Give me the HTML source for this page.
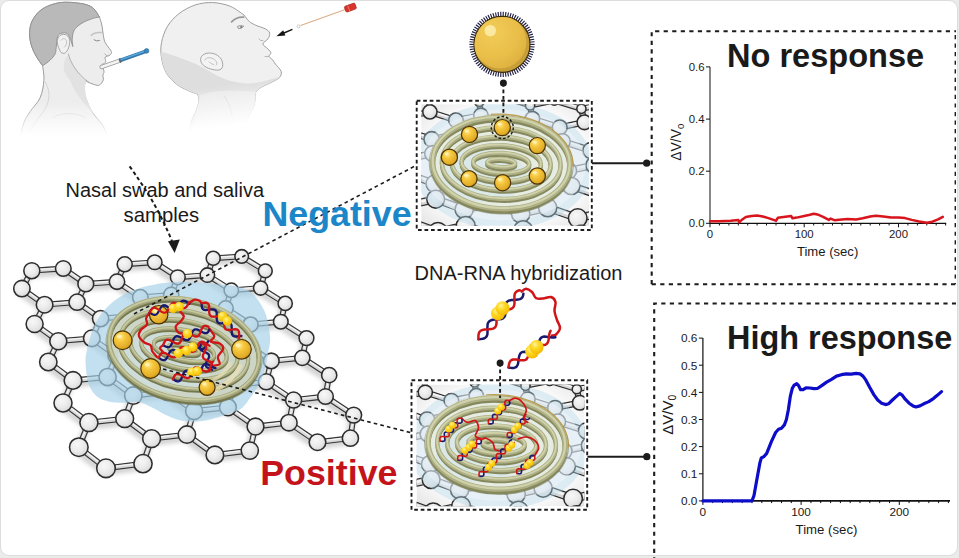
<!DOCTYPE html>
<html><head><meta charset="utf-8"><title>figure</title>
<style>
html,body{margin:0;padding:0;}
body{width:959px;height:558px;background:#ebebeb;overflow:hidden;position:relative;font-family:"Liberation Sans",sans-serif;}
#card{position:absolute;left:0;top:0;width:955.5px;height:553.6px;background:#fff;border:1px solid #dcdcdc;border-radius:9px;}
svg{position:absolute;left:0;top:0;}
.t{position:absolute;white-space:nowrap;color:#1a1a1a;line-height:1;}
.bo{stroke:#333;stroke-width:5.8;stroke-linecap:butt;}
.bf{stroke:#d8d8d8;stroke-width:3.5;}
.bh{stroke:#f6f6f6;stroke-width:1.1;}
.nd{fill:url(#gs);stroke:#2d2d2d;stroke-width:1.55;}
.dash{fill:none;stroke:#1c1c1c;stroke-width:1.9;stroke-dasharray:3.7 2.8;}
.ax{stroke:#111;stroke-width:1.3;fill:none;}
.tk{stroke:#111;stroke-width:1;}
.tl{font-family:"Liberation Sans",sans-serif;font-size:10.6px;fill:#1a1a1a;}
</style></head><body>
<div id="card"></div>
<svg width="959" height="558" viewBox="0 0 959 558">
<defs>
<radialGradient id="gs" cx="0.40" cy="0.36" r="0.68">
<stop offset="0" stop-color="#f7f7f7"/><stop offset="0.5" stop-color="#ececec"/><stop offset="0.85" stop-color="#dedede"/><stop offset="1" stop-color="#c4c4c4"/>
</radialGradient>
<radialGradient id="gg" cx="0.38" cy="0.32" r="0.75">
<stop offset="0" stop-color="#ffe68a"/><stop offset="0.35" stop-color="#f4c63c"/><stop offset="0.8" stop-color="#e1aa26"/><stop offset="1" stop-color="#b98516"/>
</radialGradient>
<radialGradient id="gy" cx="0.38" cy="0.32" r="0.75">
<stop offset="0" stop-color="#fff3a0"/><stop offset="0.4" stop-color="#ffd820"/><stop offset="1" stop-color="#f0b400"/>
</radialGradient>
</defs>

<filter id="blur" x="-10%" y="-10%" width="120%" height="120%"><feGaussianBlur stdDeviation="2.2"/></filter>
<g filter="url(#blur)" stroke="#8a8a8a" stroke-width="7" stroke-linecap="round" opacity="0.38"><line x1="248.6" y1="328.1" x2="278.8" y2="325.4"/><line x1="248.6" y1="328.1" x2="243.3" y2="347.5"/><line x1="278.8" y1="325.4" x2="304.5" y2="341.8"/><line x1="83.8" y1="287.6" x2="115.0" y2="285.4"/><line x1="83.8" y1="287.6" x2="75.1" y2="305.9"/><line x1="131.3" y1="399.3" x2="165.5" y2="395.8"/><line x1="131.3" y1="399.3" x2="122.7" y2="422.4"/><line x1="315.5" y1="445.9" x2="348.4" y2="441.9"/><line x1="115.0" y1="285.4" x2="138.3" y2="301.0"/><line x1="152.7" y1="266.0" x2="175.8" y2="281.0"/><line x1="165.5" y1="395.8" x2="192.1" y2="414.7"/><line x1="211.9" y1="350.4" x2="243.3" y2="347.5"/><line x1="211.9" y1="350.4" x2="205.6" y2="370.9"/><line x1="42.6" y1="308.4" x2="75.1" y2="305.9"/><line x1="42.6" y1="308.4" x2="32.6" y2="327.7"/><line x1="243.3" y1="347.5" x2="269.3" y2="364.6"/><line x1="75.1" y1="305.9" x2="98.6" y2="322.3"/><line x1="205.6" y1="370.9" x2="232.0" y2="388.9"/><line x1="86.9" y1="426.3" x2="122.7" y2="422.4"/><line x1="86.9" y1="426.3" x2="76.8" y2="450.9"/><line x1="122.7" y1="422.4" x2="149.6" y2="442.4"/><line x1="304.5" y1="341.8" x2="300.3" y2="361.5"/><line x1="138.3" y1="301.0" x2="169.2" y2="298.6"/><line x1="138.3" y1="301.0" x2="130.7" y2="319.6"/><line x1="19.9" y1="292.3" x2="42.6" y2="308.4"/><line x1="211.2" y1="262.0" x2="239.7" y2="260.1"/><line x1="211.2" y1="262.0" x2="205.4" y2="278.8"/><line x1="61.0" y1="406.7" x2="86.9" y2="426.3"/><line x1="192.1" y1="414.7" x2="225.9" y2="411.0"/><line x1="192.1" y1="414.7" x2="184.9" y2="438.3"/><line x1="239.7" y1="260.1" x2="263.3" y2="274.6"/><line x1="300.3" y1="361.5" x2="327.2" y2="378.9"/><line x1="351.7" y1="418.8" x2="348.4" y2="441.9"/><line x1="269.3" y1="364.6" x2="300.3" y2="361.5"/><line x1="269.3" y1="364.6" x2="264.3" y2="385.5"/><line x1="98.6" y1="322.3" x2="130.7" y2="319.6"/><line x1="98.6" y1="322.3" x2="89.8" y2="342.0"/><line x1="149.6" y1="442.4" x2="184.9" y2="438.3"/><line x1="149.6" y1="442.4" x2="141.0" y2="467.4"/><line x1="130.7" y1="319.6" x2="155.0" y2="336.3"/><line x1="169.2" y1="298.6" x2="193.3" y2="314.5"/><line x1="184.9" y1="438.3" x2="212.9" y2="458.6"/><line x1="175.8" y1="281.0" x2="205.4" y2="278.8"/><line x1="175.8" y1="281.0" x2="169.2" y2="298.6"/><line x1="232.0" y1="388.9" x2="264.3" y2="385.5"/><line x1="232.0" y1="388.9" x2="225.9" y2="411.0"/><line x1="205.4" y1="278.8" x2="229.3" y2="294.0"/><line x1="264.3" y1="385.5" x2="291.6" y2="403.8"/><line x1="89.8" y1="342.0" x2="114.3" y2="359.4"/><line x1="225.9" y1="411.0" x2="253.5" y2="430.2"/><line x1="56.3" y1="344.9" x2="89.8" y2="342.0"/><line x1="56.3" y1="344.9" x2="46.3" y2="365.7"/><line x1="104.0" y1="472.0" x2="141.0" y2="467.4"/><line x1="263.3" y1="274.6" x2="258.6" y2="291.7"/><line x1="327.2" y1="378.9" x2="323.5" y2="400.2"/><line x1="155.0" y1="336.3" x2="186.8" y2="333.5"/><line x1="155.0" y1="336.3" x2="147.5" y2="356.3"/><line x1="32.6" y1="327.7" x2="56.3" y2="344.9"/><line x1="229.3" y1="294.0" x2="258.6" y2="291.7"/><line x1="229.3" y1="294.0" x2="223.7" y2="312.0"/><line x1="76.8" y1="450.9" x2="104.0" y2="472.0"/><line x1="212.9" y1="458.6" x2="247.8" y2="454.3"/><line x1="258.6" y1="291.7" x2="283.2" y2="307.1"/><line x1="291.6" y1="403.8" x2="323.5" y2="400.2"/><line x1="291.6" y1="403.8" x2="286.9" y2="426.4"/><line x1="114.3" y1="359.4" x2="147.5" y2="356.3"/><line x1="114.3" y1="359.4" x2="105.6" y2="380.7"/><line x1="323.5" y1="400.2" x2="351.7" y2="418.8"/><line x1="147.5" y1="356.3" x2="172.9" y2="374.1"/><line x1="186.8" y1="333.5" x2="211.9" y2="350.4"/><line x1="193.3" y1="314.5" x2="223.7" y2="312.0"/><line x1="193.3" y1="314.5" x2="186.8" y2="333.5"/><line x1="29.8" y1="274.4" x2="61.3" y2="272.2"/><line x1="29.8" y1="274.4" x2="19.9" y2="292.3"/><line x1="253.5" y1="430.2" x2="286.9" y2="426.4"/><line x1="253.5" y1="430.2" x2="247.8" y2="454.3"/><line x1="223.7" y1="312.0" x2="248.6" y2="328.1"/><line x1="61.3" y1="272.2" x2="83.8" y2="287.6"/><line x1="286.9" y1="426.4" x2="315.5" y2="445.9"/><line x1="71.0" y1="384.1" x2="105.6" y2="380.7"/><line x1="71.0" y1="384.1" x2="61.0" y2="406.7"/><line x1="105.6" y1="380.7" x2="131.3" y2="399.3"/><line x1="283.2" y1="307.1" x2="278.8" y2="325.4"/><line x1="122.7" y1="268.0" x2="152.7" y2="266.0"/><line x1="122.7" y1="268.0" x2="115.0" y2="285.4"/><line x1="172.9" y1="374.1" x2="205.6" y2="370.9"/><line x1="172.9" y1="374.1" x2="165.5" y2="395.8"/><line x1="46.3" y1="365.7" x2="71.0" y2="384.1"/></g>
<g id="lattice" transform="translate(0,1.8)">
<line x1="250.6" y1="322.6" x2="280.8" y2="319.9" class="bo"/>
<line x1="250.6" y1="322.6" x2="245.3" y2="342.0" class="bo"/>
<line x1="280.8" y1="319.9" x2="306.5" y2="336.3" class="bo"/>
<line x1="85.8" y1="282.1" x2="117.0" y2="279.9" class="bo"/>
<line x1="85.8" y1="282.1" x2="77.1" y2="300.4" class="bo"/>
<line x1="133.3" y1="393.8" x2="167.5" y2="390.3" class="bo"/>
<line x1="133.3" y1="393.8" x2="124.7" y2="416.9" class="bo"/>
<line x1="317.5" y1="440.4" x2="350.4" y2="436.4" class="bo"/>
<line x1="117.0" y1="279.9" x2="140.3" y2="295.5" class="bo"/>
<line x1="154.7" y1="260.5" x2="177.8" y2="275.5" class="bo"/>
<line x1="167.5" y1="390.3" x2="194.1" y2="409.2" class="bo"/>
<line x1="213.9" y1="344.9" x2="245.3" y2="342.0" class="bo"/>
<line x1="213.9" y1="344.9" x2="207.6" y2="365.4" class="bo"/>
<line x1="44.6" y1="302.9" x2="77.1" y2="300.4" class="bo"/>
<line x1="44.6" y1="302.9" x2="34.6" y2="322.2" class="bo"/>
<line x1="245.3" y1="342.0" x2="271.3" y2="359.1" class="bo"/>
<line x1="77.1" y1="300.4" x2="100.6" y2="316.8" class="bo"/>
<line x1="207.6" y1="365.4" x2="234.0" y2="383.4" class="bo"/>
<line x1="88.9" y1="420.8" x2="124.7" y2="416.9" class="bo"/>
<line x1="88.9" y1="420.8" x2="78.8" y2="445.4" class="bo"/>
<line x1="124.7" y1="416.9" x2="151.6" y2="436.9" class="bo"/>
<line x1="306.5" y1="336.3" x2="302.3" y2="356.0" class="bo"/>
<line x1="140.3" y1="295.5" x2="171.2" y2="293.1" class="bo"/>
<line x1="140.3" y1="295.5" x2="132.7" y2="314.1" class="bo"/>
<line x1="21.9" y1="286.8" x2="44.6" y2="302.9" class="bo"/>
<line x1="213.2" y1="256.5" x2="241.7" y2="254.6" class="bo"/>
<line x1="213.2" y1="256.5" x2="207.4" y2="273.3" class="bo"/>
<line x1="63.0" y1="401.2" x2="88.9" y2="420.8" class="bo"/>
<line x1="194.1" y1="409.2" x2="227.9" y2="405.5" class="bo"/>
<line x1="194.1" y1="409.2" x2="186.9" y2="432.8" class="bo"/>
<line x1="241.7" y1="254.6" x2="265.3" y2="269.1" class="bo"/>
<line x1="302.3" y1="356.0" x2="329.2" y2="373.4" class="bo"/>
<line x1="353.7" y1="413.3" x2="350.4" y2="436.4" class="bo"/>
<line x1="271.3" y1="359.1" x2="302.3" y2="356.0" class="bo"/>
<line x1="271.3" y1="359.1" x2="266.3" y2="380.0" class="bo"/>
<line x1="100.6" y1="316.8" x2="132.7" y2="314.1" class="bo"/>
<line x1="100.6" y1="316.8" x2="91.8" y2="336.5" class="bo"/>
<line x1="151.6" y1="436.9" x2="186.9" y2="432.8" class="bo"/>
<line x1="151.6" y1="436.9" x2="143.0" y2="461.9" class="bo"/>
<line x1="132.7" y1="314.1" x2="157.0" y2="330.8" class="bo"/>
<line x1="171.2" y1="293.1" x2="195.3" y2="309.0" class="bo"/>
<line x1="186.9" y1="432.8" x2="214.9" y2="453.1" class="bo"/>
<line x1="177.8" y1="275.5" x2="207.4" y2="273.3" class="bo"/>
<line x1="177.8" y1="275.5" x2="171.2" y2="293.1" class="bo"/>
<line x1="234.0" y1="383.4" x2="266.3" y2="380.0" class="bo"/>
<line x1="234.0" y1="383.4" x2="227.9" y2="405.5" class="bo"/>
<line x1="207.4" y1="273.3" x2="231.3" y2="288.5" class="bo"/>
<line x1="266.3" y1="380.0" x2="293.6" y2="398.3" class="bo"/>
<line x1="91.8" y1="336.5" x2="116.3" y2="353.9" class="bo"/>
<line x1="227.9" y1="405.5" x2="255.5" y2="424.7" class="bo"/>
<line x1="58.3" y1="339.4" x2="91.8" y2="336.5" class="bo"/>
<line x1="58.3" y1="339.4" x2="48.3" y2="360.2" class="bo"/>
<line x1="106.0" y1="466.5" x2="143.0" y2="461.9" class="bo"/>
<line x1="265.3" y1="269.1" x2="260.6" y2="286.2" class="bo"/>
<line x1="329.2" y1="373.4" x2="325.5" y2="394.7" class="bo"/>
<line x1="157.0" y1="330.8" x2="188.8" y2="328.0" class="bo"/>
<line x1="157.0" y1="330.8" x2="149.5" y2="350.8" class="bo"/>
<line x1="34.6" y1="322.2" x2="58.3" y2="339.4" class="bo"/>
<line x1="231.3" y1="288.5" x2="260.6" y2="286.2" class="bo"/>
<line x1="231.3" y1="288.5" x2="225.7" y2="306.5" class="bo"/>
<line x1="78.8" y1="445.4" x2="106.0" y2="466.5" class="bo"/>
<line x1="214.9" y1="453.1" x2="249.8" y2="448.8" class="bo"/>
<line x1="260.6" y1="286.2" x2="285.2" y2="301.6" class="bo"/>
<line x1="293.6" y1="398.3" x2="325.5" y2="394.7" class="bo"/>
<line x1="293.6" y1="398.3" x2="288.9" y2="420.9" class="bo"/>
<line x1="116.3" y1="353.9" x2="149.5" y2="350.8" class="bo"/>
<line x1="116.3" y1="353.9" x2="107.6" y2="375.2" class="bo"/>
<line x1="325.5" y1="394.7" x2="353.7" y2="413.3" class="bo"/>
<line x1="149.5" y1="350.8" x2="174.9" y2="368.6" class="bo"/>
<line x1="188.8" y1="328.0" x2="213.9" y2="344.9" class="bo"/>
<line x1="195.3" y1="309.0" x2="225.7" y2="306.5" class="bo"/>
<line x1="195.3" y1="309.0" x2="188.8" y2="328.0" class="bo"/>
<line x1="31.8" y1="268.9" x2="63.3" y2="266.7" class="bo"/>
<line x1="31.8" y1="268.9" x2="21.9" y2="286.8" class="bo"/>
<line x1="255.5" y1="424.7" x2="288.9" y2="420.9" class="bo"/>
<line x1="255.5" y1="424.7" x2="249.8" y2="448.8" class="bo"/>
<line x1="225.7" y1="306.5" x2="250.6" y2="322.6" class="bo"/>
<line x1="63.3" y1="266.7" x2="85.8" y2="282.1" class="bo"/>
<line x1="288.9" y1="420.9" x2="317.5" y2="440.4" class="bo"/>
<line x1="73.0" y1="378.6" x2="107.6" y2="375.2" class="bo"/>
<line x1="73.0" y1="378.6" x2="63.0" y2="401.2" class="bo"/>
<line x1="107.6" y1="375.2" x2="133.3" y2="393.8" class="bo"/>
<line x1="285.2" y1="301.6" x2="280.8" y2="319.9" class="bo"/>
<line x1="124.7" y1="262.5" x2="154.7" y2="260.5" class="bo"/>
<line x1="124.7" y1="262.5" x2="117.0" y2="279.9" class="bo"/>
<line x1="174.9" y1="368.6" x2="207.6" y2="365.4" class="bo"/>
<line x1="174.9" y1="368.6" x2="167.5" y2="390.3" class="bo"/>
<line x1="48.3" y1="360.2" x2="73.0" y2="378.6" class="bo"/>
<line x1="250.6" y1="322.6" x2="280.8" y2="319.9" class="bf"/>
<line x1="250.6" y1="321.8" x2="280.8" y2="319.1" class="bh"/>
<line x1="250.6" y1="322.6" x2="245.3" y2="342.0" class="bf"/>
<line x1="250.6" y1="321.8" x2="245.3" y2="341.2" class="bh"/>
<line x1="280.8" y1="319.9" x2="306.5" y2="336.3" class="bf"/>
<line x1="280.8" y1="319.1" x2="306.5" y2="335.5" class="bh"/>
<line x1="85.8" y1="282.1" x2="117.0" y2="279.9" class="bf"/>
<line x1="85.8" y1="281.3" x2="117.0" y2="279.1" class="bh"/>
<line x1="85.8" y1="282.1" x2="77.1" y2="300.4" class="bf"/>
<line x1="85.8" y1="281.3" x2="77.1" y2="299.6" class="bh"/>
<line x1="133.3" y1="393.8" x2="167.5" y2="390.3" class="bf"/>
<line x1="133.3" y1="393.0" x2="167.5" y2="389.5" class="bh"/>
<line x1="133.3" y1="393.8" x2="124.7" y2="416.9" class="bf"/>
<line x1="133.3" y1="393.0" x2="124.7" y2="416.1" class="bh"/>
<line x1="317.5" y1="440.4" x2="350.4" y2="436.4" class="bf"/>
<line x1="317.5" y1="439.6" x2="350.4" y2="435.6" class="bh"/>
<line x1="117.0" y1="279.9" x2="140.3" y2="295.5" class="bf"/>
<line x1="117.0" y1="279.1" x2="140.3" y2="294.7" class="bh"/>
<line x1="154.7" y1="260.5" x2="177.8" y2="275.5" class="bf"/>
<line x1="154.7" y1="259.7" x2="177.8" y2="274.7" class="bh"/>
<line x1="167.5" y1="390.3" x2="194.1" y2="409.2" class="bf"/>
<line x1="167.5" y1="389.5" x2="194.1" y2="408.4" class="bh"/>
<line x1="213.9" y1="344.9" x2="245.3" y2="342.0" class="bf"/>
<line x1="213.9" y1="344.1" x2="245.3" y2="341.2" class="bh"/>
<line x1="213.9" y1="344.9" x2="207.6" y2="365.4" class="bf"/>
<line x1="213.9" y1="344.1" x2="207.6" y2="364.6" class="bh"/>
<line x1="44.6" y1="302.9" x2="77.1" y2="300.4" class="bf"/>
<line x1="44.6" y1="302.1" x2="77.1" y2="299.6" class="bh"/>
<line x1="44.6" y1="302.9" x2="34.6" y2="322.2" class="bf"/>
<line x1="44.6" y1="302.1" x2="34.6" y2="321.4" class="bh"/>
<line x1="245.3" y1="342.0" x2="271.3" y2="359.1" class="bf"/>
<line x1="245.3" y1="341.2" x2="271.3" y2="358.3" class="bh"/>
<line x1="77.1" y1="300.4" x2="100.6" y2="316.8" class="bf"/>
<line x1="77.1" y1="299.6" x2="100.6" y2="316.0" class="bh"/>
<line x1="207.6" y1="365.4" x2="234.0" y2="383.4" class="bf"/>
<line x1="207.6" y1="364.6" x2="234.0" y2="382.6" class="bh"/>
<line x1="88.9" y1="420.8" x2="124.7" y2="416.9" class="bf"/>
<line x1="88.9" y1="420.0" x2="124.7" y2="416.1" class="bh"/>
<line x1="88.9" y1="420.8" x2="78.8" y2="445.4" class="bf"/>
<line x1="88.9" y1="420.0" x2="78.8" y2="444.6" class="bh"/>
<line x1="124.7" y1="416.9" x2="151.6" y2="436.9" class="bf"/>
<line x1="124.7" y1="416.1" x2="151.6" y2="436.1" class="bh"/>
<line x1="306.5" y1="336.3" x2="302.3" y2="356.0" class="bf"/>
<line x1="306.5" y1="335.5" x2="302.3" y2="355.2" class="bh"/>
<line x1="140.3" y1="295.5" x2="171.2" y2="293.1" class="bf"/>
<line x1="140.3" y1="294.7" x2="171.2" y2="292.3" class="bh"/>
<line x1="140.3" y1="295.5" x2="132.7" y2="314.1" class="bf"/>
<line x1="140.3" y1="294.7" x2="132.7" y2="313.3" class="bh"/>
<line x1="21.9" y1="286.8" x2="44.6" y2="302.9" class="bf"/>
<line x1="21.9" y1="286.0" x2="44.6" y2="302.1" class="bh"/>
<line x1="213.2" y1="256.5" x2="241.7" y2="254.6" class="bf"/>
<line x1="213.2" y1="255.7" x2="241.7" y2="253.8" class="bh"/>
<line x1="213.2" y1="256.5" x2="207.4" y2="273.3" class="bf"/>
<line x1="213.2" y1="255.7" x2="207.4" y2="272.5" class="bh"/>
<line x1="63.0" y1="401.2" x2="88.9" y2="420.8" class="bf"/>
<line x1="63.0" y1="400.4" x2="88.9" y2="420.0" class="bh"/>
<line x1="194.1" y1="409.2" x2="227.9" y2="405.5" class="bf"/>
<line x1="194.1" y1="408.4" x2="227.9" y2="404.7" class="bh"/>
<line x1="194.1" y1="409.2" x2="186.9" y2="432.8" class="bf"/>
<line x1="194.1" y1="408.4" x2="186.9" y2="432.0" class="bh"/>
<line x1="241.7" y1="254.6" x2="265.3" y2="269.1" class="bf"/>
<line x1="241.7" y1="253.8" x2="265.3" y2="268.3" class="bh"/>
<line x1="302.3" y1="356.0" x2="329.2" y2="373.4" class="bf"/>
<line x1="302.3" y1="355.2" x2="329.2" y2="372.6" class="bh"/>
<line x1="353.7" y1="413.3" x2="350.4" y2="436.4" class="bf"/>
<line x1="353.7" y1="412.5" x2="350.4" y2="435.6" class="bh"/>
<line x1="271.3" y1="359.1" x2="302.3" y2="356.0" class="bf"/>
<line x1="271.3" y1="358.3" x2="302.3" y2="355.2" class="bh"/>
<line x1="271.3" y1="359.1" x2="266.3" y2="380.0" class="bf"/>
<line x1="271.3" y1="358.3" x2="266.3" y2="379.2" class="bh"/>
<line x1="100.6" y1="316.8" x2="132.7" y2="314.1" class="bf"/>
<line x1="100.6" y1="316.0" x2="132.7" y2="313.3" class="bh"/>
<line x1="100.6" y1="316.8" x2="91.8" y2="336.5" class="bf"/>
<line x1="100.6" y1="316.0" x2="91.8" y2="335.7" class="bh"/>
<line x1="151.6" y1="436.9" x2="186.9" y2="432.8" class="bf"/>
<line x1="151.6" y1="436.1" x2="186.9" y2="432.0" class="bh"/>
<line x1="151.6" y1="436.9" x2="143.0" y2="461.9" class="bf"/>
<line x1="151.6" y1="436.1" x2="143.0" y2="461.1" class="bh"/>
<line x1="132.7" y1="314.1" x2="157.0" y2="330.8" class="bf"/>
<line x1="132.7" y1="313.3" x2="157.0" y2="330.0" class="bh"/>
<line x1="171.2" y1="293.1" x2="195.3" y2="309.0" class="bf"/>
<line x1="171.2" y1="292.3" x2="195.3" y2="308.2" class="bh"/>
<line x1="186.9" y1="432.8" x2="214.9" y2="453.1" class="bf"/>
<line x1="186.9" y1="432.0" x2="214.9" y2="452.3" class="bh"/>
<line x1="177.8" y1="275.5" x2="207.4" y2="273.3" class="bf"/>
<line x1="177.8" y1="274.7" x2="207.4" y2="272.5" class="bh"/>
<line x1="177.8" y1="275.5" x2="171.2" y2="293.1" class="bf"/>
<line x1="177.8" y1="274.7" x2="171.2" y2="292.3" class="bh"/>
<line x1="234.0" y1="383.4" x2="266.3" y2="380.0" class="bf"/>
<line x1="234.0" y1="382.6" x2="266.3" y2="379.2" class="bh"/>
<line x1="234.0" y1="383.4" x2="227.9" y2="405.5" class="bf"/>
<line x1="234.0" y1="382.6" x2="227.9" y2="404.7" class="bh"/>
<line x1="207.4" y1="273.3" x2="231.3" y2="288.5" class="bf"/>
<line x1="207.4" y1="272.5" x2="231.3" y2="287.7" class="bh"/>
<line x1="266.3" y1="380.0" x2="293.6" y2="398.3" class="bf"/>
<line x1="266.3" y1="379.2" x2="293.6" y2="397.5" class="bh"/>
<line x1="91.8" y1="336.5" x2="116.3" y2="353.9" class="bf"/>
<line x1="91.8" y1="335.7" x2="116.3" y2="353.1" class="bh"/>
<line x1="227.9" y1="405.5" x2="255.5" y2="424.7" class="bf"/>
<line x1="227.9" y1="404.7" x2="255.5" y2="423.9" class="bh"/>
<line x1="58.3" y1="339.4" x2="91.8" y2="336.5" class="bf"/>
<line x1="58.3" y1="338.6" x2="91.8" y2="335.7" class="bh"/>
<line x1="58.3" y1="339.4" x2="48.3" y2="360.2" class="bf"/>
<line x1="58.3" y1="338.6" x2="48.3" y2="359.4" class="bh"/>
<line x1="106.0" y1="466.5" x2="143.0" y2="461.9" class="bf"/>
<line x1="106.0" y1="465.7" x2="143.0" y2="461.1" class="bh"/>
<line x1="265.3" y1="269.1" x2="260.6" y2="286.2" class="bf"/>
<line x1="265.3" y1="268.3" x2="260.6" y2="285.4" class="bh"/>
<line x1="329.2" y1="373.4" x2="325.5" y2="394.7" class="bf"/>
<line x1="329.2" y1="372.6" x2="325.5" y2="393.9" class="bh"/>
<line x1="157.0" y1="330.8" x2="188.8" y2="328.0" class="bf"/>
<line x1="157.0" y1="330.0" x2="188.8" y2="327.2" class="bh"/>
<line x1="157.0" y1="330.8" x2="149.5" y2="350.8" class="bf"/>
<line x1="157.0" y1="330.0" x2="149.5" y2="350.0" class="bh"/>
<line x1="34.6" y1="322.2" x2="58.3" y2="339.4" class="bf"/>
<line x1="34.6" y1="321.4" x2="58.3" y2="338.6" class="bh"/>
<line x1="231.3" y1="288.5" x2="260.6" y2="286.2" class="bf"/>
<line x1="231.3" y1="287.7" x2="260.6" y2="285.4" class="bh"/>
<line x1="231.3" y1="288.5" x2="225.7" y2="306.5" class="bf"/>
<line x1="231.3" y1="287.7" x2="225.7" y2="305.7" class="bh"/>
<line x1="78.8" y1="445.4" x2="106.0" y2="466.5" class="bf"/>
<line x1="78.8" y1="444.6" x2="106.0" y2="465.7" class="bh"/>
<line x1="214.9" y1="453.1" x2="249.8" y2="448.8" class="bf"/>
<line x1="214.9" y1="452.3" x2="249.8" y2="448.0" class="bh"/>
<line x1="260.6" y1="286.2" x2="285.2" y2="301.6" class="bf"/>
<line x1="260.6" y1="285.4" x2="285.2" y2="300.8" class="bh"/>
<line x1="293.6" y1="398.3" x2="325.5" y2="394.7" class="bf"/>
<line x1="293.6" y1="397.5" x2="325.5" y2="393.9" class="bh"/>
<line x1="293.6" y1="398.3" x2="288.9" y2="420.9" class="bf"/>
<line x1="293.6" y1="397.5" x2="288.9" y2="420.1" class="bh"/>
<line x1="116.3" y1="353.9" x2="149.5" y2="350.8" class="bf"/>
<line x1="116.3" y1="353.1" x2="149.5" y2="350.0" class="bh"/>
<line x1="116.3" y1="353.9" x2="107.6" y2="375.2" class="bf"/>
<line x1="116.3" y1="353.1" x2="107.6" y2="374.4" class="bh"/>
<line x1="325.5" y1="394.7" x2="353.7" y2="413.3" class="bf"/>
<line x1="325.5" y1="393.9" x2="353.7" y2="412.5" class="bh"/>
<line x1="149.5" y1="350.8" x2="174.9" y2="368.6" class="bf"/>
<line x1="149.5" y1="350.0" x2="174.9" y2="367.8" class="bh"/>
<line x1="188.8" y1="328.0" x2="213.9" y2="344.9" class="bf"/>
<line x1="188.8" y1="327.2" x2="213.9" y2="344.1" class="bh"/>
<line x1="195.3" y1="309.0" x2="225.7" y2="306.5" class="bf"/>
<line x1="195.3" y1="308.2" x2="225.7" y2="305.7" class="bh"/>
<line x1="195.3" y1="309.0" x2="188.8" y2="328.0" class="bf"/>
<line x1="195.3" y1="308.2" x2="188.8" y2="327.2" class="bh"/>
<line x1="31.8" y1="268.9" x2="63.3" y2="266.7" class="bf"/>
<line x1="31.8" y1="268.1" x2="63.3" y2="265.9" class="bh"/>
<line x1="31.8" y1="268.9" x2="21.9" y2="286.8" class="bf"/>
<line x1="31.8" y1="268.1" x2="21.9" y2="286.0" class="bh"/>
<line x1="255.5" y1="424.7" x2="288.9" y2="420.9" class="bf"/>
<line x1="255.5" y1="423.9" x2="288.9" y2="420.1" class="bh"/>
<line x1="255.5" y1="424.7" x2="249.8" y2="448.8" class="bf"/>
<line x1="255.5" y1="423.9" x2="249.8" y2="448.0" class="bh"/>
<line x1="225.7" y1="306.5" x2="250.6" y2="322.6" class="bf"/>
<line x1="225.7" y1="305.7" x2="250.6" y2="321.8" class="bh"/>
<line x1="63.3" y1="266.7" x2="85.8" y2="282.1" class="bf"/>
<line x1="63.3" y1="265.9" x2="85.8" y2="281.3" class="bh"/>
<line x1="288.9" y1="420.9" x2="317.5" y2="440.4" class="bf"/>
<line x1="288.9" y1="420.1" x2="317.5" y2="439.6" class="bh"/>
<line x1="73.0" y1="378.6" x2="107.6" y2="375.2" class="bf"/>
<line x1="73.0" y1="377.8" x2="107.6" y2="374.4" class="bh"/>
<line x1="73.0" y1="378.6" x2="63.0" y2="401.2" class="bf"/>
<line x1="73.0" y1="377.8" x2="63.0" y2="400.4" class="bh"/>
<line x1="107.6" y1="375.2" x2="133.3" y2="393.8" class="bf"/>
<line x1="107.6" y1="374.4" x2="133.3" y2="393.0" class="bh"/>
<line x1="285.2" y1="301.6" x2="280.8" y2="319.9" class="bf"/>
<line x1="285.2" y1="300.8" x2="280.8" y2="319.1" class="bh"/>
<line x1="124.7" y1="262.5" x2="154.7" y2="260.5" class="bf"/>
<line x1="124.7" y1="261.7" x2="154.7" y2="259.7" class="bh"/>
<line x1="124.7" y1="262.5" x2="117.0" y2="279.9" class="bf"/>
<line x1="124.7" y1="261.7" x2="117.0" y2="279.1" class="bh"/>
<line x1="174.9" y1="368.6" x2="207.6" y2="365.4" class="bf"/>
<line x1="174.9" y1="367.8" x2="207.6" y2="364.6" class="bh"/>
<line x1="174.9" y1="368.6" x2="167.5" y2="390.3" class="bf"/>
<line x1="174.9" y1="367.8" x2="167.5" y2="389.5" class="bh"/>
<line x1="48.3" y1="360.2" x2="73.0" y2="378.6" class="bf"/>
<line x1="48.3" y1="359.4" x2="73.0" y2="377.8" class="bh"/>
<circle cx="241.7" cy="254.6" r="6.8" class="nd"/>
<circle cx="213.2" cy="256.5" r="7.0" class="nd"/>
<circle cx="154.7" cy="260.5" r="7.3" class="nd"/>
<circle cx="124.7" cy="262.5" r="7.5" class="nd"/>
<circle cx="63.3" cy="266.7" r="7.8" class="nd"/>
<circle cx="31.8" cy="268.9" r="8.0" class="nd"/>
<circle cx="265.3" cy="269.1" r="6.9" class="nd"/>
<circle cx="207.4" cy="273.3" r="7.2" class="nd"/>
<circle cx="177.8" cy="275.5" r="7.4" class="nd"/>
<circle cx="117.0" cy="279.9" r="7.7" class="nd"/>
<circle cx="85.8" cy="282.1" r="7.9" class="nd"/>
<circle cx="260.6" cy="286.2" r="7.1" class="nd"/>
<circle cx="21.9" cy="286.8" r="8.2" class="nd"/>
<circle cx="231.3" cy="288.5" r="7.2" class="nd"/>
<circle cx="171.2" cy="293.1" r="7.6" class="nd"/>
<circle cx="140.3" cy="295.5" r="7.7" class="nd"/>
<circle cx="77.1" cy="300.4" r="8.1" class="nd"/>
<circle cx="285.2" cy="301.6" r="7.1" class="nd"/>
<circle cx="44.6" cy="302.9" r="8.3" class="nd"/>
<circle cx="225.7" cy="306.5" r="7.5" class="nd"/>
<circle cx="195.3" cy="309.0" r="7.6" class="nd"/>
<circle cx="132.7" cy="314.1" r="8.0" class="nd"/>
<circle cx="100.6" cy="316.8" r="8.1" class="nd"/>
<circle cx="280.8" cy="319.9" r="7.3" class="nd"/>
<circle cx="34.6" cy="322.2" r="8.5" class="nd"/>
<circle cx="250.6" cy="322.6" r="7.5" class="nd"/>
<circle cx="188.8" cy="328.0" r="7.8" class="nd"/>
<circle cx="157.0" cy="330.8" r="8.0" class="nd"/>
<circle cx="306.5" cy="336.3" r="7.4" class="nd"/>
<circle cx="91.8" cy="336.5" r="8.3" class="nd"/>
<circle cx="58.3" cy="339.4" r="8.5" class="nd"/>
<circle cx="245.3" cy="342.0" r="7.7" class="nd"/>
<circle cx="213.9" cy="344.9" r="7.9" class="nd"/>
<circle cx="149.5" cy="350.8" r="8.2" class="nd"/>
<circle cx="116.3" cy="353.9" r="8.4" class="nd"/>
<circle cx="302.3" cy="356.0" r="7.6" class="nd"/>
<circle cx="271.3" cy="359.1" r="7.8" class="nd"/>
<circle cx="48.3" cy="360.2" r="8.7" class="nd"/>
<circle cx="207.6" cy="365.4" r="8.1" class="nd"/>
<circle cx="174.9" cy="368.6" r="8.3" class="nd"/>
<circle cx="329.2" cy="373.4" r="7.6" class="nd"/>
<circle cx="107.6" cy="375.2" r="8.6" class="nd"/>
<circle cx="73.0" cy="378.6" r="8.8" class="nd"/>
<circle cx="266.3" cy="380.0" r="8.0" class="nd"/>
<circle cx="234.0" cy="383.4" r="8.1" class="nd"/>
<circle cx="167.5" cy="390.3" r="8.5" class="nd"/>
<circle cx="133.3" cy="393.8" r="8.7" class="nd"/>
<circle cx="325.5" cy="394.7" r="7.8" class="nd"/>
<circle cx="293.6" cy="398.3" r="8.0" class="nd"/>
<circle cx="63.0" cy="401.2" r="9.0" class="nd"/>
<circle cx="227.9" cy="405.5" r="8.4" class="nd"/>
<circle cx="194.1" cy="409.2" r="8.5" class="nd"/>
<circle cx="353.7" cy="413.3" r="7.9" class="nd"/>
<circle cx="124.7" cy="416.9" r="8.9" class="nd"/>
<circle cx="88.9" cy="420.8" r="9.0" class="nd"/>
<circle cx="288.9" cy="420.9" r="8.2" class="nd"/>
<circle cx="255.5" cy="424.7" r="8.4" class="nd"/>
<circle cx="186.9" cy="432.8" r="8.7" class="nd"/>
<circle cx="350.4" cy="436.4" r="8.1" class="nd"/>
<circle cx="151.6" cy="436.9" r="8.9" class="nd"/>
<circle cx="317.5" cy="440.4" r="8.3" class="nd"/>
<circle cx="78.8" cy="445.4" r="9.3" class="nd"/>
<circle cx="249.8" cy="448.8" r="8.6" class="nd"/>
<circle cx="214.9" cy="453.1" r="8.8" class="nd"/>
<circle cx="143.0" cy="461.9" r="9.1" class="nd"/>
<circle cx="106.0" cy="466.5" r="9.3" class="nd"/>
</g>
<defs><radialGradient id="ibg" cx="0.5" cy="0.5" r="0.75"><stop offset="0" stop-color="#ffffff"/><stop offset="0.7" stop-color="#f8f8f8"/><stop offset="1" stop-color="#dedede"/></radialGradient>
<radialGradient id="gbig" cx="0.36" cy="0.32" r="0.8"><stop offset="0" stop-color="#f2cc58"/><stop offset="0.6" stop-color="#e9be49"/><stop offset="1" stop-color="#dcae3c"/></radialGradient></defs>
<g id="mainsensor"><path d="M86.5 352.0C88.2 344.2 91.4 330.5 96.0 322.0C100.6 313.5 106.7 306.7 114.0 301.0C121.3 295.3 129.7 291.2 140.0 288.0C150.3 284.8 163.5 282.7 176.0 282.0C188.5 281.3 203.2 282.7 215.0 284.0C226.8 285.3 238.8 285.7 247.0 290.0C255.2 294.3 260.2 302.3 264.0 310.0C267.8 317.7 269.3 329.0 270.0 336.0C270.7 343.0 269.0 347.3 268.3 352.0C267.6 356.7 267.1 359.6 266.0 364.0C264.9 368.4 263.9 373.5 261.7 378.5C259.5 383.5 256.3 388.9 253.0 393.8C249.7 398.7 245.5 404.9 242.0 408.0C238.5 411.1 235.8 411.1 232.0 412.6C228.2 414.1 223.9 415.6 219.0 417.0C214.1 418.4 208.4 420.3 202.6 421.0C196.8 421.7 189.8 421.9 184.0 421.0C178.2 420.1 172.8 417.9 167.6 415.7C162.4 413.5 157.8 410.3 153.0 408.0C148.2 405.7 143.9 402.9 139.0 402.0C134.1 401.1 128.9 402.9 123.8 402.8C118.7 402.7 113.1 402.6 108.5 401.5C103.9 400.4 99.7 398.8 96.4 396.0C93.2 393.2 90.7 389.5 89.0 385.0C87.3 380.5 86.4 374.5 86.0 369.0C85.6 363.5 84.8 359.8 86.5 352.0Z" fill="#a6d1ea" opacity="0.68"/>
<ellipse cx="184.0" cy="350.7" rx="79.4" ry="53.3" transform="rotate(12 184.0 350.7)" fill="#6d6f49" opacity="0.5"/>
<ellipse cx="184.0" cy="349.2" rx="78.5" ry="52.2" transform="rotate(12 184.0 349.2)" fill="#cdd6c6"/>
<ellipse cx="164.4" cy="362.2" rx="47.1" ry="28.7" transform="rotate(12 164.4 362.2)" fill="#cfe3ee" opacity="0.5"/>
<ellipse cx="184.0" cy="351.5" rx="75.8" ry="49.5" transform="rotate(12 184.0 351.5)" fill="none" stroke="#74764d" stroke-width="4.39"/>
<ellipse cx="184.0" cy="349.2" rx="75.8" ry="49.5" transform="rotate(12 184.0 349.2)" fill="none" stroke="#a3a57a" stroke-width="4.72"/>
<ellipse cx="184.0" cy="348.5" rx="75.8" ry="49.5" transform="rotate(12 184.0 348.5)" fill="none" stroke="#c6c8a0" stroke-width="1.98"/>
<ellipse cx="184.0" cy="351.1" rx="65.2" ry="38.3" transform="rotate(12 184.0 351.1)" fill="none" stroke="#74764d" stroke-width="3.60"/>
<ellipse cx="184.0" cy="349.2" rx="65.2" ry="38.3" transform="rotate(12 184.0 349.2)" fill="none" stroke="#a3a57a" stroke-width="3.87"/>
<ellipse cx="184.0" cy="348.7" rx="65.2" ry="38.3" transform="rotate(12 184.0 348.7)" fill="none" stroke="#c6c8a0" stroke-width="1.62"/>
<ellipse cx="184.0" cy="351.1" rx="54.4" ry="28.5" transform="rotate(12 184.0 351.1)" fill="none" stroke="#74764d" stroke-width="3.60"/>
<ellipse cx="184.0" cy="349.2" rx="54.4" ry="28.5" transform="rotate(12 184.0 349.2)" fill="none" stroke="#a3a57a" stroke-width="3.87"/>
<ellipse cx="184.0" cy="348.7" rx="54.4" ry="28.5" transform="rotate(12 184.0 348.7)" fill="none" stroke="#c6c8a0" stroke-width="1.62"/>
<ellipse cx="184.0" cy="351.1" rx="43.6" ry="19.2" transform="rotate(12 184.0 351.1)" fill="none" stroke="#74764d" stroke-width="3.60"/>
<ellipse cx="184.0" cy="349.2" rx="43.6" ry="19.2" transform="rotate(12 184.0 349.2)" fill="none" stroke="#a3a57a" stroke-width="3.87"/>
<ellipse cx="184.0" cy="348.7" rx="43.6" ry="19.2" transform="rotate(12 184.0 348.7)" fill="none" stroke="#c6c8a0" stroke-width="1.62"/>
<ellipse cx="184.0" cy="351.1" rx="30.9" ry="10.8" transform="rotate(12 184.0 351.1)" fill="none" stroke="#74764d" stroke-width="3.60"/>
<ellipse cx="184.0" cy="349.2" rx="30.9" ry="10.8" transform="rotate(12 184.0 349.2)" fill="none" stroke="#a3a57a" stroke-width="3.87"/>
<ellipse cx="184.0" cy="348.7" rx="30.9" ry="10.8" transform="rotate(12 184.0 348.7)" fill="none" stroke="#c6c8a0" stroke-width="1.62"/>
<ellipse cx="184.0" cy="351.1" rx="15.5" ry="4.4" transform="rotate(12 184.0 351.1)" fill="none" stroke="#74764d" stroke-width="3.60"/>
<ellipse cx="184.0" cy="349.2" rx="15.5" ry="4.4" transform="rotate(12 184.0 349.2)" fill="none" stroke="#a3a57a" stroke-width="3.87"/>
<ellipse cx="184.0" cy="348.7" rx="15.5" ry="4.4" transform="rotate(12 184.0 348.7)" fill="none" stroke="#c6c8a0" stroke-width="1.62"/>
<path d="M240 366Q232 382 216 390" fill="none" stroke="#eadfb6" stroke-width="4.2" opacity="0.8" stroke-linecap="round"/>
<path d="M230 364Q224 375 212 381" fill="none" stroke="#eadfb6" stroke-width="3.6" opacity="0.7" stroke-linecap="round"/>
<path d="M149.7 312.5C149.1 313.5 146.5 316.3 146.1 318.3C145.7 320.3 147.9 322.7 147.0 324.6C146.1 326.6 142.1 328.1 140.8 330.0C139.5 331.9 138.4 334.1 139.0 336.2C139.6 338.3 142.4 341.0 144.3 342.5C146.2 344.0 149.2 343.7 150.6 345.2C151.9 346.7 151.3 349.6 152.4 351.5C153.5 353.4 156.2 356.0 156.9 356.9" fill="none" stroke="#cf1518" stroke-width="2.3" stroke-linecap="round"/>
<path d="M189.2 303.1C190.0 302.6 192.4 300.2 194.0 299.8C195.6 299.4 197.7 299.9 199.0 300.5C200.3 301.1 201.2 302.7 201.7 303.1" fill="none" stroke="#cf1518" stroke-width="2.3" stroke-linecap="round"/>
<path d="M180.2 311.5C180.8 312.3 183.8 314.8 183.8 316.5C183.8 318.2 181.5 320.2 180.2 321.9C178.8 323.5 176.0 324.6 175.7 326.4C175.4 328.2 176.8 331.5 178.4 332.7C180.1 333.9 184.4 333.5 185.6 333.6" fill="none" stroke="#cf1518" stroke-width="2.3" stroke-linecap="round"/>
<path d="M208.9 328.2C209.8 329.5 214.0 334.0 214.3 336.2C214.6 338.4 209.8 340.4 210.7 341.6C211.6 342.8 217.6 342.2 219.7 343.4C221.8 344.6 223.5 346.6 223.2 348.8C222.9 351.1 218.5 354.4 217.9 356.9C217.3 359.4 220.6 362.5 219.7 364.0C218.8 365.5 213.7 365.5 212.5 365.8" fill="none" stroke="#cf1518" stroke-width="2.3" stroke-linecap="round"/>
<path d="M163.2 345.2C162.7 345.7 160.0 346.9 160.0 348.0C160.0 349.1 162.5 351.3 163.0 352.0" fill="none" stroke="#cf1518" stroke-width="2.3" stroke-linecap="round"/>
<polyline points="149.7,312.5 151.0,313.4 152.2,314.2 153.4,314.8 154.5,315.1 155.5,315.0 156.5,314.6 157.3,313.8 158.1,312.7 158.8,311.4 159.5,310.0 160.2,308.6 161.0,307.3 161.8,306.3 162.7,305.6 163.6,305.3 164.7,305.3 165.8,305.7 167.0,306.4 168.3,307.2 169.5,308.1 170.8,309.1 172.0,309.8 173.2,310.3 174.3,310.5 175.3,310.3 176.2,309.7 177.0,308.8 177.8,307.7 178.5,306.3 179.2,304.9 179.9,303.6 180.7,302.4 181.5,301.5 182.4,300.9 183.4,300.6 184.5,300.8 185.6,301.2 186.8,302.0 188.1,302.9 189.4,303.8" fill="none" stroke="#191970" stroke-width="2.3" stroke-linecap="round" stroke-linejoin="round"/>
<polyline points="149.7,312.5 150.4,311.1 151.2,309.8 151.9,308.8 152.8,308.0 153.8,307.6 154.8,307.6 155.9,307.9 157.1,308.6 158.4,309.4 159.6,310.3 160.9,311.2 162.1,312.0 163.3,312.6 164.4,312.8 165.4,312.7 166.3,312.2 167.2,311.3 167.9,310.2 168.7,308.9 169.4,307.5 170.1,306.1 170.8,304.9 171.6,303.9 172.5,303.2 173.5,303.0 174.6,303.0 175.7,303.5 176.9,304.2 178.2,305.0 179.4,306.0 180.7,306.9 181.9,307.6 183.1,308.0 184.1,308.2 185.1,307.9 186.0,307.3 186.8,306.4 187.6,305.2 188.3,303.8 189.0,302.4" fill="none" stroke="#cf1518" stroke-width="2.3" stroke-linecap="round" stroke-linejoin="round"/>
<polyline points="201.7,303.1 201.7,305.1 201.8,306.9 202.2,308.3 203.1,309.3 204.3,309.9 205.8,310.1 207.7,309.9 209.6,309.6 211.6,309.4 213.3,309.4 214.7,309.7 215.8,310.5 216.4,311.7 216.7,313.3 216.7,315.2 216.7,317.2 216.7,319.1 217.0,320.8 217.6,322.1 218.6,322.9 219.9,323.3 221.6,323.3 223.6,323.0 225.5,322.7 227.4,322.6 229.0,322.7 230.3,323.2 231.1,324.2 231.6,325.6 231.7,327.4 231.7,329.3 231.7,331.3 231.8,333.1 232.2,334.6 233.0,335.7 234.1,336.3 235.7,336.5 237.5,336.4 239.5,336.1 241.4,335.9" fill="none" stroke="#191970" stroke-width="2.3" stroke-linecap="round" stroke-linejoin="round"/>
<polyline points="201.7,303.1 203.7,302.8 205.4,302.7 206.9,303.0 208.1,303.7 208.8,304.8 209.1,306.3 209.2,308.2 209.2,310.2 209.2,312.1 209.4,313.8 209.9,315.2 210.8,316.1 212.1,316.6 213.7,316.7 215.6,316.5 217.6,316.2 219.5,316.0 221.2,316.0 222.5,316.4 223.4,317.3 224.0,318.6 224.2,320.3 224.2,322.3 224.2,324.3 224.3,326.1 224.6,327.7 225.3,328.9 226.3,329.6 227.8,329.9 229.6,329.8 231.5,329.6 233.5,329.3 235.3,329.2 236.8,329.4 238.0,330.0 238.7,331.1 239.1,332.6 239.2,334.4 239.2,336.4 239.2,338.3" fill="none" stroke="#cf1518" stroke-width="2.3" stroke-linecap="round" stroke-linejoin="round"/>
<polyline points="163.2,345.2 164.8,346.1 166.4,346.8 167.8,347.2 169.1,347.1 170.2,346.4 171.0,345.3 171.8,343.8 172.4,342.1 173.1,340.3 173.8,338.7 174.6,337.4 175.6,336.6 176.8,336.2 178.1,336.4 179.7,337.0 181.3,337.8 182.9,338.8 184.5,339.6 186.0,340.1 187.3,340.2 188.5,339.8 189.4,338.8 190.2,337.5 190.9,335.8 191.6,334.0 192.2,332.3 193.0,330.9 193.9,329.9 195.0,329.3 196.3,329.3 197.8,329.7 199.4,330.5 201.0,331.4 202.6,332.3 204.2,333.0 205.6,333.2 206.8,333.0 207.8,332.3 208.7,331.1 209.4,329.6" fill="none" stroke="#191970" stroke-width="2.3" stroke-linecap="round" stroke-linejoin="round"/>
<polyline points="163.2,345.2 163.8,343.4 164.6,341.9 165.4,340.7 166.4,339.9 167.7,339.7 169.1,340.0 170.6,340.6 172.2,341.5 173.9,342.4 175.5,343.2 176.9,343.7 178.2,343.6 179.3,343.1 180.3,342.1 181.0,340.7 181.7,339.0 182.3,337.2 183.0,335.5 183.8,334.1 184.8,333.2 185.9,332.8 187.2,332.9 188.7,333.4 190.3,334.2 192.0,335.1 193.6,336.0 195.1,336.5 196.5,336.7 197.6,336.4 198.6,335.6 199.5,334.3 200.2,332.7 200.8,330.9 201.5,329.2 202.2,327.7 203.1,326.6 204.1,325.9 205.4,325.8 206.8,326.1 208.4,326.8" fill="none" stroke="#cf1518" stroke-width="2.3" stroke-linecap="round" stroke-linejoin="round"/>
<polyline points="158.7,357.8 160.4,358.9 162.0,359.8 163.5,360.2 164.8,360.0 165.9,359.2 166.9,357.9 167.8,356.3 168.6,354.4 169.4,352.7 170.4,351.2 171.5,350.3 172.7,349.9 174.2,350.1 175.7,350.9 177.4,351.9 179.1,353.0 180.7,354.0 182.2,354.6 183.6,354.6 184.8,354.0 185.8,352.9 186.7,351.3 187.6,349.5 188.4,347.7 189.3,346.1 190.3,345.0 191.5,344.4 192.9,344.5 194.4,345.1 196.1,346.1 197.8,347.2 199.4,348.2 201.0,348.9 202.4,349.1 203.6,348.8 204.7,347.8 205.7,346.3 206.5,344.6 207.3,342.7 208.2,341.1" fill="none" stroke="#191970" stroke-width="2.3" stroke-linecap="round" stroke-linejoin="round"/>
<polyline points="158.7,357.8 159.5,356.0 160.4,354.4 161.5,353.3 162.7,352.7 164.0,352.8 165.6,353.3 167.2,354.3 168.9,355.4 170.5,356.5 172.1,357.2 173.5,357.4 174.8,357.1 175.9,356.1 176.8,354.6 177.7,352.9 178.5,351.0 179.4,349.4 180.4,348.1 181.5,347.3 182.8,347.2 184.3,347.6 185.9,348.5 187.6,349.6 189.2,350.6 190.8,351.5 192.3,351.9 193.6,351.7 194.8,350.9 195.7,349.6 196.6,347.9 197.4,346.1 198.3,344.3 199.3,342.9 200.3,342.0 201.6,341.6 203.0,341.9 204.6,342.6 206.3,343.7 207.9,344.8 209.6,345.7" fill="none" stroke="#cf1518" stroke-width="2.3" stroke-linecap="round" stroke-linejoin="round"/>
<polyline points="201.7,343.4 201.2,344.3 200.7,345.2 200.3,346.1 200.1,346.9 200.0,347.7 200.0,348.4 200.3,349.1 200.7,349.7 201.3,350.3 202.1,350.8 202.9,351.2 203.9,351.6 204.9,352.1 205.8,352.5 206.7,352.9 207.5,353.4 208.2,353.9 208.7,354.5 209.0,355.2 209.1,355.9 209.1,356.6 208.9,357.4 208.6,358.3 208.1,359.2 207.6,360.1 207.1,361.0 206.6,362.0 206.2,362.8 205.9,363.7 205.7,364.5 205.7,365.2 205.9,365.9 206.2,366.6 206.8,367.1 207.5,367.6 208.3,368.1 209.2,368.5 210.2,369.0 211.2,369.4 212.1,369.8" fill="none" stroke="#191970" stroke-width="2.3" stroke-linecap="round" stroke-linejoin="round"/>
<polyline points="201.7,343.4 202.7,343.8 203.6,344.3 204.4,344.7 205.1,345.2 205.7,345.8 206.1,346.4 206.3,347.1 206.3,347.8 206.1,348.6 205.8,349.5 205.4,350.4 204.9,351.3 204.4,352.2 203.9,353.1 203.4,354.0 203.1,354.9 202.9,355.7 202.8,356.5 202.9,357.2 203.3,357.8 203.7,358.4 204.4,358.9 205.2,359.4 206.1,359.9 207.0,360.3 208.0,360.7 209.0,361.2 209.8,361.6 210.6,362.1 211.2,362.7 211.7,363.2 211.9,363.9 212.0,364.6 211.9,365.4 211.7,366.2 211.3,367.1 210.8,368.0 210.3,368.9 209.8,369.9 209.3,370.8" fill="none" stroke="#cf1518" stroke-width="2.3" stroke-linecap="round" stroke-linejoin="round"/>
<polyline points="173.0,379.3 174.5,380.1 175.9,380.9 177.2,381.3 178.4,381.4 179.4,381.0 180.3,380.3 181.1,379.2 181.7,377.8 182.4,376.2 183.0,374.7 183.6,373.2 184.4,372.0 185.2,371.1 186.2,370.7 187.4,370.7 188.6,371.0 190.0,371.6 191.5,372.5 192.9,373.3 194.3,374.1 195.7,374.6 196.9,374.8 198.0,374.6 198.9,374.0 199.7,373.0 200.4,371.6 201.1,370.1 201.7,368.5 202.3,367.0 203.0,365.7 203.8,364.8 204.8,364.2 205.9,364.0 207.1,364.3 208.5,364.8 209.9,365.6 211.4,366.5 212.8,367.3 214.2,367.9 215.5,368.2" fill="none" stroke="#191970" stroke-width="2.3" stroke-linecap="round" stroke-linejoin="round"/>
<polyline points="173.0,379.3 173.6,377.7 174.3,376.3 175.0,375.1 175.9,374.3 176.9,374.0 178.1,374.0 179.4,374.4 180.8,375.0 182.2,375.9 183.7,376.7 185.1,377.5 186.4,378.0 187.6,378.1 188.7,377.8 189.6,377.1 190.4,376.1 191.1,374.7 191.7,373.2 192.3,371.6 193.0,370.1 193.7,368.9 194.5,367.9 195.5,367.4 196.6,367.3 197.9,367.6 199.3,368.2 200.7,369.0 202.2,369.9 203.6,370.7 204.9,371.3 206.2,371.5 207.3,371.4 208.3,370.8 209.1,369.8 209.8,368.6 210.4,367.1 211.0,365.5 211.6,363.9 212.3,362.6 213.1,361.6" fill="none" stroke="#cf1518" stroke-width="2.3" stroke-linecap="round" stroke-linejoin="round"/>
<circle cx="173.0" cy="308.4" r="4.7" fill="url(#gy)"/>
<circle cx="179.3" cy="306.6" r="4.7" fill="url(#gy)"/>
<circle cx="222.6" cy="316.4" r="4.7" fill="url(#gy)"/>
<circle cx="227.4" cy="321.0" r="4.7" fill="url(#gy)"/>
<circle cx="187.4" cy="333.6" r="4.7" fill="url(#gy)"/>
<circle cx="178.4" cy="353.3" r="4.7" fill="url(#gy)"/>
<circle cx="186.5" cy="350.6" r="4.7" fill="url(#gy)"/>
<circle cx="192.8" cy="347.0" r="4.7" fill="url(#gy)"/>
<circle cx="191.9" cy="372.1" r="4.7" fill="url(#gy)"/>
<circle cx="197.2" cy="371.2" r="4.7" fill="url(#gy)"/>
<circle cx="122.6" cy="340.2" r="9.4" fill="url(#gg)" stroke="#4a3204" stroke-width="1.2"/><ellipse cx="119.3" cy="336.3" rx="2.4" ry="1.9" fill="#fff3b8" opacity="0.85"/>
<circle cx="158.7" cy="314.7" r="9.2" fill="url(#gg)" stroke="#4a3204" stroke-width="1.2"/><ellipse cx="155.5" cy="310.8" rx="2.4" ry="1.8" fill="#fff3b8" opacity="0.85"/>
<circle cx="241.5" cy="349.3" r="9.8" fill="url(#gg)" stroke="#4a3204" stroke-width="1.2"/><ellipse cx="238.1" cy="345.2" rx="2.5" ry="2.0" fill="#fff3b8" opacity="0.85"/>
<circle cx="150.6" cy="368.5" r="9.8" fill="url(#gg)" stroke="#4a3204" stroke-width="1.2"/><ellipse cx="147.2" cy="364.4" rx="2.5" ry="2.0" fill="#fff3b8" opacity="0.85"/>
<circle cx="207.1" cy="387.3" r="8.0" fill="url(#gg)" stroke="#4a3204" stroke-width="1.2"/><ellipse cx="204.3" cy="383.9" rx="2.1" ry="1.6" fill="#fff3b8" opacity="0.85"/>
<polyline points="149.7,312.5 150.3,312.9 150.9,313.3 151.4,313.7 152.0,314.0 152.5,314.3 153.1,314.6 153.6,314.8 154.1,314.9 154.6,314.9 155.1,314.9 155.6,314.8 156.0,314.6 156.4,314.4 156.8,314.0 157.2,313.6 157.6,313.2 157.9,312.7 158.3,312.1 158.6,311.5 159.0,310.9 159.3,310.3 159.6,309.6 160.0,309.0 160.3,308.4 160.7,307.9 161.0,307.3 161.4,306.9 161.8,306.5 162.2,306.1 162.6,305.9 163.1,305.7 163.5,305.6 164.0,305.5 164.5,305.6 165.0,305.7 165.5,305.9 166.1,306.1 166.6,306.4 167.2,306.7 167.7,307.1" fill="none" stroke="#191970" stroke-width="2.1" stroke-linecap="round" stroke-linejoin="round"/>
<polyline points="149.7,312.5 150.0,311.9 150.4,311.3 150.7,310.7 151.1,310.1 151.4,309.6 151.8,309.1 152.2,308.7 152.6,308.4 153.0,308.1 153.5,307.9 153.9,307.8 154.4,307.8 154.9,307.8 155.4,308.0 155.9,308.1 156.5,308.4 157.0,308.7 157.6,309.0 158.1,309.4 158.7,309.8 159.3,310.2 159.9,310.6 160.5,311.0 161.0,311.4 161.6,311.8 162.1,312.1 162.7,312.3 163.2,312.5 163.7,312.6 164.2,312.7 164.7,312.7 165.2,312.6 165.6,312.4 166.0,312.1 166.4,311.8 166.8,311.4 167.2,310.9 167.6,310.4 167.9,309.9 168.3,309.3" fill="none" stroke="#cf1518" stroke-width="2.1" stroke-linecap="round" stroke-linejoin="round"/></g>
<g id="insetN"><clipPath id="clipN"><rect x="421.2" y="104.2" width="167.8" height="121.6"/></clipPath>
<g transform="translate(0,0)"><g clip-path="url(#clipN)">
<rect x="421.2" y="104.2" width="167.8" height="121.6" fill="url(#ibg)"/>
<line x1="501.8" y1="84.4" x2="503.7" y2="97.2" stroke="#2e2e2e" stroke-width="5.8"/>
<line x1="551.8" y1="87.6" x2="554.3" y2="100.5" stroke="#2e2e2e" stroke-width="5.9"/>
<line x1="602.2" y1="90.9" x2="605.5" y2="103.9" stroke="#2e2e2e" stroke-width="5.9"/>
<line x1="379.3" y1="95.4" x2="403.8" y2="90.6" stroke="#2e2e2e" stroke-width="5.9"/>
<line x1="403.8" y1="90.6" x2="429.0" y2="98.7" stroke="#2e2e2e" stroke-width="5.9"/>
<line x1="429.0" y1="98.7" x2="453.5" y2="93.9" stroke="#2e2e2e" stroke-width="5.9"/>
<line x1="429.0" y1="98.7" x2="429.9" y2="111.9" stroke="#2e2e2e" stroke-width="6.1"/>
<line x1="453.5" y1="93.9" x2="479.3" y2="102.0" stroke="#2e2e2e" stroke-width="6.0"/>
<line x1="479.3" y1="102.0" x2="503.7" y2="97.2" stroke="#2e2e2e" stroke-width="6.0"/>
<line x1="479.3" y1="102.0" x2="480.9" y2="115.3" stroke="#2e2e2e" stroke-width="6.2"/>
<line x1="503.7" y1="97.2" x2="530.1" y2="105.4" stroke="#2e2e2e" stroke-width="6.0"/>
<line x1="530.1" y1="105.4" x2="554.3" y2="100.5" stroke="#2e2e2e" stroke-width="6.1"/>
<line x1="530.1" y1="105.4" x2="532.4" y2="118.8" stroke="#2e2e2e" stroke-width="6.3"/>
<line x1="554.3" y1="100.5" x2="581.4" y2="108.8" stroke="#2e2e2e" stroke-width="6.1"/>
<line x1="581.4" y1="108.8" x2="605.5" y2="103.9" stroke="#2e2e2e" stroke-width="6.1"/>
<line x1="581.4" y1="108.8" x2="584.4" y2="122.3" stroke="#2e2e2e" stroke-width="6.3"/>
<line x1="605.5" y1="103.9" x2="633.1" y2="112.2" stroke="#2e2e2e" stroke-width="6.2"/>
<line x1="379.4" y1="108.4" x2="404.9" y2="116.8" stroke="#2e2e2e" stroke-width="6.3"/>
<line x1="404.9" y1="116.8" x2="429.9" y2="111.9" stroke="#2e2e2e" stroke-width="6.3"/>
<line x1="404.9" y1="116.8" x2="405.4" y2="130.5" stroke="#2e2e2e" stroke-width="6.5"/>
<line x1="429.9" y1="111.9" x2="456.0" y2="120.3" stroke="#2e2e2e" stroke-width="6.3"/>
<line x1="456.0" y1="120.3" x2="480.9" y2="115.3" stroke="#2e2e2e" stroke-width="6.4"/>
<line x1="456.0" y1="120.3" x2="457.2" y2="134.1" stroke="#2e2e2e" stroke-width="6.6"/>
<line x1="480.9" y1="115.3" x2="507.6" y2="123.8" stroke="#2e2e2e" stroke-width="6.4"/>
<line x1="507.6" y1="123.8" x2="532.4" y2="118.8" stroke="#2e2e2e" stroke-width="6.4"/>
<line x1="507.6" y1="123.8" x2="509.6" y2="137.7" stroke="#2e2e2e" stroke-width="6.6"/>
<line x1="532.4" y1="118.8" x2="559.7" y2="127.4" stroke="#2e2e2e" stroke-width="6.5"/>
<line x1="559.7" y1="127.4" x2="584.4" y2="122.3" stroke="#2e2e2e" stroke-width="6.5"/>
<line x1="559.7" y1="127.4" x2="562.5" y2="141.4" stroke="#2e2e2e" stroke-width="6.7"/>
<line x1="584.4" y1="122.3" x2="612.3" y2="131.0" stroke="#2e2e2e" stroke-width="6.6"/>
<line x1="379.8" y1="135.7" x2="405.4" y2="130.5" stroke="#2e2e2e" stroke-width="6.7"/>
<line x1="405.4" y1="130.5" x2="431.7" y2="139.3" stroke="#2e2e2e" stroke-width="6.7"/>
<line x1="431.7" y1="139.3" x2="457.2" y2="134.1" stroke="#2e2e2e" stroke-width="6.8"/>
<line x1="431.7" y1="139.3" x2="432.7" y2="153.6" stroke="#2e2e2e" stroke-width="7.0"/>
<line x1="457.2" y1="134.1" x2="484.2" y2="143.0" stroke="#2e2e2e" stroke-width="6.8"/>
<line x1="484.2" y1="143.0" x2="509.6" y2="137.7" stroke="#2e2e2e" stroke-width="6.8"/>
<line x1="484.2" y1="143.0" x2="485.9" y2="157.4" stroke="#2e2e2e" stroke-width="7.0"/>
<line x1="509.6" y1="137.7" x2="537.2" y2="146.7" stroke="#2e2e2e" stroke-width="6.9"/>
<line x1="537.2" y1="146.7" x2="562.5" y2="141.4" stroke="#2e2e2e" stroke-width="6.9"/>
<line x1="537.2" y1="146.7" x2="539.7" y2="161.3" stroke="#2e2e2e" stroke-width="7.1"/>
<line x1="562.5" y1="141.4" x2="590.8" y2="150.5" stroke="#2e2e2e" stroke-width="7.0"/>
<line x1="590.8" y1="150.5" x2="615.9" y2="145.1" stroke="#2e2e2e" stroke-width="7.0"/>
<line x1="590.8" y1="150.5" x2="594.1" y2="165.2" stroke="#2e2e2e" stroke-width="7.2"/>
<line x1="380.0" y1="149.9" x2="406.6" y2="159.0" stroke="#2e2e2e" stroke-width="7.1"/>
<line x1="406.6" y1="159.0" x2="432.7" y2="153.6" stroke="#2e2e2e" stroke-width="7.2"/>
<line x1="406.6" y1="159.0" x2="407.2" y2="173.9" stroke="#2e2e2e" stroke-width="7.4"/>
<line x1="432.7" y1="153.6" x2="459.9" y2="162.9" stroke="#2e2e2e" stroke-width="7.2"/>
<line x1="459.9" y1="162.9" x2="485.9" y2="157.4" stroke="#2e2e2e" stroke-width="7.3"/>
<line x1="459.9" y1="162.9" x2="461.3" y2="177.9" stroke="#2e2e2e" stroke-width="7.5"/>
<line x1="485.9" y1="157.4" x2="513.8" y2="166.8" stroke="#2e2e2e" stroke-width="7.3"/>
<line x1="513.8" y1="166.8" x2="539.7" y2="161.3" stroke="#2e2e2e" stroke-width="7.3"/>
<line x1="513.8" y1="166.8" x2="516.0" y2="182.0" stroke="#2e2e2e" stroke-width="7.5"/>
<line x1="539.7" y1="161.3" x2="568.3" y2="170.7" stroke="#2e2e2e" stroke-width="7.4"/>
<line x1="568.3" y1="170.7" x2="594.1" y2="165.2" stroke="#2e2e2e" stroke-width="7.4"/>
<line x1="568.3" y1="170.7" x2="571.3" y2="186.0" stroke="#2e2e2e" stroke-width="7.6"/>
<line x1="594.1" y1="165.2" x2="623.4" y2="174.7" stroke="#2e2e2e" stroke-width="7.5"/>
<line x1="380.4" y1="179.5" x2="407.2" y2="173.9" stroke="#2e2e2e" stroke-width="7.6"/>
<line x1="407.2" y1="173.9" x2="434.7" y2="183.6" stroke="#2e2e2e" stroke-width="7.6"/>
<line x1="434.7" y1="183.6" x2="461.3" y2="177.9" stroke="#2e2e2e" stroke-width="7.7"/>
<line x1="434.7" y1="183.6" x2="435.7" y2="199.2" stroke="#2e2e2e" stroke-width="7.9"/>
<line x1="461.3" y1="177.9" x2="489.5" y2="187.7" stroke="#2e2e2e" stroke-width="7.7"/>
<line x1="489.5" y1="187.7" x2="516.0" y2="182.0" stroke="#2e2e2e" stroke-width="7.8"/>
<line x1="489.5" y1="187.7" x2="491.4" y2="203.5" stroke="#2e2e2e" stroke-width="8.0"/>
<line x1="516.0" y1="182.0" x2="545.0" y2="191.8" stroke="#2e2e2e" stroke-width="7.8"/>
<line x1="545.0" y1="191.8" x2="571.3" y2="186.0" stroke="#2e2e2e" stroke-width="7.8"/>
<line x1="545.0" y1="191.8" x2="547.7" y2="207.7" stroke="#2e2e2e" stroke-width="8.1"/>
<line x1="571.3" y1="186.0" x2="601.0" y2="196.0" stroke="#2e2e2e" stroke-width="7.9"/>
<line x1="601.0" y1="196.0" x2="627.3" y2="190.2" stroke="#2e2e2e" stroke-width="7.9"/>
<line x1="601.0" y1="196.0" x2="604.6" y2="212.1" stroke="#2e2e2e" stroke-width="8.2"/>
<line x1="380.6" y1="195.0" x2="408.4" y2="205.1" stroke="#2e2e2e" stroke-width="8.1"/>
<line x1="408.4" y1="205.1" x2="435.7" y2="199.2" stroke="#2e2e2e" stroke-width="8.1"/>
<line x1="408.4" y1="205.1" x2="409.0" y2="221.4" stroke="#2e2e2e" stroke-width="8.4"/>
<line x1="435.7" y1="199.2" x2="464.2" y2="209.4" stroke="#2e2e2e" stroke-width="8.2"/>
<line x1="464.2" y1="209.4" x2="491.4" y2="203.5" stroke="#2e2e2e" stroke-width="8.2"/>
<line x1="464.2" y1="209.4" x2="465.7" y2="225.8" stroke="#2e2e2e" stroke-width="8.4"/>
<line x1="491.4" y1="203.5" x2="520.7" y2="213.7" stroke="#2e2e2e" stroke-width="8.3"/>
<line x1="520.7" y1="213.7" x2="547.7" y2="207.7" stroke="#2e2e2e" stroke-width="8.3"/>
<line x1="520.7" y1="213.7" x2="523.1" y2="230.3" stroke="#2e2e2e" stroke-width="8.5"/>
<line x1="547.7" y1="207.7" x2="577.7" y2="218.1" stroke="#2e2e2e" stroke-width="8.3"/>
<line x1="577.7" y1="218.1" x2="604.6" y2="212.1" stroke="#2e2e2e" stroke-width="8.4"/>
<line x1="577.7" y1="218.1" x2="581.1" y2="234.9" stroke="#2e2e2e" stroke-width="8.6"/>
<line x1="604.6" y1="212.1" x2="635.4" y2="222.5" stroke="#2e2e2e" stroke-width="8.4"/>
<line x1="381.0" y1="227.5" x2="409.0" y2="221.4" stroke="#2e2e2e" stroke-width="8.6"/>
<line x1="409.0" y1="221.4" x2="437.9" y2="232.0" stroke="#2e2e2e" stroke-width="8.6"/>
<line x1="437.9" y1="232.0" x2="465.7" y2="225.8" stroke="#2e2e2e" stroke-width="8.7"/>
<line x1="437.9" y1="232.0" x2="439.0" y2="249.2" stroke="#2e2e2e" stroke-width="8.9"/>
<line x1="465.7" y1="225.8" x2="495.3" y2="236.6" stroke="#2e2e2e" stroke-width="8.7"/>
<line x1="495.3" y1="236.6" x2="523.1" y2="230.3" stroke="#2e2e2e" stroke-width="8.8"/>
<line x1="495.3" y1="236.6" x2="497.4" y2="253.9" stroke="#2e2e2e" stroke-width="9.0"/>
<line x1="523.1" y1="230.3" x2="553.5" y2="241.2" stroke="#2e2e2e" stroke-width="8.8"/>
<line x1="553.5" y1="241.2" x2="581.1" y2="234.9" stroke="#2e2e2e" stroke-width="8.9"/>
<line x1="581.1" y1="234.9" x2="612.2" y2="245.8" stroke="#2e2e2e" stroke-width="8.9"/>
<line x1="501.8" y1="84.4" x2="503.7" y2="97.2" stroke="#d6d6d6" stroke-width="3.4"/>
<line x1="551.8" y1="87.6" x2="554.3" y2="100.5" stroke="#d6d6d6" stroke-width="3.5"/>
<line x1="602.2" y1="90.9" x2="605.5" y2="103.9" stroke="#d6d6d6" stroke-width="3.5"/>
<line x1="379.3" y1="95.4" x2="403.8" y2="90.6" stroke="#d6d6d6" stroke-width="3.5"/>
<line x1="403.8" y1="90.6" x2="429.0" y2="98.7" stroke="#d6d6d6" stroke-width="3.5"/>
<line x1="429.0" y1="98.7" x2="453.5" y2="93.9" stroke="#d6d6d6" stroke-width="3.5"/>
<line x1="429.0" y1="98.7" x2="429.9" y2="111.9" stroke="#d6d6d6" stroke-width="3.7"/>
<line x1="453.5" y1="93.9" x2="479.3" y2="102.0" stroke="#d6d6d6" stroke-width="3.6"/>
<line x1="479.3" y1="102.0" x2="503.7" y2="97.2" stroke="#d6d6d6" stroke-width="3.6"/>
<line x1="479.3" y1="102.0" x2="480.9" y2="115.3" stroke="#d6d6d6" stroke-width="3.8"/>
<line x1="503.7" y1="97.2" x2="530.1" y2="105.4" stroke="#d6d6d6" stroke-width="3.6"/>
<line x1="530.1" y1="105.4" x2="554.3" y2="100.5" stroke="#d6d6d6" stroke-width="3.7"/>
<line x1="530.1" y1="105.4" x2="532.4" y2="118.8" stroke="#d6d6d6" stroke-width="3.9"/>
<line x1="554.3" y1="100.5" x2="581.4" y2="108.8" stroke="#d6d6d6" stroke-width="3.7"/>
<line x1="581.4" y1="108.8" x2="605.5" y2="103.9" stroke="#d6d6d6" stroke-width="3.7"/>
<line x1="581.4" y1="108.8" x2="584.4" y2="122.3" stroke="#d6d6d6" stroke-width="3.9"/>
<line x1="605.5" y1="103.9" x2="633.1" y2="112.2" stroke="#d6d6d6" stroke-width="3.8"/>
<line x1="379.4" y1="108.4" x2="404.9" y2="116.8" stroke="#d6d6d6" stroke-width="3.9"/>
<line x1="404.9" y1="116.8" x2="429.9" y2="111.9" stroke="#d6d6d6" stroke-width="3.9"/>
<line x1="404.9" y1="116.8" x2="405.4" y2="130.5" stroke="#d6d6d6" stroke-width="4.1"/>
<line x1="429.9" y1="111.9" x2="456.0" y2="120.3" stroke="#d6d6d6" stroke-width="3.9"/>
<line x1="456.0" y1="120.3" x2="480.9" y2="115.3" stroke="#d6d6d6" stroke-width="4.0"/>
<line x1="456.0" y1="120.3" x2="457.2" y2="134.1" stroke="#d6d6d6" stroke-width="4.2"/>
<line x1="480.9" y1="115.3" x2="507.6" y2="123.8" stroke="#d6d6d6" stroke-width="4.0"/>
<line x1="507.6" y1="123.8" x2="532.4" y2="118.8" stroke="#d6d6d6" stroke-width="4.0"/>
<line x1="507.6" y1="123.8" x2="509.6" y2="137.7" stroke="#d6d6d6" stroke-width="4.2"/>
<line x1="532.4" y1="118.8" x2="559.7" y2="127.4" stroke="#d6d6d6" stroke-width="4.1"/>
<line x1="559.7" y1="127.4" x2="584.4" y2="122.3" stroke="#d6d6d6" stroke-width="4.1"/>
<line x1="559.7" y1="127.4" x2="562.5" y2="141.4" stroke="#d6d6d6" stroke-width="4.3"/>
<line x1="584.4" y1="122.3" x2="612.3" y2="131.0" stroke="#d6d6d6" stroke-width="4.2"/>
<line x1="379.8" y1="135.7" x2="405.4" y2="130.5" stroke="#d6d6d6" stroke-width="4.3"/>
<line x1="405.4" y1="130.5" x2="431.7" y2="139.3" stroke="#d6d6d6" stroke-width="4.3"/>
<line x1="431.7" y1="139.3" x2="457.2" y2="134.1" stroke="#d6d6d6" stroke-width="4.4"/>
<line x1="431.7" y1="139.3" x2="432.7" y2="153.6" stroke="#d6d6d6" stroke-width="4.6"/>
<line x1="457.2" y1="134.1" x2="484.2" y2="143.0" stroke="#d6d6d6" stroke-width="4.4"/>
<line x1="484.2" y1="143.0" x2="509.6" y2="137.7" stroke="#d6d6d6" stroke-width="4.4"/>
<line x1="484.2" y1="143.0" x2="485.9" y2="157.4" stroke="#d6d6d6" stroke-width="4.6"/>
<line x1="509.6" y1="137.7" x2="537.2" y2="146.7" stroke="#d6d6d6" stroke-width="4.5"/>
<line x1="537.2" y1="146.7" x2="562.5" y2="141.4" stroke="#d6d6d6" stroke-width="4.5"/>
<line x1="537.2" y1="146.7" x2="539.7" y2="161.3" stroke="#d6d6d6" stroke-width="4.7"/>
<line x1="562.5" y1="141.4" x2="590.8" y2="150.5" stroke="#d6d6d6" stroke-width="4.6"/>
<line x1="590.8" y1="150.5" x2="615.9" y2="145.1" stroke="#d6d6d6" stroke-width="4.6"/>
<line x1="590.8" y1="150.5" x2="594.1" y2="165.2" stroke="#d6d6d6" stroke-width="4.8"/>
<line x1="380.0" y1="149.9" x2="406.6" y2="159.0" stroke="#d6d6d6" stroke-width="4.7"/>
<line x1="406.6" y1="159.0" x2="432.7" y2="153.6" stroke="#d6d6d6" stroke-width="4.8"/>
<line x1="406.6" y1="159.0" x2="407.2" y2="173.9" stroke="#d6d6d6" stroke-width="5.0"/>
<line x1="432.7" y1="153.6" x2="459.9" y2="162.9" stroke="#d6d6d6" stroke-width="4.8"/>
<line x1="459.9" y1="162.9" x2="485.9" y2="157.4" stroke="#d6d6d6" stroke-width="4.9"/>
<line x1="459.9" y1="162.9" x2="461.3" y2="177.9" stroke="#d6d6d6" stroke-width="5.1"/>
<line x1="485.9" y1="157.4" x2="513.8" y2="166.8" stroke="#d6d6d6" stroke-width="4.9"/>
<line x1="513.8" y1="166.8" x2="539.7" y2="161.3" stroke="#d6d6d6" stroke-width="4.9"/>
<line x1="513.8" y1="166.8" x2="516.0" y2="182.0" stroke="#d6d6d6" stroke-width="5.1"/>
<line x1="539.7" y1="161.3" x2="568.3" y2="170.7" stroke="#d6d6d6" stroke-width="5.0"/>
<line x1="568.3" y1="170.7" x2="594.1" y2="165.2" stroke="#d6d6d6" stroke-width="5.0"/>
<line x1="568.3" y1="170.7" x2="571.3" y2="186.0" stroke="#d6d6d6" stroke-width="5.2"/>
<line x1="594.1" y1="165.2" x2="623.4" y2="174.7" stroke="#d6d6d6" stroke-width="5.1"/>
<line x1="380.4" y1="179.5" x2="407.2" y2="173.9" stroke="#d6d6d6" stroke-width="5.2"/>
<line x1="407.2" y1="173.9" x2="434.7" y2="183.6" stroke="#d6d6d6" stroke-width="5.2"/>
<line x1="434.7" y1="183.6" x2="461.3" y2="177.9" stroke="#d6d6d6" stroke-width="5.3"/>
<line x1="434.7" y1="183.6" x2="435.7" y2="199.2" stroke="#d6d6d6" stroke-width="5.5"/>
<line x1="461.3" y1="177.9" x2="489.5" y2="187.7" stroke="#d6d6d6" stroke-width="5.3"/>
<line x1="489.5" y1="187.7" x2="516.0" y2="182.0" stroke="#d6d6d6" stroke-width="5.4"/>
<line x1="489.5" y1="187.7" x2="491.4" y2="203.5" stroke="#d6d6d6" stroke-width="5.6"/>
<line x1="516.0" y1="182.0" x2="545.0" y2="191.8" stroke="#d6d6d6" stroke-width="5.4"/>
<line x1="545.0" y1="191.8" x2="571.3" y2="186.0" stroke="#d6d6d6" stroke-width="5.4"/>
<line x1="545.0" y1="191.8" x2="547.7" y2="207.7" stroke="#d6d6d6" stroke-width="5.7"/>
<line x1="571.3" y1="186.0" x2="601.0" y2="196.0" stroke="#d6d6d6" stroke-width="5.5"/>
<line x1="601.0" y1="196.0" x2="627.3" y2="190.2" stroke="#d6d6d6" stroke-width="5.5"/>
<line x1="601.0" y1="196.0" x2="604.6" y2="212.1" stroke="#d6d6d6" stroke-width="5.8"/>
<line x1="380.6" y1="195.0" x2="408.4" y2="205.1" stroke="#d6d6d6" stroke-width="5.7"/>
<line x1="408.4" y1="205.1" x2="435.7" y2="199.2" stroke="#d6d6d6" stroke-width="5.7"/>
<line x1="408.4" y1="205.1" x2="409.0" y2="221.4" stroke="#d6d6d6" stroke-width="6.0"/>
<line x1="435.7" y1="199.2" x2="464.2" y2="209.4" stroke="#d6d6d6" stroke-width="5.8"/>
<line x1="464.2" y1="209.4" x2="491.4" y2="203.5" stroke="#d6d6d6" stroke-width="5.8"/>
<line x1="464.2" y1="209.4" x2="465.7" y2="225.8" stroke="#d6d6d6" stroke-width="6.0"/>
<line x1="491.4" y1="203.5" x2="520.7" y2="213.7" stroke="#d6d6d6" stroke-width="5.9"/>
<line x1="520.7" y1="213.7" x2="547.7" y2="207.7" stroke="#d6d6d6" stroke-width="5.9"/>
<line x1="520.7" y1="213.7" x2="523.1" y2="230.3" stroke="#d6d6d6" stroke-width="6.1"/>
<line x1="547.7" y1="207.7" x2="577.7" y2="218.1" stroke="#d6d6d6" stroke-width="5.9"/>
<line x1="577.7" y1="218.1" x2="604.6" y2="212.1" stroke="#d6d6d6" stroke-width="6.0"/>
<line x1="577.7" y1="218.1" x2="581.1" y2="234.9" stroke="#d6d6d6" stroke-width="6.2"/>
<line x1="604.6" y1="212.1" x2="635.4" y2="222.5" stroke="#d6d6d6" stroke-width="6.0"/>
<line x1="381.0" y1="227.5" x2="409.0" y2="221.4" stroke="#d6d6d6" stroke-width="6.2"/>
<line x1="409.0" y1="221.4" x2="437.9" y2="232.0" stroke="#d6d6d6" stroke-width="6.2"/>
<line x1="437.9" y1="232.0" x2="465.7" y2="225.8" stroke="#d6d6d6" stroke-width="6.3"/>
<line x1="437.9" y1="232.0" x2="439.0" y2="249.2" stroke="#d6d6d6" stroke-width="6.5"/>
<line x1="465.7" y1="225.8" x2="495.3" y2="236.6" stroke="#d6d6d6" stroke-width="6.3"/>
<line x1="495.3" y1="236.6" x2="523.1" y2="230.3" stroke="#d6d6d6" stroke-width="6.4"/>
<line x1="495.3" y1="236.6" x2="497.4" y2="253.9" stroke="#d6d6d6" stroke-width="6.6"/>
<line x1="523.1" y1="230.3" x2="553.5" y2="241.2" stroke="#d6d6d6" stroke-width="6.4"/>
<line x1="553.5" y1="241.2" x2="581.1" y2="234.9" stroke="#d6d6d6" stroke-width="6.5"/>
<line x1="581.1" y1="234.9" x2="612.2" y2="245.8" stroke="#d6d6d6" stroke-width="6.5"/>
<line x1="501.8" y1="83.5" x2="503.7" y2="96.3" stroke="#f7f7f7" stroke-width="1.4"/>
<line x1="551.8" y1="86.7" x2="554.3" y2="99.6" stroke="#f7f7f7" stroke-width="1.4"/>
<line x1="602.2" y1="90.0" x2="605.5" y2="103.0" stroke="#f7f7f7" stroke-width="1.4"/>
<line x1="379.3" y1="94.5" x2="403.8" y2="89.7" stroke="#f7f7f7" stroke-width="1.4"/>
<line x1="403.8" y1="89.7" x2="429.0" y2="97.8" stroke="#f7f7f7" stroke-width="1.4"/>
<line x1="429.0" y1="97.8" x2="453.5" y2="93.0" stroke="#f7f7f7" stroke-width="1.4"/>
<line x1="429.0" y1="97.8" x2="429.9" y2="111.0" stroke="#f7f7f7" stroke-width="1.5"/>
<line x1="453.5" y1="93.0" x2="479.3" y2="101.1" stroke="#f7f7f7" stroke-width="1.4"/>
<line x1="479.3" y1="101.1" x2="503.7" y2="96.3" stroke="#f7f7f7" stroke-width="1.4"/>
<line x1="479.3" y1="101.1" x2="480.9" y2="114.4" stroke="#f7f7f7" stroke-width="1.5"/>
<line x1="503.7" y1="96.3" x2="530.1" y2="104.5" stroke="#f7f7f7" stroke-width="1.5"/>
<line x1="530.1" y1="104.5" x2="554.3" y2="99.6" stroke="#f7f7f7" stroke-width="1.5"/>
<line x1="530.1" y1="104.5" x2="532.4" y2="117.9" stroke="#f7f7f7" stroke-width="1.5"/>
<line x1="554.3" y1="99.6" x2="581.4" y2="107.9" stroke="#f7f7f7" stroke-width="1.5"/>
<line x1="581.4" y1="107.9" x2="605.5" y2="103.0" stroke="#f7f7f7" stroke-width="1.5"/>
<line x1="581.4" y1="107.9" x2="584.4" y2="121.4" stroke="#f7f7f7" stroke-width="1.6"/>
<line x1="605.5" y1="103.0" x2="633.1" y2="111.3" stroke="#f7f7f7" stroke-width="1.5"/>
<line x1="379.4" y1="107.5" x2="404.9" y2="115.9" stroke="#f7f7f7" stroke-width="1.5"/>
<line x1="404.9" y1="115.9" x2="429.9" y2="111.0" stroke="#f7f7f7" stroke-width="1.6"/>
<line x1="404.9" y1="115.9" x2="405.4" y2="129.6" stroke="#f7f7f7" stroke-width="1.6"/>
<line x1="429.9" y1="111.0" x2="456.0" y2="119.4" stroke="#f7f7f7" stroke-width="1.6"/>
<line x1="456.0" y1="119.4" x2="480.9" y2="114.4" stroke="#f7f7f7" stroke-width="1.6"/>
<line x1="456.0" y1="119.4" x2="457.2" y2="133.2" stroke="#f7f7f7" stroke-width="1.7"/>
<line x1="480.9" y1="114.4" x2="507.6" y2="122.9" stroke="#f7f7f7" stroke-width="1.6"/>
<line x1="507.6" y1="122.9" x2="532.4" y2="117.9" stroke="#f7f7f7" stroke-width="1.6"/>
<line x1="507.6" y1="122.9" x2="509.6" y2="136.8" stroke="#f7f7f7" stroke-width="1.7"/>
<line x1="532.4" y1="117.9" x2="559.7" y2="126.5" stroke="#f7f7f7" stroke-width="1.6"/>
<line x1="559.7" y1="126.5" x2="584.4" y2="121.4" stroke="#f7f7f7" stroke-width="1.6"/>
<line x1="559.7" y1="126.5" x2="562.5" y2="140.5" stroke="#f7f7f7" stroke-width="1.7"/>
<line x1="584.4" y1="121.4" x2="612.3" y2="130.1" stroke="#f7f7f7" stroke-width="1.7"/>
<line x1="379.8" y1="134.8" x2="405.4" y2="129.6" stroke="#f7f7f7" stroke-width="1.7"/>
<line x1="405.4" y1="129.6" x2="431.7" y2="138.4" stroke="#f7f7f7" stroke-width="1.7"/>
<line x1="431.7" y1="138.4" x2="457.2" y2="133.2" stroke="#f7f7f7" stroke-width="1.7"/>
<line x1="431.7" y1="138.4" x2="432.7" y2="152.7" stroke="#f7f7f7" stroke-width="1.8"/>
<line x1="457.2" y1="133.2" x2="484.2" y2="142.1" stroke="#f7f7f7" stroke-width="1.8"/>
<line x1="484.2" y1="142.1" x2="509.6" y2="136.8" stroke="#f7f7f7" stroke-width="1.8"/>
<line x1="484.2" y1="142.1" x2="485.9" y2="156.5" stroke="#f7f7f7" stroke-width="1.9"/>
<line x1="509.6" y1="136.8" x2="537.2" y2="145.8" stroke="#f7f7f7" stroke-width="1.8"/>
<line x1="537.2" y1="145.8" x2="562.5" y2="140.5" stroke="#f7f7f7" stroke-width="1.8"/>
<line x1="537.2" y1="145.8" x2="539.7" y2="160.4" stroke="#f7f7f7" stroke-width="1.9"/>
<line x1="562.5" y1="140.5" x2="590.8" y2="149.6" stroke="#f7f7f7" stroke-width="1.8"/>
<line x1="590.8" y1="149.6" x2="615.9" y2="144.2" stroke="#f7f7f7" stroke-width="1.8"/>
<line x1="590.8" y1="149.6" x2="594.1" y2="164.3" stroke="#f7f7f7" stroke-width="1.9"/>
<line x1="380.0" y1="149.0" x2="406.6" y2="158.1" stroke="#f7f7f7" stroke-width="1.9"/>
<line x1="406.6" y1="158.1" x2="432.7" y2="152.7" stroke="#f7f7f7" stroke-width="1.9"/>
<line x1="406.6" y1="158.1" x2="407.2" y2="173.0" stroke="#f7f7f7" stroke-width="2.0"/>
<line x1="432.7" y1="152.7" x2="459.9" y2="162.0" stroke="#f7f7f7" stroke-width="1.9"/>
<line x1="459.9" y1="162.0" x2="485.9" y2="156.5" stroke="#f7f7f7" stroke-width="1.9"/>
<line x1="459.9" y1="162.0" x2="461.3" y2="177.0" stroke="#f7f7f7" stroke-width="2.0"/>
<line x1="485.9" y1="156.5" x2="513.8" y2="165.9" stroke="#f7f7f7" stroke-width="2.0"/>
<line x1="513.8" y1="165.9" x2="539.7" y2="160.4" stroke="#f7f7f7" stroke-width="2.0"/>
<line x1="513.8" y1="165.9" x2="516.0" y2="181.1" stroke="#f7f7f7" stroke-width="2.1"/>
<line x1="539.7" y1="160.4" x2="568.3" y2="169.8" stroke="#f7f7f7" stroke-width="2.0"/>
<line x1="568.3" y1="169.8" x2="594.1" y2="164.3" stroke="#f7f7f7" stroke-width="2.0"/>
<line x1="568.3" y1="169.8" x2="571.3" y2="185.1" stroke="#f7f7f7" stroke-width="2.1"/>
<line x1="594.1" y1="164.3" x2="623.4" y2="173.8" stroke="#f7f7f7" stroke-width="2.0"/>
<line x1="380.4" y1="178.6" x2="407.2" y2="173.0" stroke="#f7f7f7" stroke-width="2.1"/>
<line x1="407.2" y1="173.0" x2="434.7" y2="182.7" stroke="#f7f7f7" stroke-width="2.1"/>
<line x1="434.7" y1="182.7" x2="461.3" y2="177.0" stroke="#f7f7f7" stroke-width="2.1"/>
<line x1="434.7" y1="182.7" x2="435.7" y2="198.3" stroke="#f7f7f7" stroke-width="2.2"/>
<line x1="461.3" y1="177.0" x2="489.5" y2="186.8" stroke="#f7f7f7" stroke-width="2.1"/>
<line x1="489.5" y1="186.8" x2="516.0" y2="181.1" stroke="#f7f7f7" stroke-width="2.1"/>
<line x1="489.5" y1="186.8" x2="491.4" y2="202.6" stroke="#f7f7f7" stroke-width="2.2"/>
<line x1="516.0" y1="181.1" x2="545.0" y2="190.9" stroke="#f7f7f7" stroke-width="2.2"/>
<line x1="545.0" y1="190.9" x2="571.3" y2="185.1" stroke="#f7f7f7" stroke-width="2.2"/>
<line x1="545.0" y1="190.9" x2="547.7" y2="206.8" stroke="#f7f7f7" stroke-width="2.3"/>
<line x1="571.3" y1="185.1" x2="601.0" y2="195.1" stroke="#f7f7f7" stroke-width="2.2"/>
<line x1="601.0" y1="195.1" x2="627.3" y2="189.3" stroke="#f7f7f7" stroke-width="2.2"/>
<line x1="601.0" y1="195.1" x2="604.6" y2="211.2" stroke="#f7f7f7" stroke-width="2.3"/>
<line x1="380.6" y1="194.1" x2="408.4" y2="204.2" stroke="#f7f7f7" stroke-width="2.3"/>
<line x1="408.4" y1="204.2" x2="435.7" y2="198.3" stroke="#f7f7f7" stroke-width="2.3"/>
<line x1="408.4" y1="204.2" x2="409.0" y2="220.5" stroke="#f7f7f7" stroke-width="2.4"/>
<line x1="435.7" y1="198.3" x2="464.2" y2="208.5" stroke="#f7f7f7" stroke-width="2.3"/>
<line x1="464.2" y1="208.5" x2="491.4" y2="202.6" stroke="#f7f7f7" stroke-width="2.3"/>
<line x1="464.2" y1="208.5" x2="465.7" y2="224.9" stroke="#f7f7f7" stroke-width="2.4"/>
<line x1="491.4" y1="202.6" x2="520.7" y2="212.8" stroke="#f7f7f7" stroke-width="2.3"/>
<line x1="520.7" y1="212.8" x2="547.7" y2="206.8" stroke="#f7f7f7" stroke-width="2.4"/>
<line x1="520.7" y1="212.8" x2="523.1" y2="229.4" stroke="#f7f7f7" stroke-width="2.5"/>
<line x1="547.7" y1="206.8" x2="577.7" y2="217.2" stroke="#f7f7f7" stroke-width="2.4"/>
<line x1="577.7" y1="217.2" x2="604.6" y2="211.2" stroke="#f7f7f7" stroke-width="2.4"/>
<line x1="577.7" y1="217.2" x2="581.1" y2="234.0" stroke="#f7f7f7" stroke-width="2.5"/>
<line x1="604.6" y1="211.2" x2="635.4" y2="221.6" stroke="#f7f7f7" stroke-width="2.4"/>
<line x1="381.0" y1="226.6" x2="409.0" y2="220.5" stroke="#f7f7f7" stroke-width="2.5"/>
<line x1="409.0" y1="220.5" x2="437.9" y2="231.1" stroke="#f7f7f7" stroke-width="2.5"/>
<line x1="437.9" y1="231.1" x2="465.7" y2="224.9" stroke="#f7f7f7" stroke-width="2.5"/>
<line x1="437.9" y1="231.1" x2="439.0" y2="248.3" stroke="#f7f7f7" stroke-width="2.6"/>
<line x1="465.7" y1="224.9" x2="495.3" y2="235.7" stroke="#f7f7f7" stroke-width="2.5"/>
<line x1="495.3" y1="235.7" x2="523.1" y2="229.4" stroke="#f7f7f7" stroke-width="2.6"/>
<line x1="495.3" y1="235.7" x2="497.4" y2="253.0" stroke="#f7f7f7" stroke-width="2.6"/>
<line x1="523.1" y1="229.4" x2="553.5" y2="240.3" stroke="#f7f7f7" stroke-width="2.6"/>
<line x1="553.5" y1="240.3" x2="581.1" y2="234.0" stroke="#f7f7f7" stroke-width="2.6"/>
<line x1="581.1" y1="234.0" x2="612.2" y2="244.9" stroke="#f7f7f7" stroke-width="2.6"/>
<circle cx="503.7" cy="97.2" r="4.6" class="nd"/>
<circle cx="429.0" cy="98.7" r="4.6" class="nd"/>
<circle cx="554.3" cy="100.5" r="4.6" class="nd"/>
<circle cx="479.3" cy="102.0" r="4.6" class="nd"/>
<circle cx="605.5" cy="103.9" r="4.6" class="nd"/>
<circle cx="530.1" cy="105.4" r="4.6" class="nd"/>
<circle cx="581.4" cy="108.8" r="4.6" class="nd"/>
<circle cx="429.9" cy="111.9" r="7.1" class="nd"/>
<circle cx="480.9" cy="115.3" r="7.2" class="nd"/>
<circle cx="404.9" cy="116.8" r="7.2" class="nd"/>
<circle cx="532.4" cy="118.8" r="7.3" class="nd"/>
<circle cx="456.0" cy="120.3" r="7.3" class="nd"/>
<circle cx="584.4" cy="122.3" r="7.3" class="nd"/>
<circle cx="507.6" cy="123.8" r="7.4" class="nd"/>
<circle cx="559.7" cy="127.4" r="7.4" class="nd"/>
<circle cx="405.4" cy="130.5" r="7.5" class="nd"/>
<circle cx="457.2" cy="134.1" r="7.6" class="nd"/>
<circle cx="509.6" cy="137.7" r="7.7" class="nd"/>
<circle cx="431.7" cy="139.3" r="7.7" class="nd"/>
<circle cx="562.5" cy="141.4" r="7.7" class="nd"/>
<circle cx="484.2" cy="143.0" r="7.8" class="nd"/>
<circle cx="537.2" cy="146.7" r="7.8" class="nd"/>
<circle cx="590.8" cy="150.5" r="7.9" class="nd"/>
<circle cx="432.7" cy="153.6" r="8.0" class="nd"/>
<circle cx="485.9" cy="157.4" r="8.0" class="nd"/>
<circle cx="406.6" cy="159.0" r="8.1" class="nd"/>
<circle cx="539.7" cy="161.3" r="8.1" class="nd"/>
<circle cx="459.9" cy="162.9" r="8.2" class="nd"/>
<circle cx="594.1" cy="165.2" r="8.2" class="nd"/>
<circle cx="513.8" cy="166.8" r="8.2" class="nd"/>
<circle cx="568.3" cy="170.7" r="8.3" class="nd"/>
<circle cx="407.2" cy="173.9" r="8.4" class="nd"/>
<circle cx="461.3" cy="177.9" r="8.5" class="nd"/>
<circle cx="516.0" cy="182.0" r="8.5" class="nd"/>
<circle cx="434.7" cy="183.6" r="8.6" class="nd"/>
<circle cx="571.3" cy="186.0" r="8.6" class="nd"/>
<circle cx="489.5" cy="187.7" r="8.7" class="nd"/>
<circle cx="545.0" cy="191.8" r="8.7" class="nd"/>
<circle cx="601.0" cy="196.0" r="8.8" class="nd"/>
<circle cx="435.7" cy="199.2" r="8.9" class="nd"/>
<circle cx="491.4" cy="203.5" r="9.0" class="nd"/>
<circle cx="408.4" cy="205.1" r="9.0" class="nd"/>
<circle cx="547.7" cy="207.7" r="9.1" class="nd"/>
<circle cx="464.2" cy="209.4" r="9.1" class="nd"/>
<circle cx="604.6" cy="212.1" r="9.1" class="nd"/>
<circle cx="520.7" cy="213.7" r="9.2" class="nd"/>
<circle cx="577.7" cy="218.1" r="9.3" class="nd"/>
<circle cx="409.0" cy="221.4" r="9.3" class="nd"/>
<circle cx="465.7" cy="225.8" r="9.4" class="nd"/>
<circle cx="523.1" cy="230.3" r="9.5" class="nd"/>
<circle cx="437.9" cy="232.0" r="9.5" class="nd"/>
<circle cx="581.1" cy="234.9" r="9.6" class="nd"/>
<circle cx="495.3" cy="236.6" r="9.6" class="nd"/>
<ellipse cx="503" cy="166" rx="90" ry="63" fill="#b4d6ec" opacity="0.4"/>
<ellipse cx="503" cy="165" rx="83" ry="55.5" fill="#f4f8fb" opacity="0.4"/>
<ellipse cx="501.2" cy="164.6" rx="72.5" ry="49.9" transform="rotate(2.5 501.2 164.6)" fill="#6d6f49" opacity="0.5"/>
<ellipse cx="501.2" cy="163.1" rx="71.5" ry="48.6" transform="rotate(2.5 501.2 163.1)" fill="#e6ece2"/>
<ellipse cx="483.3" cy="175.2" rx="42.9" ry="26.7" transform="rotate(2.5 483.3 175.2)" fill="#cfe3ee" opacity="0.5"/>
<ellipse cx="501.2" cy="165.7" rx="68.5" ry="45.6" transform="rotate(2.5 501.2 165.7)" fill="none" stroke="#85875c" stroke-width="4.88"/>
<ellipse cx="501.2" cy="163.1" rx="68.5" ry="45.6" transform="rotate(2.5 501.2 163.1)" fill="none" stroke="#adaf84" stroke-width="5.25"/>
<ellipse cx="501.2" cy="162.4" rx="68.5" ry="45.6" transform="rotate(2.5 501.2 162.4)" fill="none" stroke="#d0d2ac" stroke-width="2.20"/>
<ellipse cx="501.2" cy="165.2" rx="59.4" ry="35.7" transform="rotate(2.5 501.2 165.2)" fill="none" stroke="#85875c" stroke-width="4.00"/>
<ellipse cx="501.2" cy="163.1" rx="59.4" ry="35.7" transform="rotate(2.5 501.2 163.1)" fill="none" stroke="#adaf84" stroke-width="4.30"/>
<ellipse cx="501.2" cy="162.5" rx="59.4" ry="35.7" transform="rotate(2.5 501.2 162.5)" fill="none" stroke="#d0d2ac" stroke-width="1.80"/>
<ellipse cx="501.2" cy="165.2" rx="49.5" ry="26.5" transform="rotate(2.5 501.2 165.2)" fill="none" stroke="#85875c" stroke-width="4.00"/>
<ellipse cx="501.2" cy="163.1" rx="49.5" ry="26.5" transform="rotate(2.5 501.2 163.1)" fill="none" stroke="#adaf84" stroke-width="4.30"/>
<ellipse cx="501.2" cy="162.5" rx="49.5" ry="26.5" transform="rotate(2.5 501.2 162.5)" fill="none" stroke="#d0d2ac" stroke-width="1.80"/>
<ellipse cx="501.2" cy="165.2" rx="39.8" ry="17.9" transform="rotate(2.5 501.2 165.2)" fill="none" stroke="#85875c" stroke-width="4.00"/>
<ellipse cx="501.2" cy="163.1" rx="39.8" ry="17.9" transform="rotate(2.5 501.2 163.1)" fill="none" stroke="#adaf84" stroke-width="4.30"/>
<ellipse cx="501.2" cy="162.5" rx="39.8" ry="17.9" transform="rotate(2.5 501.2 162.5)" fill="none" stroke="#d0d2ac" stroke-width="1.80"/>
<ellipse cx="501.2" cy="165.2" rx="28.2" ry="10.1" transform="rotate(2.5 501.2 165.2)" fill="none" stroke="#85875c" stroke-width="4.00"/>
<ellipse cx="501.2" cy="163.1" rx="28.2" ry="10.1" transform="rotate(2.5 501.2 163.1)" fill="none" stroke="#adaf84" stroke-width="4.30"/>
<ellipse cx="501.2" cy="162.5" rx="28.2" ry="10.1" transform="rotate(2.5 501.2 162.5)" fill="none" stroke="#d0d2ac" stroke-width="1.80"/>
<ellipse cx="501.2" cy="165.2" rx="14.1" ry="4.1" transform="rotate(2.5 501.2 165.2)" fill="none" stroke="#85875c" stroke-width="4.00"/>
<ellipse cx="501.2" cy="163.1" rx="14.1" ry="4.1" transform="rotate(2.5 501.2 163.1)" fill="none" stroke="#adaf84" stroke-width="4.30"/>
<ellipse cx="501.2" cy="162.5" rx="14.1" ry="4.1" transform="rotate(2.5 501.2 162.5)" fill="none" stroke="#d0d2ac" stroke-width="1.80"/>
<polyline points="490.8,114.4 496.1,114.2 501.3,114.2 506.6,114.4 511.8,115.0 517.0,115.7 522.1,116.8 527.0,118.1 531.9,119.6 536.5,121.3 541.0,123.3 545.3,125.5 549.3,127.9 553.1,130.5 556.6,133.3 559.8,136.2 562.7,139.3 565.2,142.5 567.4,145.8 569.3,149.2 570.7,152.6 571.9,156.2 572.6,159.7 572.9,163.3 572.9,166.9" fill="none" stroke="#b5923a" stroke-width="1.3" opacity="0.85"/>
<circle cx="469.5" cy="134.4" r="8.1" fill="url(#gg)" stroke="#4a3204" stroke-width="1.2"/><ellipse cx="466.7" cy="131.0" rx="2.1" ry="1.6" fill="#fff3b8" opacity="0.85"/>
<circle cx="502.3" cy="127.6" r="8.1" fill="url(#gg)" stroke="#4a3204" stroke-width="1.2"/><ellipse cx="499.5" cy="124.2" rx="2.1" ry="1.6" fill="#fff3b8" opacity="0.85"/>
<circle cx="537.3" cy="145.6" r="8.1" fill="url(#gg)" stroke="#4a3204" stroke-width="1.2"/><ellipse cx="534.5" cy="142.2" rx="2.1" ry="1.6" fill="#fff3b8" opacity="0.85"/>
<circle cx="449.4" cy="157.2" r="8.1" fill="url(#gg)" stroke="#4a3204" stroke-width="1.2"/><ellipse cx="446.6" cy="153.8" rx="2.1" ry="1.6" fill="#fff3b8" opacity="0.85"/>
<circle cx="469.0" cy="178.7" r="8.1" fill="url(#gg)" stroke="#4a3204" stroke-width="1.2"/><ellipse cx="466.2" cy="175.3" rx="2.1" ry="1.6" fill="#fff3b8" opacity="0.85"/>
<circle cx="502.6" cy="182.7" r="8.1" fill="url(#gg)" stroke="#4a3204" stroke-width="1.2"/><ellipse cx="499.8" cy="179.3" rx="2.1" ry="1.6" fill="#fff3b8" opacity="0.85"/>
<circle cx="537.3" cy="176.0" r="8.1" fill="url(#gg)" stroke="#4a3204" stroke-width="1.2"/><ellipse cx="534.5" cy="172.6" rx="2.1" ry="1.6" fill="#fff3b8" opacity="0.85"/>
<circle cx="502.3" cy="127.6" r="11" fill="none" stroke="#1c1c1c" stroke-width="1.4" stroke-dasharray="2.6 2"/>
</g></g></g>
<g id="insetP"><clipPath id="clipP"><rect x="421.2" y="104.2" width="167.8" height="121.6"/></clipPath>
<g transform="translate(-4.6,280.4)"><g clip-path="url(#clipP)">
<rect x="421.2" y="104.2" width="167.8" height="121.6" fill="url(#ibg)"/>
<line x1="501.8" y1="84.4" x2="503.7" y2="97.2" stroke="#2e2e2e" stroke-width="5.8"/>
<line x1="551.8" y1="87.6" x2="554.3" y2="100.5" stroke="#2e2e2e" stroke-width="5.9"/>
<line x1="602.2" y1="90.9" x2="605.5" y2="103.9" stroke="#2e2e2e" stroke-width="5.9"/>
<line x1="379.3" y1="95.4" x2="403.8" y2="90.6" stroke="#2e2e2e" stroke-width="5.9"/>
<line x1="403.8" y1="90.6" x2="429.0" y2="98.7" stroke="#2e2e2e" stroke-width="5.9"/>
<line x1="429.0" y1="98.7" x2="453.5" y2="93.9" stroke="#2e2e2e" stroke-width="5.9"/>
<line x1="429.0" y1="98.7" x2="429.9" y2="111.9" stroke="#2e2e2e" stroke-width="6.1"/>
<line x1="453.5" y1="93.9" x2="479.3" y2="102.0" stroke="#2e2e2e" stroke-width="6.0"/>
<line x1="479.3" y1="102.0" x2="503.7" y2="97.2" stroke="#2e2e2e" stroke-width="6.0"/>
<line x1="479.3" y1="102.0" x2="480.9" y2="115.3" stroke="#2e2e2e" stroke-width="6.2"/>
<line x1="503.7" y1="97.2" x2="530.1" y2="105.4" stroke="#2e2e2e" stroke-width="6.0"/>
<line x1="530.1" y1="105.4" x2="554.3" y2="100.5" stroke="#2e2e2e" stroke-width="6.1"/>
<line x1="530.1" y1="105.4" x2="532.4" y2="118.8" stroke="#2e2e2e" stroke-width="6.3"/>
<line x1="554.3" y1="100.5" x2="581.4" y2="108.8" stroke="#2e2e2e" stroke-width="6.1"/>
<line x1="581.4" y1="108.8" x2="605.5" y2="103.9" stroke="#2e2e2e" stroke-width="6.1"/>
<line x1="581.4" y1="108.8" x2="584.4" y2="122.3" stroke="#2e2e2e" stroke-width="6.3"/>
<line x1="605.5" y1="103.9" x2="633.1" y2="112.2" stroke="#2e2e2e" stroke-width="6.2"/>
<line x1="379.4" y1="108.4" x2="404.9" y2="116.8" stroke="#2e2e2e" stroke-width="6.3"/>
<line x1="404.9" y1="116.8" x2="429.9" y2="111.9" stroke="#2e2e2e" stroke-width="6.3"/>
<line x1="404.9" y1="116.8" x2="405.4" y2="130.5" stroke="#2e2e2e" stroke-width="6.5"/>
<line x1="429.9" y1="111.9" x2="456.0" y2="120.3" stroke="#2e2e2e" stroke-width="6.3"/>
<line x1="456.0" y1="120.3" x2="480.9" y2="115.3" stroke="#2e2e2e" stroke-width="6.4"/>
<line x1="456.0" y1="120.3" x2="457.2" y2="134.1" stroke="#2e2e2e" stroke-width="6.6"/>
<line x1="480.9" y1="115.3" x2="507.6" y2="123.8" stroke="#2e2e2e" stroke-width="6.4"/>
<line x1="507.6" y1="123.8" x2="532.4" y2="118.8" stroke="#2e2e2e" stroke-width="6.4"/>
<line x1="507.6" y1="123.8" x2="509.6" y2="137.7" stroke="#2e2e2e" stroke-width="6.6"/>
<line x1="532.4" y1="118.8" x2="559.7" y2="127.4" stroke="#2e2e2e" stroke-width="6.5"/>
<line x1="559.7" y1="127.4" x2="584.4" y2="122.3" stroke="#2e2e2e" stroke-width="6.5"/>
<line x1="559.7" y1="127.4" x2="562.5" y2="141.4" stroke="#2e2e2e" stroke-width="6.7"/>
<line x1="584.4" y1="122.3" x2="612.3" y2="131.0" stroke="#2e2e2e" stroke-width="6.6"/>
<line x1="379.8" y1="135.7" x2="405.4" y2="130.5" stroke="#2e2e2e" stroke-width="6.7"/>
<line x1="405.4" y1="130.5" x2="431.7" y2="139.3" stroke="#2e2e2e" stroke-width="6.7"/>
<line x1="431.7" y1="139.3" x2="457.2" y2="134.1" stroke="#2e2e2e" stroke-width="6.8"/>
<line x1="431.7" y1="139.3" x2="432.7" y2="153.6" stroke="#2e2e2e" stroke-width="7.0"/>
<line x1="457.2" y1="134.1" x2="484.2" y2="143.0" stroke="#2e2e2e" stroke-width="6.8"/>
<line x1="484.2" y1="143.0" x2="509.6" y2="137.7" stroke="#2e2e2e" stroke-width="6.8"/>
<line x1="484.2" y1="143.0" x2="485.9" y2="157.4" stroke="#2e2e2e" stroke-width="7.0"/>
<line x1="509.6" y1="137.7" x2="537.2" y2="146.7" stroke="#2e2e2e" stroke-width="6.9"/>
<line x1="537.2" y1="146.7" x2="562.5" y2="141.4" stroke="#2e2e2e" stroke-width="6.9"/>
<line x1="537.2" y1="146.7" x2="539.7" y2="161.3" stroke="#2e2e2e" stroke-width="7.1"/>
<line x1="562.5" y1="141.4" x2="590.8" y2="150.5" stroke="#2e2e2e" stroke-width="7.0"/>
<line x1="590.8" y1="150.5" x2="615.9" y2="145.1" stroke="#2e2e2e" stroke-width="7.0"/>
<line x1="590.8" y1="150.5" x2="594.1" y2="165.2" stroke="#2e2e2e" stroke-width="7.2"/>
<line x1="380.0" y1="149.9" x2="406.6" y2="159.0" stroke="#2e2e2e" stroke-width="7.1"/>
<line x1="406.6" y1="159.0" x2="432.7" y2="153.6" stroke="#2e2e2e" stroke-width="7.2"/>
<line x1="406.6" y1="159.0" x2="407.2" y2="173.9" stroke="#2e2e2e" stroke-width="7.4"/>
<line x1="432.7" y1="153.6" x2="459.9" y2="162.9" stroke="#2e2e2e" stroke-width="7.2"/>
<line x1="459.9" y1="162.9" x2="485.9" y2="157.4" stroke="#2e2e2e" stroke-width="7.3"/>
<line x1="459.9" y1="162.9" x2="461.3" y2="177.9" stroke="#2e2e2e" stroke-width="7.5"/>
<line x1="485.9" y1="157.4" x2="513.8" y2="166.8" stroke="#2e2e2e" stroke-width="7.3"/>
<line x1="513.8" y1="166.8" x2="539.7" y2="161.3" stroke="#2e2e2e" stroke-width="7.3"/>
<line x1="513.8" y1="166.8" x2="516.0" y2="182.0" stroke="#2e2e2e" stroke-width="7.5"/>
<line x1="539.7" y1="161.3" x2="568.3" y2="170.7" stroke="#2e2e2e" stroke-width="7.4"/>
<line x1="568.3" y1="170.7" x2="594.1" y2="165.2" stroke="#2e2e2e" stroke-width="7.4"/>
<line x1="568.3" y1="170.7" x2="571.3" y2="186.0" stroke="#2e2e2e" stroke-width="7.6"/>
<line x1="594.1" y1="165.2" x2="623.4" y2="174.7" stroke="#2e2e2e" stroke-width="7.5"/>
<line x1="380.4" y1="179.5" x2="407.2" y2="173.9" stroke="#2e2e2e" stroke-width="7.6"/>
<line x1="407.2" y1="173.9" x2="434.7" y2="183.6" stroke="#2e2e2e" stroke-width="7.6"/>
<line x1="434.7" y1="183.6" x2="461.3" y2="177.9" stroke="#2e2e2e" stroke-width="7.7"/>
<line x1="434.7" y1="183.6" x2="435.7" y2="199.2" stroke="#2e2e2e" stroke-width="7.9"/>
<line x1="461.3" y1="177.9" x2="489.5" y2="187.7" stroke="#2e2e2e" stroke-width="7.7"/>
<line x1="489.5" y1="187.7" x2="516.0" y2="182.0" stroke="#2e2e2e" stroke-width="7.8"/>
<line x1="489.5" y1="187.7" x2="491.4" y2="203.5" stroke="#2e2e2e" stroke-width="8.0"/>
<line x1="516.0" y1="182.0" x2="545.0" y2="191.8" stroke="#2e2e2e" stroke-width="7.8"/>
<line x1="545.0" y1="191.8" x2="571.3" y2="186.0" stroke="#2e2e2e" stroke-width="7.8"/>
<line x1="545.0" y1="191.8" x2="547.7" y2="207.7" stroke="#2e2e2e" stroke-width="8.1"/>
<line x1="571.3" y1="186.0" x2="601.0" y2="196.0" stroke="#2e2e2e" stroke-width="7.9"/>
<line x1="601.0" y1="196.0" x2="627.3" y2="190.2" stroke="#2e2e2e" stroke-width="7.9"/>
<line x1="601.0" y1="196.0" x2="604.6" y2="212.1" stroke="#2e2e2e" stroke-width="8.2"/>
<line x1="380.6" y1="195.0" x2="408.4" y2="205.1" stroke="#2e2e2e" stroke-width="8.1"/>
<line x1="408.4" y1="205.1" x2="435.7" y2="199.2" stroke="#2e2e2e" stroke-width="8.1"/>
<line x1="408.4" y1="205.1" x2="409.0" y2="221.4" stroke="#2e2e2e" stroke-width="8.4"/>
<line x1="435.7" y1="199.2" x2="464.2" y2="209.4" stroke="#2e2e2e" stroke-width="8.2"/>
<line x1="464.2" y1="209.4" x2="491.4" y2="203.5" stroke="#2e2e2e" stroke-width="8.2"/>
<line x1="464.2" y1="209.4" x2="465.7" y2="225.8" stroke="#2e2e2e" stroke-width="8.4"/>
<line x1="491.4" y1="203.5" x2="520.7" y2="213.7" stroke="#2e2e2e" stroke-width="8.3"/>
<line x1="520.7" y1="213.7" x2="547.7" y2="207.7" stroke="#2e2e2e" stroke-width="8.3"/>
<line x1="520.7" y1="213.7" x2="523.1" y2="230.3" stroke="#2e2e2e" stroke-width="8.5"/>
<line x1="547.7" y1="207.7" x2="577.7" y2="218.1" stroke="#2e2e2e" stroke-width="8.3"/>
<line x1="577.7" y1="218.1" x2="604.6" y2="212.1" stroke="#2e2e2e" stroke-width="8.4"/>
<line x1="577.7" y1="218.1" x2="581.1" y2="234.9" stroke="#2e2e2e" stroke-width="8.6"/>
<line x1="604.6" y1="212.1" x2="635.4" y2="222.5" stroke="#2e2e2e" stroke-width="8.4"/>
<line x1="381.0" y1="227.5" x2="409.0" y2="221.4" stroke="#2e2e2e" stroke-width="8.6"/>
<line x1="409.0" y1="221.4" x2="437.9" y2="232.0" stroke="#2e2e2e" stroke-width="8.6"/>
<line x1="437.9" y1="232.0" x2="465.7" y2="225.8" stroke="#2e2e2e" stroke-width="8.7"/>
<line x1="437.9" y1="232.0" x2="439.0" y2="249.2" stroke="#2e2e2e" stroke-width="8.9"/>
<line x1="465.7" y1="225.8" x2="495.3" y2="236.6" stroke="#2e2e2e" stroke-width="8.7"/>
<line x1="495.3" y1="236.6" x2="523.1" y2="230.3" stroke="#2e2e2e" stroke-width="8.8"/>
<line x1="495.3" y1="236.6" x2="497.4" y2="253.9" stroke="#2e2e2e" stroke-width="9.0"/>
<line x1="523.1" y1="230.3" x2="553.5" y2="241.2" stroke="#2e2e2e" stroke-width="8.8"/>
<line x1="553.5" y1="241.2" x2="581.1" y2="234.9" stroke="#2e2e2e" stroke-width="8.9"/>
<line x1="581.1" y1="234.9" x2="612.2" y2="245.8" stroke="#2e2e2e" stroke-width="8.9"/>
<line x1="501.8" y1="84.4" x2="503.7" y2="97.2" stroke="#d6d6d6" stroke-width="3.4"/>
<line x1="551.8" y1="87.6" x2="554.3" y2="100.5" stroke="#d6d6d6" stroke-width="3.5"/>
<line x1="602.2" y1="90.9" x2="605.5" y2="103.9" stroke="#d6d6d6" stroke-width="3.5"/>
<line x1="379.3" y1="95.4" x2="403.8" y2="90.6" stroke="#d6d6d6" stroke-width="3.5"/>
<line x1="403.8" y1="90.6" x2="429.0" y2="98.7" stroke="#d6d6d6" stroke-width="3.5"/>
<line x1="429.0" y1="98.7" x2="453.5" y2="93.9" stroke="#d6d6d6" stroke-width="3.5"/>
<line x1="429.0" y1="98.7" x2="429.9" y2="111.9" stroke="#d6d6d6" stroke-width="3.7"/>
<line x1="453.5" y1="93.9" x2="479.3" y2="102.0" stroke="#d6d6d6" stroke-width="3.6"/>
<line x1="479.3" y1="102.0" x2="503.7" y2="97.2" stroke="#d6d6d6" stroke-width="3.6"/>
<line x1="479.3" y1="102.0" x2="480.9" y2="115.3" stroke="#d6d6d6" stroke-width="3.8"/>
<line x1="503.7" y1="97.2" x2="530.1" y2="105.4" stroke="#d6d6d6" stroke-width="3.6"/>
<line x1="530.1" y1="105.4" x2="554.3" y2="100.5" stroke="#d6d6d6" stroke-width="3.7"/>
<line x1="530.1" y1="105.4" x2="532.4" y2="118.8" stroke="#d6d6d6" stroke-width="3.9"/>
<line x1="554.3" y1="100.5" x2="581.4" y2="108.8" stroke="#d6d6d6" stroke-width="3.7"/>
<line x1="581.4" y1="108.8" x2="605.5" y2="103.9" stroke="#d6d6d6" stroke-width="3.7"/>
<line x1="581.4" y1="108.8" x2="584.4" y2="122.3" stroke="#d6d6d6" stroke-width="3.9"/>
<line x1="605.5" y1="103.9" x2="633.1" y2="112.2" stroke="#d6d6d6" stroke-width="3.8"/>
<line x1="379.4" y1="108.4" x2="404.9" y2="116.8" stroke="#d6d6d6" stroke-width="3.9"/>
<line x1="404.9" y1="116.8" x2="429.9" y2="111.9" stroke="#d6d6d6" stroke-width="3.9"/>
<line x1="404.9" y1="116.8" x2="405.4" y2="130.5" stroke="#d6d6d6" stroke-width="4.1"/>
<line x1="429.9" y1="111.9" x2="456.0" y2="120.3" stroke="#d6d6d6" stroke-width="3.9"/>
<line x1="456.0" y1="120.3" x2="480.9" y2="115.3" stroke="#d6d6d6" stroke-width="4.0"/>
<line x1="456.0" y1="120.3" x2="457.2" y2="134.1" stroke="#d6d6d6" stroke-width="4.2"/>
<line x1="480.9" y1="115.3" x2="507.6" y2="123.8" stroke="#d6d6d6" stroke-width="4.0"/>
<line x1="507.6" y1="123.8" x2="532.4" y2="118.8" stroke="#d6d6d6" stroke-width="4.0"/>
<line x1="507.6" y1="123.8" x2="509.6" y2="137.7" stroke="#d6d6d6" stroke-width="4.2"/>
<line x1="532.4" y1="118.8" x2="559.7" y2="127.4" stroke="#d6d6d6" stroke-width="4.1"/>
<line x1="559.7" y1="127.4" x2="584.4" y2="122.3" stroke="#d6d6d6" stroke-width="4.1"/>
<line x1="559.7" y1="127.4" x2="562.5" y2="141.4" stroke="#d6d6d6" stroke-width="4.3"/>
<line x1="584.4" y1="122.3" x2="612.3" y2="131.0" stroke="#d6d6d6" stroke-width="4.2"/>
<line x1="379.8" y1="135.7" x2="405.4" y2="130.5" stroke="#d6d6d6" stroke-width="4.3"/>
<line x1="405.4" y1="130.5" x2="431.7" y2="139.3" stroke="#d6d6d6" stroke-width="4.3"/>
<line x1="431.7" y1="139.3" x2="457.2" y2="134.1" stroke="#d6d6d6" stroke-width="4.4"/>
<line x1="431.7" y1="139.3" x2="432.7" y2="153.6" stroke="#d6d6d6" stroke-width="4.6"/>
<line x1="457.2" y1="134.1" x2="484.2" y2="143.0" stroke="#d6d6d6" stroke-width="4.4"/>
<line x1="484.2" y1="143.0" x2="509.6" y2="137.7" stroke="#d6d6d6" stroke-width="4.4"/>
<line x1="484.2" y1="143.0" x2="485.9" y2="157.4" stroke="#d6d6d6" stroke-width="4.6"/>
<line x1="509.6" y1="137.7" x2="537.2" y2="146.7" stroke="#d6d6d6" stroke-width="4.5"/>
<line x1="537.2" y1="146.7" x2="562.5" y2="141.4" stroke="#d6d6d6" stroke-width="4.5"/>
<line x1="537.2" y1="146.7" x2="539.7" y2="161.3" stroke="#d6d6d6" stroke-width="4.7"/>
<line x1="562.5" y1="141.4" x2="590.8" y2="150.5" stroke="#d6d6d6" stroke-width="4.6"/>
<line x1="590.8" y1="150.5" x2="615.9" y2="145.1" stroke="#d6d6d6" stroke-width="4.6"/>
<line x1="590.8" y1="150.5" x2="594.1" y2="165.2" stroke="#d6d6d6" stroke-width="4.8"/>
<line x1="380.0" y1="149.9" x2="406.6" y2="159.0" stroke="#d6d6d6" stroke-width="4.7"/>
<line x1="406.6" y1="159.0" x2="432.7" y2="153.6" stroke="#d6d6d6" stroke-width="4.8"/>
<line x1="406.6" y1="159.0" x2="407.2" y2="173.9" stroke="#d6d6d6" stroke-width="5.0"/>
<line x1="432.7" y1="153.6" x2="459.9" y2="162.9" stroke="#d6d6d6" stroke-width="4.8"/>
<line x1="459.9" y1="162.9" x2="485.9" y2="157.4" stroke="#d6d6d6" stroke-width="4.9"/>
<line x1="459.9" y1="162.9" x2="461.3" y2="177.9" stroke="#d6d6d6" stroke-width="5.1"/>
<line x1="485.9" y1="157.4" x2="513.8" y2="166.8" stroke="#d6d6d6" stroke-width="4.9"/>
<line x1="513.8" y1="166.8" x2="539.7" y2="161.3" stroke="#d6d6d6" stroke-width="4.9"/>
<line x1="513.8" y1="166.8" x2="516.0" y2="182.0" stroke="#d6d6d6" stroke-width="5.1"/>
<line x1="539.7" y1="161.3" x2="568.3" y2="170.7" stroke="#d6d6d6" stroke-width="5.0"/>
<line x1="568.3" y1="170.7" x2="594.1" y2="165.2" stroke="#d6d6d6" stroke-width="5.0"/>
<line x1="568.3" y1="170.7" x2="571.3" y2="186.0" stroke="#d6d6d6" stroke-width="5.2"/>
<line x1="594.1" y1="165.2" x2="623.4" y2="174.7" stroke="#d6d6d6" stroke-width="5.1"/>
<line x1="380.4" y1="179.5" x2="407.2" y2="173.9" stroke="#d6d6d6" stroke-width="5.2"/>
<line x1="407.2" y1="173.9" x2="434.7" y2="183.6" stroke="#d6d6d6" stroke-width="5.2"/>
<line x1="434.7" y1="183.6" x2="461.3" y2="177.9" stroke="#d6d6d6" stroke-width="5.3"/>
<line x1="434.7" y1="183.6" x2="435.7" y2="199.2" stroke="#d6d6d6" stroke-width="5.5"/>
<line x1="461.3" y1="177.9" x2="489.5" y2="187.7" stroke="#d6d6d6" stroke-width="5.3"/>
<line x1="489.5" y1="187.7" x2="516.0" y2="182.0" stroke="#d6d6d6" stroke-width="5.4"/>
<line x1="489.5" y1="187.7" x2="491.4" y2="203.5" stroke="#d6d6d6" stroke-width="5.6"/>
<line x1="516.0" y1="182.0" x2="545.0" y2="191.8" stroke="#d6d6d6" stroke-width="5.4"/>
<line x1="545.0" y1="191.8" x2="571.3" y2="186.0" stroke="#d6d6d6" stroke-width="5.4"/>
<line x1="545.0" y1="191.8" x2="547.7" y2="207.7" stroke="#d6d6d6" stroke-width="5.7"/>
<line x1="571.3" y1="186.0" x2="601.0" y2="196.0" stroke="#d6d6d6" stroke-width="5.5"/>
<line x1="601.0" y1="196.0" x2="627.3" y2="190.2" stroke="#d6d6d6" stroke-width="5.5"/>
<line x1="601.0" y1="196.0" x2="604.6" y2="212.1" stroke="#d6d6d6" stroke-width="5.8"/>
<line x1="380.6" y1="195.0" x2="408.4" y2="205.1" stroke="#d6d6d6" stroke-width="5.7"/>
<line x1="408.4" y1="205.1" x2="435.7" y2="199.2" stroke="#d6d6d6" stroke-width="5.7"/>
<line x1="408.4" y1="205.1" x2="409.0" y2="221.4" stroke="#d6d6d6" stroke-width="6.0"/>
<line x1="435.7" y1="199.2" x2="464.2" y2="209.4" stroke="#d6d6d6" stroke-width="5.8"/>
<line x1="464.2" y1="209.4" x2="491.4" y2="203.5" stroke="#d6d6d6" stroke-width="5.8"/>
<line x1="464.2" y1="209.4" x2="465.7" y2="225.8" stroke="#d6d6d6" stroke-width="6.0"/>
<line x1="491.4" y1="203.5" x2="520.7" y2="213.7" stroke="#d6d6d6" stroke-width="5.9"/>
<line x1="520.7" y1="213.7" x2="547.7" y2="207.7" stroke="#d6d6d6" stroke-width="5.9"/>
<line x1="520.7" y1="213.7" x2="523.1" y2="230.3" stroke="#d6d6d6" stroke-width="6.1"/>
<line x1="547.7" y1="207.7" x2="577.7" y2="218.1" stroke="#d6d6d6" stroke-width="5.9"/>
<line x1="577.7" y1="218.1" x2="604.6" y2="212.1" stroke="#d6d6d6" stroke-width="6.0"/>
<line x1="577.7" y1="218.1" x2="581.1" y2="234.9" stroke="#d6d6d6" stroke-width="6.2"/>
<line x1="604.6" y1="212.1" x2="635.4" y2="222.5" stroke="#d6d6d6" stroke-width="6.0"/>
<line x1="381.0" y1="227.5" x2="409.0" y2="221.4" stroke="#d6d6d6" stroke-width="6.2"/>
<line x1="409.0" y1="221.4" x2="437.9" y2="232.0" stroke="#d6d6d6" stroke-width="6.2"/>
<line x1="437.9" y1="232.0" x2="465.7" y2="225.8" stroke="#d6d6d6" stroke-width="6.3"/>
<line x1="437.9" y1="232.0" x2="439.0" y2="249.2" stroke="#d6d6d6" stroke-width="6.5"/>
<line x1="465.7" y1="225.8" x2="495.3" y2="236.6" stroke="#d6d6d6" stroke-width="6.3"/>
<line x1="495.3" y1="236.6" x2="523.1" y2="230.3" stroke="#d6d6d6" stroke-width="6.4"/>
<line x1="495.3" y1="236.6" x2="497.4" y2="253.9" stroke="#d6d6d6" stroke-width="6.6"/>
<line x1="523.1" y1="230.3" x2="553.5" y2="241.2" stroke="#d6d6d6" stroke-width="6.4"/>
<line x1="553.5" y1="241.2" x2="581.1" y2="234.9" stroke="#d6d6d6" stroke-width="6.5"/>
<line x1="581.1" y1="234.9" x2="612.2" y2="245.8" stroke="#d6d6d6" stroke-width="6.5"/>
<line x1="501.8" y1="83.5" x2="503.7" y2="96.3" stroke="#f7f7f7" stroke-width="1.4"/>
<line x1="551.8" y1="86.7" x2="554.3" y2="99.6" stroke="#f7f7f7" stroke-width="1.4"/>
<line x1="602.2" y1="90.0" x2="605.5" y2="103.0" stroke="#f7f7f7" stroke-width="1.4"/>
<line x1="379.3" y1="94.5" x2="403.8" y2="89.7" stroke="#f7f7f7" stroke-width="1.4"/>
<line x1="403.8" y1="89.7" x2="429.0" y2="97.8" stroke="#f7f7f7" stroke-width="1.4"/>
<line x1="429.0" y1="97.8" x2="453.5" y2="93.0" stroke="#f7f7f7" stroke-width="1.4"/>
<line x1="429.0" y1="97.8" x2="429.9" y2="111.0" stroke="#f7f7f7" stroke-width="1.5"/>
<line x1="453.5" y1="93.0" x2="479.3" y2="101.1" stroke="#f7f7f7" stroke-width="1.4"/>
<line x1="479.3" y1="101.1" x2="503.7" y2="96.3" stroke="#f7f7f7" stroke-width="1.4"/>
<line x1="479.3" y1="101.1" x2="480.9" y2="114.4" stroke="#f7f7f7" stroke-width="1.5"/>
<line x1="503.7" y1="96.3" x2="530.1" y2="104.5" stroke="#f7f7f7" stroke-width="1.5"/>
<line x1="530.1" y1="104.5" x2="554.3" y2="99.6" stroke="#f7f7f7" stroke-width="1.5"/>
<line x1="530.1" y1="104.5" x2="532.4" y2="117.9" stroke="#f7f7f7" stroke-width="1.5"/>
<line x1="554.3" y1="99.6" x2="581.4" y2="107.9" stroke="#f7f7f7" stroke-width="1.5"/>
<line x1="581.4" y1="107.9" x2="605.5" y2="103.0" stroke="#f7f7f7" stroke-width="1.5"/>
<line x1="581.4" y1="107.9" x2="584.4" y2="121.4" stroke="#f7f7f7" stroke-width="1.6"/>
<line x1="605.5" y1="103.0" x2="633.1" y2="111.3" stroke="#f7f7f7" stroke-width="1.5"/>
<line x1="379.4" y1="107.5" x2="404.9" y2="115.9" stroke="#f7f7f7" stroke-width="1.5"/>
<line x1="404.9" y1="115.9" x2="429.9" y2="111.0" stroke="#f7f7f7" stroke-width="1.6"/>
<line x1="404.9" y1="115.9" x2="405.4" y2="129.6" stroke="#f7f7f7" stroke-width="1.6"/>
<line x1="429.9" y1="111.0" x2="456.0" y2="119.4" stroke="#f7f7f7" stroke-width="1.6"/>
<line x1="456.0" y1="119.4" x2="480.9" y2="114.4" stroke="#f7f7f7" stroke-width="1.6"/>
<line x1="456.0" y1="119.4" x2="457.2" y2="133.2" stroke="#f7f7f7" stroke-width="1.7"/>
<line x1="480.9" y1="114.4" x2="507.6" y2="122.9" stroke="#f7f7f7" stroke-width="1.6"/>
<line x1="507.6" y1="122.9" x2="532.4" y2="117.9" stroke="#f7f7f7" stroke-width="1.6"/>
<line x1="507.6" y1="122.9" x2="509.6" y2="136.8" stroke="#f7f7f7" stroke-width="1.7"/>
<line x1="532.4" y1="117.9" x2="559.7" y2="126.5" stroke="#f7f7f7" stroke-width="1.6"/>
<line x1="559.7" y1="126.5" x2="584.4" y2="121.4" stroke="#f7f7f7" stroke-width="1.6"/>
<line x1="559.7" y1="126.5" x2="562.5" y2="140.5" stroke="#f7f7f7" stroke-width="1.7"/>
<line x1="584.4" y1="121.4" x2="612.3" y2="130.1" stroke="#f7f7f7" stroke-width="1.7"/>
<line x1="379.8" y1="134.8" x2="405.4" y2="129.6" stroke="#f7f7f7" stroke-width="1.7"/>
<line x1="405.4" y1="129.6" x2="431.7" y2="138.4" stroke="#f7f7f7" stroke-width="1.7"/>
<line x1="431.7" y1="138.4" x2="457.2" y2="133.2" stroke="#f7f7f7" stroke-width="1.7"/>
<line x1="431.7" y1="138.4" x2="432.7" y2="152.7" stroke="#f7f7f7" stroke-width="1.8"/>
<line x1="457.2" y1="133.2" x2="484.2" y2="142.1" stroke="#f7f7f7" stroke-width="1.8"/>
<line x1="484.2" y1="142.1" x2="509.6" y2="136.8" stroke="#f7f7f7" stroke-width="1.8"/>
<line x1="484.2" y1="142.1" x2="485.9" y2="156.5" stroke="#f7f7f7" stroke-width="1.9"/>
<line x1="509.6" y1="136.8" x2="537.2" y2="145.8" stroke="#f7f7f7" stroke-width="1.8"/>
<line x1="537.2" y1="145.8" x2="562.5" y2="140.5" stroke="#f7f7f7" stroke-width="1.8"/>
<line x1="537.2" y1="145.8" x2="539.7" y2="160.4" stroke="#f7f7f7" stroke-width="1.9"/>
<line x1="562.5" y1="140.5" x2="590.8" y2="149.6" stroke="#f7f7f7" stroke-width="1.8"/>
<line x1="590.8" y1="149.6" x2="615.9" y2="144.2" stroke="#f7f7f7" stroke-width="1.8"/>
<line x1="590.8" y1="149.6" x2="594.1" y2="164.3" stroke="#f7f7f7" stroke-width="1.9"/>
<line x1="380.0" y1="149.0" x2="406.6" y2="158.1" stroke="#f7f7f7" stroke-width="1.9"/>
<line x1="406.6" y1="158.1" x2="432.7" y2="152.7" stroke="#f7f7f7" stroke-width="1.9"/>
<line x1="406.6" y1="158.1" x2="407.2" y2="173.0" stroke="#f7f7f7" stroke-width="2.0"/>
<line x1="432.7" y1="152.7" x2="459.9" y2="162.0" stroke="#f7f7f7" stroke-width="1.9"/>
<line x1="459.9" y1="162.0" x2="485.9" y2="156.5" stroke="#f7f7f7" stroke-width="1.9"/>
<line x1="459.9" y1="162.0" x2="461.3" y2="177.0" stroke="#f7f7f7" stroke-width="2.0"/>
<line x1="485.9" y1="156.5" x2="513.8" y2="165.9" stroke="#f7f7f7" stroke-width="2.0"/>
<line x1="513.8" y1="165.9" x2="539.7" y2="160.4" stroke="#f7f7f7" stroke-width="2.0"/>
<line x1="513.8" y1="165.9" x2="516.0" y2="181.1" stroke="#f7f7f7" stroke-width="2.1"/>
<line x1="539.7" y1="160.4" x2="568.3" y2="169.8" stroke="#f7f7f7" stroke-width="2.0"/>
<line x1="568.3" y1="169.8" x2="594.1" y2="164.3" stroke="#f7f7f7" stroke-width="2.0"/>
<line x1="568.3" y1="169.8" x2="571.3" y2="185.1" stroke="#f7f7f7" stroke-width="2.1"/>
<line x1="594.1" y1="164.3" x2="623.4" y2="173.8" stroke="#f7f7f7" stroke-width="2.0"/>
<line x1="380.4" y1="178.6" x2="407.2" y2="173.0" stroke="#f7f7f7" stroke-width="2.1"/>
<line x1="407.2" y1="173.0" x2="434.7" y2="182.7" stroke="#f7f7f7" stroke-width="2.1"/>
<line x1="434.7" y1="182.7" x2="461.3" y2="177.0" stroke="#f7f7f7" stroke-width="2.1"/>
<line x1="434.7" y1="182.7" x2="435.7" y2="198.3" stroke="#f7f7f7" stroke-width="2.2"/>
<line x1="461.3" y1="177.0" x2="489.5" y2="186.8" stroke="#f7f7f7" stroke-width="2.1"/>
<line x1="489.5" y1="186.8" x2="516.0" y2="181.1" stroke="#f7f7f7" stroke-width="2.1"/>
<line x1="489.5" y1="186.8" x2="491.4" y2="202.6" stroke="#f7f7f7" stroke-width="2.2"/>
<line x1="516.0" y1="181.1" x2="545.0" y2="190.9" stroke="#f7f7f7" stroke-width="2.2"/>
<line x1="545.0" y1="190.9" x2="571.3" y2="185.1" stroke="#f7f7f7" stroke-width="2.2"/>
<line x1="545.0" y1="190.9" x2="547.7" y2="206.8" stroke="#f7f7f7" stroke-width="2.3"/>
<line x1="571.3" y1="185.1" x2="601.0" y2="195.1" stroke="#f7f7f7" stroke-width="2.2"/>
<line x1="601.0" y1="195.1" x2="627.3" y2="189.3" stroke="#f7f7f7" stroke-width="2.2"/>
<line x1="601.0" y1="195.1" x2="604.6" y2="211.2" stroke="#f7f7f7" stroke-width="2.3"/>
<line x1="380.6" y1="194.1" x2="408.4" y2="204.2" stroke="#f7f7f7" stroke-width="2.3"/>
<line x1="408.4" y1="204.2" x2="435.7" y2="198.3" stroke="#f7f7f7" stroke-width="2.3"/>
<line x1="408.4" y1="204.2" x2="409.0" y2="220.5" stroke="#f7f7f7" stroke-width="2.4"/>
<line x1="435.7" y1="198.3" x2="464.2" y2="208.5" stroke="#f7f7f7" stroke-width="2.3"/>
<line x1="464.2" y1="208.5" x2="491.4" y2="202.6" stroke="#f7f7f7" stroke-width="2.3"/>
<line x1="464.2" y1="208.5" x2="465.7" y2="224.9" stroke="#f7f7f7" stroke-width="2.4"/>
<line x1="491.4" y1="202.6" x2="520.7" y2="212.8" stroke="#f7f7f7" stroke-width="2.3"/>
<line x1="520.7" y1="212.8" x2="547.7" y2="206.8" stroke="#f7f7f7" stroke-width="2.4"/>
<line x1="520.7" y1="212.8" x2="523.1" y2="229.4" stroke="#f7f7f7" stroke-width="2.5"/>
<line x1="547.7" y1="206.8" x2="577.7" y2="217.2" stroke="#f7f7f7" stroke-width="2.4"/>
<line x1="577.7" y1="217.2" x2="604.6" y2="211.2" stroke="#f7f7f7" stroke-width="2.4"/>
<line x1="577.7" y1="217.2" x2="581.1" y2="234.0" stroke="#f7f7f7" stroke-width="2.5"/>
<line x1="604.6" y1="211.2" x2="635.4" y2="221.6" stroke="#f7f7f7" stroke-width="2.4"/>
<line x1="381.0" y1="226.6" x2="409.0" y2="220.5" stroke="#f7f7f7" stroke-width="2.5"/>
<line x1="409.0" y1="220.5" x2="437.9" y2="231.1" stroke="#f7f7f7" stroke-width="2.5"/>
<line x1="437.9" y1="231.1" x2="465.7" y2="224.9" stroke="#f7f7f7" stroke-width="2.5"/>
<line x1="437.9" y1="231.1" x2="439.0" y2="248.3" stroke="#f7f7f7" stroke-width="2.6"/>
<line x1="465.7" y1="224.9" x2="495.3" y2="235.7" stroke="#f7f7f7" stroke-width="2.5"/>
<line x1="495.3" y1="235.7" x2="523.1" y2="229.4" stroke="#f7f7f7" stroke-width="2.6"/>
<line x1="495.3" y1="235.7" x2="497.4" y2="253.0" stroke="#f7f7f7" stroke-width="2.6"/>
<line x1="523.1" y1="229.4" x2="553.5" y2="240.3" stroke="#f7f7f7" stroke-width="2.6"/>
<line x1="553.5" y1="240.3" x2="581.1" y2="234.0" stroke="#f7f7f7" stroke-width="2.6"/>
<line x1="581.1" y1="234.0" x2="612.2" y2="244.9" stroke="#f7f7f7" stroke-width="2.6"/>
<circle cx="503.7" cy="97.2" r="4.6" class="nd"/>
<circle cx="429.0" cy="98.7" r="4.6" class="nd"/>
<circle cx="554.3" cy="100.5" r="4.6" class="nd"/>
<circle cx="479.3" cy="102.0" r="4.6" class="nd"/>
<circle cx="605.5" cy="103.9" r="4.6" class="nd"/>
<circle cx="530.1" cy="105.4" r="4.6" class="nd"/>
<circle cx="581.4" cy="108.8" r="4.6" class="nd"/>
<circle cx="429.9" cy="111.9" r="7.1" class="nd"/>
<circle cx="480.9" cy="115.3" r="7.2" class="nd"/>
<circle cx="404.9" cy="116.8" r="7.2" class="nd"/>
<circle cx="532.4" cy="118.8" r="7.3" class="nd"/>
<circle cx="456.0" cy="120.3" r="7.3" class="nd"/>
<circle cx="584.4" cy="122.3" r="7.3" class="nd"/>
<circle cx="507.6" cy="123.8" r="7.4" class="nd"/>
<circle cx="559.7" cy="127.4" r="7.4" class="nd"/>
<circle cx="405.4" cy="130.5" r="7.5" class="nd"/>
<circle cx="457.2" cy="134.1" r="7.6" class="nd"/>
<circle cx="509.6" cy="137.7" r="7.7" class="nd"/>
<circle cx="431.7" cy="139.3" r="7.7" class="nd"/>
<circle cx="562.5" cy="141.4" r="7.7" class="nd"/>
<circle cx="484.2" cy="143.0" r="7.8" class="nd"/>
<circle cx="537.2" cy="146.7" r="7.8" class="nd"/>
<circle cx="590.8" cy="150.5" r="7.9" class="nd"/>
<circle cx="432.7" cy="153.6" r="8.0" class="nd"/>
<circle cx="485.9" cy="157.4" r="8.0" class="nd"/>
<circle cx="406.6" cy="159.0" r="8.1" class="nd"/>
<circle cx="539.7" cy="161.3" r="8.1" class="nd"/>
<circle cx="459.9" cy="162.9" r="8.2" class="nd"/>
<circle cx="594.1" cy="165.2" r="8.2" class="nd"/>
<circle cx="513.8" cy="166.8" r="8.2" class="nd"/>
<circle cx="568.3" cy="170.7" r="8.3" class="nd"/>
<circle cx="407.2" cy="173.9" r="8.4" class="nd"/>
<circle cx="461.3" cy="177.9" r="8.5" class="nd"/>
<circle cx="516.0" cy="182.0" r="8.5" class="nd"/>
<circle cx="434.7" cy="183.6" r="8.6" class="nd"/>
<circle cx="571.3" cy="186.0" r="8.6" class="nd"/>
<circle cx="489.5" cy="187.7" r="8.7" class="nd"/>
<circle cx="545.0" cy="191.8" r="8.7" class="nd"/>
<circle cx="601.0" cy="196.0" r="8.8" class="nd"/>
<circle cx="435.7" cy="199.2" r="8.9" class="nd"/>
<circle cx="491.4" cy="203.5" r="9.0" class="nd"/>
<circle cx="408.4" cy="205.1" r="9.0" class="nd"/>
<circle cx="547.7" cy="207.7" r="9.1" class="nd"/>
<circle cx="464.2" cy="209.4" r="9.1" class="nd"/>
<circle cx="604.6" cy="212.1" r="9.1" class="nd"/>
<circle cx="520.7" cy="213.7" r="9.2" class="nd"/>
<circle cx="577.7" cy="218.1" r="9.3" class="nd"/>
<circle cx="409.0" cy="221.4" r="9.3" class="nd"/>
<circle cx="465.7" cy="225.8" r="9.4" class="nd"/>
<circle cx="523.1" cy="230.3" r="9.5" class="nd"/>
<circle cx="437.9" cy="232.0" r="9.5" class="nd"/>
<circle cx="581.1" cy="234.9" r="9.6" class="nd"/>
<circle cx="495.3" cy="236.6" r="9.6" class="nd"/>
<ellipse cx="503" cy="166" rx="90" ry="63" fill="#b4d6ec" opacity="0.4"/>
<ellipse cx="503" cy="165" rx="83" ry="55.5" fill="#f4f8fb" opacity="0.4"/>
<ellipse cx="501.2" cy="164.6" rx="72.5" ry="49.9" transform="rotate(2.5 501.2 164.6)" fill="#6d6f49" opacity="0.5"/>
<ellipse cx="501.2" cy="163.1" rx="71.5" ry="48.6" transform="rotate(2.5 501.2 163.1)" fill="#e6ece2"/>
<ellipse cx="483.3" cy="175.2" rx="42.9" ry="26.7" transform="rotate(2.5 483.3 175.2)" fill="#cfe3ee" opacity="0.5"/>
<ellipse cx="501.2" cy="165.7" rx="68.5" ry="45.6" transform="rotate(2.5 501.2 165.7)" fill="none" stroke="#85875c" stroke-width="4.88"/>
<ellipse cx="501.2" cy="163.1" rx="68.5" ry="45.6" transform="rotate(2.5 501.2 163.1)" fill="none" stroke="#adaf84" stroke-width="5.25"/>
<ellipse cx="501.2" cy="162.4" rx="68.5" ry="45.6" transform="rotate(2.5 501.2 162.4)" fill="none" stroke="#d0d2ac" stroke-width="2.20"/>
<ellipse cx="501.2" cy="165.2" rx="59.4" ry="35.7" transform="rotate(2.5 501.2 165.2)" fill="none" stroke="#85875c" stroke-width="4.00"/>
<ellipse cx="501.2" cy="163.1" rx="59.4" ry="35.7" transform="rotate(2.5 501.2 163.1)" fill="none" stroke="#adaf84" stroke-width="4.30"/>
<ellipse cx="501.2" cy="162.5" rx="59.4" ry="35.7" transform="rotate(2.5 501.2 162.5)" fill="none" stroke="#d0d2ac" stroke-width="1.80"/>
<ellipse cx="501.2" cy="165.2" rx="49.5" ry="26.5" transform="rotate(2.5 501.2 165.2)" fill="none" stroke="#85875c" stroke-width="4.00"/>
<ellipse cx="501.2" cy="163.1" rx="49.5" ry="26.5" transform="rotate(2.5 501.2 163.1)" fill="none" stroke="#adaf84" stroke-width="4.30"/>
<ellipse cx="501.2" cy="162.5" rx="49.5" ry="26.5" transform="rotate(2.5 501.2 162.5)" fill="none" stroke="#d0d2ac" stroke-width="1.80"/>
<ellipse cx="501.2" cy="165.2" rx="39.8" ry="17.9" transform="rotate(2.5 501.2 165.2)" fill="none" stroke="#85875c" stroke-width="4.00"/>
<ellipse cx="501.2" cy="163.1" rx="39.8" ry="17.9" transform="rotate(2.5 501.2 163.1)" fill="none" stroke="#adaf84" stroke-width="4.30"/>
<ellipse cx="501.2" cy="162.5" rx="39.8" ry="17.9" transform="rotate(2.5 501.2 162.5)" fill="none" stroke="#d0d2ac" stroke-width="1.80"/>
<ellipse cx="501.2" cy="165.2" rx="28.2" ry="10.1" transform="rotate(2.5 501.2 165.2)" fill="none" stroke="#85875c" stroke-width="4.00"/>
<ellipse cx="501.2" cy="163.1" rx="28.2" ry="10.1" transform="rotate(2.5 501.2 163.1)" fill="none" stroke="#adaf84" stroke-width="4.30"/>
<ellipse cx="501.2" cy="162.5" rx="28.2" ry="10.1" transform="rotate(2.5 501.2 162.5)" fill="none" stroke="#d0d2ac" stroke-width="1.80"/>
<ellipse cx="501.2" cy="165.2" rx="14.1" ry="4.1" transform="rotate(2.5 501.2 165.2)" fill="none" stroke="#85875c" stroke-width="4.00"/>
<ellipse cx="501.2" cy="163.1" rx="14.1" ry="4.1" transform="rotate(2.5 501.2 163.1)" fill="none" stroke="#adaf84" stroke-width="4.30"/>
<ellipse cx="501.2" cy="162.5" rx="14.1" ry="4.1" transform="rotate(2.5 501.2 162.5)" fill="none" stroke="#d0d2ac" stroke-width="1.80"/>
<polyline points="490.8,114.4 496.1,114.2 501.3,114.2 506.6,114.4 511.8,115.0 517.0,115.7 522.1,116.8 527.0,118.1 531.9,119.6 536.5,121.3 541.0,123.3 545.3,125.5 549.3,127.9 553.1,130.5 556.6,133.3 559.8,136.2 562.7,139.3 565.2,142.5 567.4,145.8 569.3,149.2 570.7,152.6 571.9,156.2 572.6,159.7 572.9,163.3 572.9,166.9" fill="none" stroke="#b5923a" stroke-width="1.3" opacity="0.85"/>
<path d="M466.4 138.0C467.3 138.7 469.6 141.6 471.8 142.0C474.1 142.4 478.0 139.3 479.9 140.2C481.8 141.1 483.1 144.9 483.1 147.4C483.1 150.0 479.6 153.7 479.9 155.5C480.3 157.3 484.3 157.9 485.2 158.4" fill="none" stroke="#cf1518" stroke-width="1.7" stroke-linecap="round"/>
<polyline points="444.9,160.8 446.2,160.9 447.4,161.0 448.3,160.8 449.0,160.4 449.4,159.7 449.5,158.7 449.4,157.5 449.2,156.2 449.0,154.9 448.9,153.8 449.0,152.8 449.4,152.1 450.1,151.7 451.1,151.5 452.2,151.6 453.5,151.7 454.8,151.9 456.0,151.9 456.9,151.7 457.6,151.3 458.0,150.5 458.1,149.5 458.0,148.4 457.7,147.1 457.5,145.8 457.4,144.6 457.6,143.7 458.0,143.0 458.7,142.6 459.7,142.4 460.9,142.5 462.2,142.6 463.5,142.8 464.6,142.8 465.6,142.6 466.2,142.1 466.6,141.4 466.7,140.4 466.5,139.2 466.3,137.9" fill="none" stroke="#191970" stroke-width="1.6" stroke-linecap="round" stroke-linejoin="round"/>
<polyline points="444.9,160.8 444.7,159.5 444.6,158.3 444.7,157.4 445.1,156.7 445.8,156.2 446.7,156.1 447.9,156.1 449.2,156.3 450.5,156.4 451.7,156.4 452.6,156.2 453.3,155.8 453.7,155.1 453.8,154.1 453.7,152.9 453.5,151.6 453.3,150.4 453.2,149.2 453.3,148.2 453.7,147.5 454.4,147.1 455.4,147.0 456.6,147.0 457.9,147.2 459.1,147.3 460.3,147.3 461.2,147.1 461.9,146.7 462.3,146.0 462.4,145.0 462.3,143.8 462.0,142.5 461.8,141.2 461.7,140.1 461.9,139.1 462.3,138.4 463.0,138.0 464.0,137.9 465.2,137.9 466.5,138.1" fill="none" stroke="#cf1518" stroke-width="1.6" stroke-linecap="round" stroke-linejoin="round"/>
<circle cx="453.4" cy="148.6" r="3.5" fill="url(#gy)"/>
<circle cx="457.0" cy="144.8" r="3.5" fill="url(#gy)"/>
<path d="M513.5 120.5C514.6 120.0 518.0 117.6 520.2 117.8C522.4 118.0 525.1 119.9 526.9 121.9C528.7 123.9 530.8 127.2 530.9 129.9C531.0 132.6 527.6 136.0 527.8 138.0C528.0 140.0 531.6 141.3 532.3 142.0" fill="none" stroke="#cf1518" stroke-width="1.7" stroke-linecap="round"/>
<polyline points="493.3,143.4 494.6,143.5 495.7,143.5 496.7,143.3 497.3,142.9 497.7,142.2 497.8,141.3 497.7,140.2 497.5,138.9 497.2,137.7 497.1,136.5 497.1,135.5 497.3,134.8 497.9,134.2 498.8,134.0 499.9,133.9 501.1,134.0 502.4,134.1 503.6,134.1 504.6,134.0 505.4,133.7 505.9,133.1 506.1,132.3 506.1,131.2 505.9,130.0 505.6,128.8 505.4,127.6 505.3,126.5 505.5,125.6 505.9,125.0 506.7,124.7 507.7,124.5 508.9,124.6 510.2,124.7 511.4,124.8 512.5,124.7 513.4,124.5 514.0,124.0 514.3,123.3 514.4,122.3 514.2,121.1" fill="none" stroke="#191970" stroke-width="1.6" stroke-linecap="round" stroke-linejoin="round"/>
<polyline points="493.3,143.4 493.0,142.2 492.9,141.0 493.0,140.1 493.3,139.3 493.9,138.9 494.8,138.6 495.9,138.6 497.2,138.7 498.5,138.8 499.6,138.8 500.6,138.7 501.4,138.3 501.8,137.7 502.0,136.8 501.9,135.7 501.7,134.5 501.4,133.2 501.2,132.1 501.2,131.0 501.4,130.2 501.9,129.6 502.7,129.3 503.8,129.2 505.0,129.3 506.3,129.4 507.5,129.5 508.6,129.4 509.4,129.1 510.0,128.6 510.2,127.8 510.2,126.8 510.0,125.6 509.8,124.3 509.5,123.1 509.4,122.0 509.6,121.1 510.0,120.4 510.7,120.0 511.6,119.9 512.8,119.9" fill="none" stroke="#cf1518" stroke-width="1.6" stroke-linecap="round" stroke-linejoin="round"/>
<circle cx="502.4" cy="130.6" r="3.5" fill="url(#gy)"/>
<circle cx="505.8" cy="126.6" r="3.5" fill="url(#gy)"/>
<polyline points="512.1,156.8 513.3,157.0 514.4,157.0 515.3,156.9 516.0,156.6 516.5,156.0 516.7,155.2 516.7,154.2 516.6,153.1 516.4,151.9 516.2,150.7 516.2,149.6 516.3,148.8 516.7,148.2 517.4,147.8 518.3,147.6 519.3,147.7 520.5,147.8 521.7,148.0 522.9,148.0 523.8,148.0 524.6,147.7 525.1,147.2 525.4,146.5 525.4,145.5 525.3,144.4 525.1,143.2 525.0,142.0 524.9,140.9 525.0,140.0 525.3,139.3 525.9,138.9 526.7,138.7 527.8,138.7 528.9,138.8 530.1,138.9 531.3,139.1 532.3,139.1 533.1,138.8 533.7,138.4 534.1,137.7" fill="none" stroke="#191970" stroke-width="1.6" stroke-linecap="round" stroke-linejoin="round"/>
<polyline points="512.1,156.8 511.9,155.6 511.8,154.5 511.9,153.6 512.2,152.9 512.7,152.4 513.5,152.1 514.6,152.1 515.7,152.2 516.9,152.4 518.1,152.5 519.1,152.5 520.0,152.3 520.6,151.9 521.0,151.3 521.1,150.4 521.0,149.3 520.9,148.1 520.7,146.9 520.5,145.8 520.6,144.8 520.8,144.0 521.3,143.5 522.0,143.2 523.0,143.1 524.1,143.2 525.3,143.4 526.5,143.5 527.6,143.6 528.5,143.4 529.2,143.1 529.6,142.5 529.8,141.6 529.8,140.6 529.6,139.5 529.4,138.3 529.3,137.1 529.3,136.1 529.4,135.2 529.9,134.6 530.5,134.3" fill="none" stroke="#cf1518" stroke-width="1.6" stroke-linecap="round" stroke-linejoin="round"/>
<circle cx="519.0" cy="149.4" r="3.5" fill="url(#gy)"/>
<circle cx="522.5" cy="145.6" r="3.5" fill="url(#gy)"/>
<path d="M485.2 159.5C486.1 159.2 488.6 157.3 490.6 157.8C492.6 158.3 495.8 160.4 497.3 162.2C498.8 164.1 498.4 167.5 499.5 168.9C500.6 170.3 503.3 170.2 504.1 170.4" fill="none" stroke="#cf1518" stroke-width="1.7" stroke-linecap="round"/>
<polyline points="462.4,179.6 463.6,179.9 464.8,180.0 465.7,179.9 466.5,179.6 466.9,179.0 467.2,178.1 467.2,177.0 467.1,175.8 467.0,174.5 467.0,173.3 467.1,172.3 467.5,171.6 468.1,171.1 468.9,170.9 470.0,171.0 471.2,171.2 472.5,171.5 473.7,171.7 474.7,171.7 475.5,171.5 476.1,171.0 476.5,170.3 476.6,169.3 476.5,168.1 476.4,166.8 476.4,165.6 476.4,164.5 476.7,163.6 477.2,163.0 477.9,162.7 478.9,162.7 480.0,162.8 481.3,163.1 482.5,163.3 483.6,163.5 484.6,163.4 485.3,163.0 485.7,162.4 485.9,161.5 485.9,160.3" fill="none" stroke="#191970" stroke-width="1.6" stroke-linecap="round" stroke-linejoin="round"/>
<polyline points="462.4,179.6 462.3,178.3 462.3,177.2 462.5,176.2 462.9,175.6 463.6,175.2 464.5,175.1 465.6,175.2 466.8,175.4 468.1,175.7 469.2,175.8 470.2,175.8 471.0,175.6 471.5,175.0 471.8,174.2 471.9,173.1 471.8,171.9 471.7,170.6 471.7,169.4 471.8,168.4 472.1,167.6 472.6,167.1 473.4,166.8 474.4,166.8 475.6,167.0 476.9,167.3 478.1,167.5 479.2,167.6 480.1,167.5 480.7,167.0 481.1,166.3 481.3,165.4 481.2,164.2 481.1,162.9 481.1,161.7 481.1,160.6 481.3,159.6 481.7,159.0 482.4,158.6 483.3,158.5 484.5,158.7" fill="none" stroke="#cf1518" stroke-width="1.6" stroke-linecap="round" stroke-linejoin="round"/>
<circle cx="469.6" cy="170.1" r="3.5" fill="url(#gy)"/>
<circle cx="473.5" cy="166.8" r="3.5" fill="url(#gy)"/>
<circle cx="476.6" cy="163.6" r="3.5" fill="url(#gy)"/>
<polyline points="483.9,195.8 485.9,196.0 487.4,195.8 488.3,195.0 488.5,193.5 488.3,191.6 488.0,189.6 488.0,188.0 488.7,187.0 490.1,186.6 491.9,186.7 493.9,186.9 495.7,186.9 496.8,186.3 497.2,185.0 497.0,183.2 496.7,181.2 496.6,179.4 497.1,178.2 498.2,177.6 500.0,177.6 502.0,177.9 503.8,178.0 505.2,177.5 505.8,176.4 505.8,174.8 505.5,172.8 505.2,170.9 505.5,169.5 506.5,168.7 508.1,168.6 510.0,168.8 512.0,168.9 513.5,168.7 514.3,167.8 514.5,166.3 514.2,164.4 513.9,162.4 514.0,160.8 514.8,159.8 516.2,159.5" fill="none" stroke="#191970" stroke-width="1.6" stroke-linecap="round" stroke-linejoin="round"/>
<polyline points="483.9,195.8 483.6,193.9 483.8,192.3 484.5,191.4 486.0,191.1 487.9,191.3 489.9,191.5 491.5,191.4 492.5,190.6 492.9,189.3 492.7,187.4 492.3,185.4 492.3,183.7 492.9,182.6 494.1,182.1 496.0,182.2 498.0,182.4 499.8,182.4 501.0,181.9 501.5,180.7 501.4,179.0 501.1,177.0 500.9,175.1 501.3,173.8 502.3,173.2 504.0,173.1 506.0,173.3 507.9,173.5 509.3,173.1 510.1,172.1 510.1,170.5 509.8,168.6 509.6,166.7 509.8,165.1 510.6,164.3 512.1,164.0 514.1,164.2 516.0,164.4 517.6,164.3 518.6,163.5 518.8,162.1" fill="none" stroke="#cf1518" stroke-width="1.6" stroke-linecap="round" stroke-linejoin="round"/>
<circle cx="493.2" cy="186.8" r="3.5" fill="url(#gy)"/>
<circle cx="496.4" cy="183.2" r="3.5" fill="url(#gy)"/>
<circle cx="513.6" cy="167.6" r="3.5" fill="url(#gy)"/>
<circle cx="516.4" cy="164.6" r="3.5" fill="url(#gy)"/>
<path d="M539.0 175.6C539.7 174.3 543.2 170.2 543.2 167.6C543.2 165.0 541.0 161.6 539.0 159.8C537.0 158.0 533.6 156.8 530.9 156.6C528.2 156.4 524.2 158.1 522.9 158.4" fill="none" stroke="#cf1518" stroke-width="1.7" stroke-linecap="round"/>
<polyline points="521.5,193.1 522.5,193.2 523.5,193.3 524.3,193.3 525.1,193.2 525.6,192.8 526.0,192.3 526.1,191.6 526.2,190.8 526.1,189.8 525.9,188.8 525.8,187.8 525.7,186.8 525.7,185.9 525.8,185.2 526.2,184.6 526.7,184.3 527.3,184.1 528.2,184.0 529.1,184.1 530.1,184.2 531.2,184.4 532.1,184.5 533.0,184.5 533.8,184.4 534.3,184.1 534.7,183.6 534.9,182.9 535.0,182.1 534.9,181.2 534.8,180.2 534.7,179.1 534.5,178.1 534.5,177.2 534.6,176.5 534.9,175.9 535.4,175.5 536.0,175.2 536.8,175.2 537.8,175.2 538.8,175.4" fill="none" stroke="#191970" stroke-width="1.6" stroke-linecap="round" stroke-linejoin="round"/>
<polyline points="521.5,193.1 521.4,192.1 521.3,191.1 521.3,190.3 521.4,189.5 521.8,189.0 522.3,188.6 523.0,188.5 523.8,188.4 524.8,188.5 525.8,188.7 526.8,188.8 527.8,188.9 528.7,188.9 529.4,188.8 530.0,188.4 530.3,187.9 530.5,187.3 530.6,186.4 530.5,185.5 530.4,184.5 530.2,183.4 530.1,182.5 530.1,181.6 530.2,180.8 530.5,180.3 531.0,179.9 531.7,179.7 532.5,179.6 533.4,179.7 534.4,179.8 535.5,179.9 536.5,180.1 537.4,180.1 538.1,180.0 538.7,179.7 539.1,179.2 539.4,178.6 539.4,177.8 539.4,176.8 539.2,175.8" fill="none" stroke="#cf1518" stroke-width="1.6" stroke-linecap="round" stroke-linejoin="round"/>
<circle cx="531.6" cy="185.2" r="3.5" fill="url(#gy)"/>
<circle cx="534.6" cy="182.2" r="3.5" fill="url(#gy)"/>
</g></g></g>
<g id="bignp"><line x1="529.0" y1="44.4" x2="534.6" y2="44.4" stroke="#1f1f45" stroke-width="1.15"/>
<line x1="528.9" y1="46.6" x2="534.5" y2="47.0" stroke="#1f1f45" stroke-width="1.15"/>
<line x1="528.7" y1="48.7" x2="534.2" y2="49.6" stroke="#1f1f45" stroke-width="1.15"/>
<line x1="528.2" y1="50.9" x2="533.7" y2="52.2" stroke="#1f1f45" stroke-width="1.15"/>
<line x1="527.6" y1="53.0" x2="532.9" y2="54.7" stroke="#1f1f45" stroke-width="1.15"/>
<line x1="526.8" y1="55.0" x2="532.0" y2="57.2" stroke="#1f1f45" stroke-width="1.15"/>
<line x1="525.9" y1="56.9" x2="530.9" y2="59.5" stroke="#1f1f45" stroke-width="1.15"/>
<line x1="524.8" y1="58.8" x2="529.6" y2="61.8" stroke="#1f1f45" stroke-width="1.15"/>
<line x1="523.6" y1="60.6" x2="528.1" y2="64.0" stroke="#1f1f45" stroke-width="1.15"/>
<line x1="522.2" y1="62.3" x2="526.4" y2="66.0" stroke="#1f1f45" stroke-width="1.15"/>
<line x1="520.7" y1="63.9" x2="524.6" y2="67.9" stroke="#1f1f45" stroke-width="1.15"/>
<line x1="519.1" y1="65.3" x2="522.6" y2="69.7" stroke="#1f1f45" stroke-width="1.15"/>
<line x1="517.3" y1="66.6" x2="520.5" y2="71.2" stroke="#1f1f45" stroke-width="1.15"/>
<line x1="515.5" y1="67.8" x2="518.3" y2="72.6" stroke="#1f1f45" stroke-width="1.15"/>
<line x1="513.6" y1="68.8" x2="516.0" y2="73.9" stroke="#1f1f45" stroke-width="1.15"/>
<line x1="511.6" y1="69.6" x2="513.6" y2="74.9" stroke="#1f1f45" stroke-width="1.15"/>
<line x1="509.5" y1="70.3" x2="511.1" y2="75.7" stroke="#1f1f45" stroke-width="1.15"/>
<line x1="507.4" y1="70.9" x2="508.5" y2="76.3" stroke="#1f1f45" stroke-width="1.15"/>
<line x1="505.3" y1="71.2" x2="505.9" y2="76.8" stroke="#1f1f45" stroke-width="1.15"/>
<line x1="503.1" y1="71.4" x2="503.3" y2="77.0" stroke="#1f1f45" stroke-width="1.15"/>
<line x1="500.9" y1="71.4" x2="500.7" y2="77.0" stroke="#1f1f45" stroke-width="1.15"/>
<line x1="498.7" y1="71.2" x2="498.1" y2="76.8" stroke="#1f1f45" stroke-width="1.15"/>
<line x1="496.6" y1="70.9" x2="495.5" y2="76.3" stroke="#1f1f45" stroke-width="1.15"/>
<line x1="494.5" y1="70.3" x2="492.9" y2="75.7" stroke="#1f1f45" stroke-width="1.15"/>
<line x1="492.4" y1="69.6" x2="490.4" y2="74.9" stroke="#1f1f45" stroke-width="1.15"/>
<line x1="490.4" y1="68.8" x2="488.0" y2="73.9" stroke="#1f1f45" stroke-width="1.15"/>
<line x1="488.5" y1="67.8" x2="485.7" y2="72.6" stroke="#1f1f45" stroke-width="1.15"/>
<line x1="486.7" y1="66.6" x2="483.5" y2="71.2" stroke="#1f1f45" stroke-width="1.15"/>
<line x1="484.9" y1="65.3" x2="481.4" y2="69.7" stroke="#1f1f45" stroke-width="1.15"/>
<line x1="483.3" y1="63.9" x2="479.4" y2="67.9" stroke="#1f1f45" stroke-width="1.15"/>
<line x1="481.8" y1="62.3" x2="477.6" y2="66.0" stroke="#1f1f45" stroke-width="1.15"/>
<line x1="480.4" y1="60.6" x2="475.9" y2="64.0" stroke="#1f1f45" stroke-width="1.15"/>
<line x1="479.2" y1="58.8" x2="474.4" y2="61.8" stroke="#1f1f45" stroke-width="1.15"/>
<line x1="478.1" y1="56.9" x2="473.1" y2="59.5" stroke="#1f1f45" stroke-width="1.15"/>
<line x1="477.2" y1="55.0" x2="472.0" y2="57.2" stroke="#1f1f45" stroke-width="1.15"/>
<line x1="476.4" y1="53.0" x2="471.1" y2="54.7" stroke="#1f1f45" stroke-width="1.15"/>
<line x1="475.8" y1="50.9" x2="470.3" y2="52.2" stroke="#1f1f45" stroke-width="1.15"/>
<line x1="475.3" y1="48.7" x2="469.8" y2="49.6" stroke="#1f1f45" stroke-width="1.15"/>
<line x1="475.1" y1="46.6" x2="469.5" y2="47.0" stroke="#1f1f45" stroke-width="1.15"/>
<line x1="475.0" y1="44.4" x2="469.4" y2="44.4" stroke="#1f1f45" stroke-width="1.15"/>
<line x1="475.1" y1="42.2" x2="469.5" y2="41.8" stroke="#1f1f45" stroke-width="1.15"/>
<line x1="475.3" y1="40.1" x2="469.8" y2="39.2" stroke="#1f1f45" stroke-width="1.15"/>
<line x1="475.8" y1="37.9" x2="470.3" y2="36.6" stroke="#1f1f45" stroke-width="1.15"/>
<line x1="476.4" y1="35.8" x2="471.1" y2="34.1" stroke="#1f1f45" stroke-width="1.15"/>
<line x1="477.2" y1="33.8" x2="472.0" y2="31.6" stroke="#1f1f45" stroke-width="1.15"/>
<line x1="478.1" y1="31.9" x2="473.1" y2="29.3" stroke="#1f1f45" stroke-width="1.15"/>
<line x1="479.2" y1="30.0" x2="474.4" y2="27.0" stroke="#1f1f45" stroke-width="1.15"/>
<line x1="480.4" y1="28.2" x2="475.9" y2="24.8" stroke="#1f1f45" stroke-width="1.15"/>
<line x1="481.8" y1="26.5" x2="477.6" y2="22.8" stroke="#1f1f45" stroke-width="1.15"/>
<line x1="483.3" y1="24.9" x2="479.4" y2="20.9" stroke="#1f1f45" stroke-width="1.15"/>
<line x1="484.9" y1="23.5" x2="481.4" y2="19.1" stroke="#1f1f45" stroke-width="1.15"/>
<line x1="486.7" y1="22.2" x2="483.5" y2="17.6" stroke="#1f1f45" stroke-width="1.15"/>
<line x1="488.5" y1="21.0" x2="485.7" y2="16.2" stroke="#1f1f45" stroke-width="1.15"/>
<line x1="490.4" y1="20.0" x2="488.0" y2="14.9" stroke="#1f1f45" stroke-width="1.15"/>
<line x1="492.4" y1="19.2" x2="490.4" y2="13.9" stroke="#1f1f45" stroke-width="1.15"/>
<line x1="494.5" y1="18.5" x2="492.9" y2="13.1" stroke="#1f1f45" stroke-width="1.15"/>
<line x1="496.6" y1="17.9" x2="495.5" y2="12.5" stroke="#1f1f45" stroke-width="1.15"/>
<line x1="498.7" y1="17.6" x2="498.1" y2="12.0" stroke="#1f1f45" stroke-width="1.15"/>
<line x1="500.9" y1="17.4" x2="500.7" y2="11.8" stroke="#1f1f45" stroke-width="1.15"/>
<line x1="503.1" y1="17.4" x2="503.3" y2="11.8" stroke="#1f1f45" stroke-width="1.15"/>
<line x1="505.3" y1="17.6" x2="505.9" y2="12.0" stroke="#1f1f45" stroke-width="1.15"/>
<line x1="507.4" y1="17.9" x2="508.5" y2="12.5" stroke="#1f1f45" stroke-width="1.15"/>
<line x1="509.5" y1="18.5" x2="511.1" y2="13.1" stroke="#1f1f45" stroke-width="1.15"/>
<line x1="511.6" y1="19.2" x2="513.6" y2="13.9" stroke="#1f1f45" stroke-width="1.15"/>
<line x1="513.6" y1="20.0" x2="516.0" y2="14.9" stroke="#1f1f45" stroke-width="1.15"/>
<line x1="515.5" y1="21.0" x2="518.3" y2="16.2" stroke="#1f1f45" stroke-width="1.15"/>
<line x1="517.3" y1="22.2" x2="520.5" y2="17.6" stroke="#1f1f45" stroke-width="1.15"/>
<line x1="519.1" y1="23.5" x2="522.6" y2="19.1" stroke="#1f1f45" stroke-width="1.15"/>
<line x1="520.7" y1="24.9" x2="524.6" y2="20.9" stroke="#1f1f45" stroke-width="1.15"/>
<line x1="522.2" y1="26.5" x2="526.4" y2="22.8" stroke="#1f1f45" stroke-width="1.15"/>
<line x1="523.6" y1="28.2" x2="528.1" y2="24.8" stroke="#1f1f45" stroke-width="1.15"/>
<line x1="524.8" y1="30.0" x2="529.6" y2="27.0" stroke="#1f1f45" stroke-width="1.15"/>
<line x1="525.9" y1="31.9" x2="530.9" y2="29.3" stroke="#1f1f45" stroke-width="1.15"/>
<line x1="526.8" y1="33.8" x2="532.0" y2="31.6" stroke="#1f1f45" stroke-width="1.15"/>
<line x1="527.6" y1="35.8" x2="532.9" y2="34.1" stroke="#1f1f45" stroke-width="1.15"/>
<line x1="528.2" y1="37.9" x2="533.7" y2="36.6" stroke="#1f1f45" stroke-width="1.15"/>
<line x1="528.7" y1="40.1" x2="534.2" y2="39.2" stroke="#1f1f45" stroke-width="1.15"/>
<line x1="528.9" y1="42.2" x2="534.5" y2="41.8" stroke="#1f1f45" stroke-width="1.15"/>
<circle cx="502" cy="44.4" r="28" fill="#c79f3a" stroke="#3b2a05" stroke-width="1.1"/>
<clipPath id="npc"><circle cx="502" cy="44.4" r="27.5"/></clipPath>
<circle cx="499.8" cy="41.8" r="26.6" fill="url(#gbig)" clip-path="url(#npc)"/>
<circle cx="490.3" cy="30.6" r="5.7" fill="#fbe9a2"/></g>
<g id="dnaicon"><path d="M521.6 291.6C522.3 291.1 524.3 288.7 526.0 288.8C527.7 288.9 530.3 290.5 532.0 292.0C533.7 293.5 534.2 296.9 536.0 298.0C537.8 299.1 540.5 298.7 543.0 298.5C545.5 298.3 548.9 296.4 551.0 297.0C553.1 297.6 554.9 299.7 555.5 302.0C556.1 304.3 554.2 308.0 554.5 311.0C554.8 314.0 556.1 317.2 557.0 320.0C557.9 322.8 560.2 325.6 560.0 328.0C559.8 330.4 557.3 333.2 556.0 334.5C554.7 335.8 552.7 335.3 552.0 335.5" fill="none" stroke="#cf1518" stroke-width="2.5" stroke-linecap="round"/>
<polyline points="478.5,339.2 480.7,339.1 482.8,338.8 484.5,338.2 485.9,337.3 486.8,336.0 487.4,334.3 487.5,332.3 487.5,330.1 487.4,327.9 487.5,325.7 487.7,323.8 488.4,322.3 489.5,321.1 491.0,320.3 492.8,319.8 495.0,319.6 497.2,319.5 499.4,319.3 501.4,319.0 503.0,318.3 504.2,317.2 505.0,315.8 505.4,314.0 505.5,311.9 505.4,309.7 505.4,307.5 505.5,305.4 505.9,303.6 506.7,302.2 507.9,301.1 509.5,300.4 511.5,300.1 513.7,299.9 515.9,299.8 518.0,299.6 519.9,299.1 521.4,298.3 522.5,297.1 523.1,295.6 523.4,293.7" fill="none" stroke="#191970" stroke-width="2.5" stroke-linecap="round" stroke-linejoin="round"/>
<polyline points="478.5,339.2 478.4,337.0 478.5,334.9 478.9,333.1 479.7,331.7 480.9,330.6 482.6,329.9 484.5,329.6 486.7,329.4 489.0,329.3 491.1,329.1 493.0,328.6 494.5,327.8 495.6,326.6 496.2,325.1 496.5,323.2 496.5,321.0 496.4,318.8 496.4,316.6 496.6,314.6 497.1,312.9 498.0,311.6 499.4,310.7 501.2,310.1 503.2,309.8 505.4,309.7 507.7,309.6 509.7,309.3 511.5,308.7 512.8,307.8 513.8,306.5 514.3,304.8 514.5,302.8 514.4,300.6 514.4,298.4 514.4,296.2 514.7,294.3 515.3,292.8 516.4,291.6 517.9,290.8 519.8,290.3" fill="none" stroke="#cf1518" stroke-width="2.5" stroke-linecap="round" stroke-linejoin="round"/>
<circle cx="498.0" cy="313.4" r="7.0" fill="url(#gy)"/>
<circle cx="502.6" cy="308.2" r="7.0" fill="url(#gy)"/>
<polyline points="508.5,367.5 510.5,367.8 512.3,368.0 514.0,367.9 515.4,367.4 516.6,366.6 517.4,365.4 518.0,363.9 518.3,362.0 518.6,360.1 518.8,358.1 519.2,356.2 519.7,354.6 520.5,353.3 521.6,352.4 522.9,351.9 524.6,351.8 526.4,351.9 528.4,352.2 530.3,352.5 532.2,352.7 534.0,352.7 535.4,352.3 536.6,351.6 537.5,350.4 538.1,348.9 538.5,347.2 538.8,345.2 539.0,343.2 539.3,341.3 539.8,339.7 540.6,338.3 541.6,337.4 542.9,336.8 544.5,336.6 546.3,336.7 548.2,336.9 550.2,337.2 552.1,337.5 553.9,337.5 555.4,337.2" fill="none" stroke="#191970" stroke-width="2.5" stroke-linecap="round" stroke-linejoin="round"/>
<polyline points="508.5,367.5 508.8,365.5 509.1,363.7 509.7,362.1 510.5,360.9 511.6,360.0 513.0,359.5 514.6,359.4 516.5,359.6 518.4,359.9 520.4,360.2 522.3,360.3 524.0,360.3 525.4,359.9 526.6,359.1 527.4,357.9 528.0,356.4 528.4,354.6 528.7,352.6 528.9,350.7 529.3,348.8 529.8,347.1 530.5,345.8 531.6,344.9 532.9,344.4 534.5,344.2 536.3,344.3 538.3,344.6 540.3,344.9 542.2,345.1 543.9,345.1 545.4,344.8 546.6,344.0 547.5,342.9 548.2,341.5 548.6,339.7 548.9,337.8 549.1,335.8 549.4,333.9 549.9,332.2 550.6,330.8" fill="none" stroke="#cf1518" stroke-width="2.5" stroke-linecap="round" stroke-linejoin="round"/>
<circle cx="532.2" cy="351.6" r="7.0" fill="url(#gy)"/>
<circle cx="536.6" cy="347.0" r="7.0" fill="url(#gy)"/></g>
<rect x="416.7" y="100.7" width="175.1" height="129.3" class="dash"/>
<rect x="411.5" y="380.3" width="175.7" height="129.5" class="dash"/>
<path d="M651.7 284.3V31.2H956M651.7 284.3H956" class="dash" style="stroke-width:2.1;stroke-dasharray:4.2 4.35"/>
<path d="M955.3 35V284.3" class="dash" style="stroke-width:1.4;stroke-dasharray:4.2 4.35"/>
<path d="M654.2 560V303.5H956" class="dash" style="stroke-width:2.1;stroke-dasharray:4.2 4.35;stroke-dashoffset:1.5"/>
<path d="M592 163.2H646" stroke="#1c1c1c" stroke-width="2" fill="none"/><circle cx="646.7" cy="163.2" r="3.6" fill="#1c1c1c"/>
<path d="M587.4 456.7H646" stroke="#1c1c1c" stroke-width="2" fill="none"/><circle cx="646.8" cy="456.7" r="3.6" fill="#1c1c1c"/>
<path d="M134 314L416 165.5" class="dash" style="stroke-width:1.6;stroke-dasharray:3.6 3.2"/>
<path d="M163 369L412 433" class="dash" style="stroke-width:1.6;stroke-dasharray:3.6 3.2"/>
<path d="M129.6 166.3Q150 195 160 215T172.5 243" class="dash" style="stroke-width:2"/>
<path d="M174.6 253L168 241.2L179.8 239.6Z" fill="#1c1c1c"/>
<circle cx="503.4" cy="83" r="3.5" fill="#1c1c1c"/><path d="M503.4 83V116" class="dash"/>
<circle cx="500.1" cy="363" r="3.5" fill="#1c1c1c"/><path d="M500.1 363V398" class="dash"/>
<path d="M710 66.9V223.95000000000002" class="ax" style="stroke-width:1.00"/><path d="M709.5 223.3H946.2" class="ax" style="stroke-width:1.3"/>
<line x1="706" y1="223.3" x2="710" y2="223.3" class="tk"/>
<text x="704.5" y="227.4" text-anchor="end" class="tl" style="font-size:11.4px">0.0</text>
<line x1="706" y1="171.2" x2="710" y2="171.2" class="tk"/>
<text x="704.5" y="175.3" text-anchor="end" class="tl" style="font-size:11.4px">0.2</text>
<line x1="706" y1="119.1" x2="710" y2="119.1" class="tk"/>
<text x="704.5" y="123.2" text-anchor="end" class="tl" style="font-size:11.4px">0.4</text>
<line x1="706" y1="66.9" x2="710" y2="66.9" class="tk"/>
<text x="704.5" y="71.0" text-anchor="end" class="tl" style="font-size:11.4px">0.6</text>
<line x1="710.0" y1="223.3" x2="710.0" y2="227.3" class="tk"/>
<text x="710.0" y="238.1" text-anchor="middle" class="tl" style="font-size:11.4px">0</text>
<line x1="719.4" y1="223.3" x2="719.4" y2="225.5" class="tk"/>
<line x1="728.9" y1="223.3" x2="728.9" y2="225.5" class="tk"/>
<line x1="738.3" y1="223.3" x2="738.3" y2="225.5" class="tk"/>
<line x1="747.7" y1="223.3" x2="747.7" y2="225.5" class="tk"/>
<line x1="757.1" y1="223.3" x2="757.1" y2="225.5" class="tk"/>
<line x1="766.5" y1="223.3" x2="766.5" y2="225.5" class="tk"/>
<line x1="776.0" y1="223.3" x2="776.0" y2="225.5" class="tk"/>
<line x1="785.4" y1="223.3" x2="785.4" y2="225.5" class="tk"/>
<line x1="794.8" y1="223.3" x2="794.8" y2="225.5" class="tk"/>
<line x1="804.2" y1="223.3" x2="804.2" y2="227.3" class="tk"/>
<text x="804.2" y="238.1" text-anchor="middle" class="tl" style="font-size:11.4px">100</text>
<line x1="813.7" y1="223.3" x2="813.7" y2="225.5" class="tk"/>
<line x1="823.1" y1="223.3" x2="823.1" y2="225.5" class="tk"/>
<line x1="832.5" y1="223.3" x2="832.5" y2="225.5" class="tk"/>
<line x1="842.0" y1="223.3" x2="842.0" y2="225.5" class="tk"/>
<line x1="851.4" y1="223.3" x2="851.4" y2="225.5" class="tk"/>
<line x1="860.8" y1="223.3" x2="860.8" y2="225.5" class="tk"/>
<line x1="870.2" y1="223.3" x2="870.2" y2="225.5" class="tk"/>
<line x1="879.6" y1="223.3" x2="879.6" y2="225.5" class="tk"/>
<line x1="889.1" y1="223.3" x2="889.1" y2="225.5" class="tk"/>
<line x1="898.5" y1="223.3" x2="898.5" y2="227.3" class="tk"/>
<text x="898.5" y="238.1" text-anchor="middle" class="tl" style="font-size:11.4px">200</text>
<line x1="907.9" y1="223.3" x2="907.9" y2="225.5" class="tk"/>
<line x1="917.4" y1="223.3" x2="917.4" y2="225.5" class="tk"/>
<line x1="926.8" y1="223.3" x2="926.8" y2="225.5" class="tk"/>
<line x1="936.2" y1="223.3" x2="936.2" y2="225.5" class="tk"/>
<line x1="945.6" y1="223.3" x2="945.6" y2="225.5" class="tk"/>
<polyline points="710.0,221.2 719.4,221.2 730.7,220.7 738.3,219.9 739.2,222.3 742.0,219.7 745.8,217.0 751.5,216.0 757.1,215.5 762.8,216.5 768.4,218.1 775.0,220.4 776.0,220.7 777.9,217.8 785.4,216.8 791.1,216.0 792.5,218.3 796.7,217.6 804.2,216.0 809.9,214.7 813.7,213.7 817.4,214.4 823.1,216.8 828.8,219.9 830.6,218.6 834.4,220.2 842.0,219.4 847.6,218.9 856.1,219.4 862.7,218.3 870.2,216.5 875.9,215.7 883.4,216.5 891.0,217.6 898.5,217.6 905.1,218.1 911.7,219.9 919.2,221.5 926.8,222.8 932.4,221.7 938.1,219.4 942.8,216.8" fill="none" stroke="#d8141c" stroke-width="2.5" stroke-linejoin="round" stroke-linecap="round"/>
<path d="M702.9 338.1V501.75" class="ax" style="stroke-width:1.22"/><path d="M702.4 500.9H950" class="ax" style="stroke-width:1.7"/>
<line x1="698.9" y1="500.9" x2="702.9" y2="500.9" class="tk"/>
<text x="697.4" y="505.1" text-anchor="end" class="tl" style="font-size:11.8px">0.0</text>
<line x1="698.9" y1="473.8" x2="702.9" y2="473.8" class="tk"/>
<text x="697.4" y="478.0" text-anchor="end" class="tl" style="font-size:11.8px">0.1</text>
<line x1="698.9" y1="446.6" x2="702.9" y2="446.6" class="tk"/>
<text x="697.4" y="450.9" text-anchor="end" class="tl" style="font-size:11.8px">0.2</text>
<line x1="698.9" y1="419.5" x2="702.9" y2="419.5" class="tk"/>
<text x="697.4" y="423.8" text-anchor="end" class="tl" style="font-size:11.8px">0.3</text>
<line x1="698.9" y1="392.4" x2="702.9" y2="392.4" class="tk"/>
<text x="697.4" y="396.6" text-anchor="end" class="tl" style="font-size:11.8px">0.4</text>
<line x1="698.9" y1="365.2" x2="702.9" y2="365.2" class="tk"/>
<text x="697.4" y="369.5" text-anchor="end" class="tl" style="font-size:11.8px">0.5</text>
<line x1="698.9" y1="338.1" x2="702.9" y2="338.1" class="tk"/>
<text x="697.4" y="342.4" text-anchor="end" class="tl" style="font-size:11.8px">0.6</text>
<line x1="702.9" y1="500.9" x2="702.9" y2="504.9" class="tk"/>
<text x="702.9" y="515.9" text-anchor="middle" class="tl" style="font-size:11.8px">0</text>
<line x1="712.7" y1="500.9" x2="712.7" y2="503.09999999999997" class="tk"/>
<line x1="722.5" y1="500.9" x2="722.5" y2="503.09999999999997" class="tk"/>
<line x1="732.4" y1="500.9" x2="732.4" y2="503.09999999999997" class="tk"/>
<line x1="742.2" y1="500.9" x2="742.2" y2="503.09999999999997" class="tk"/>
<line x1="752.0" y1="500.9" x2="752.0" y2="503.09999999999997" class="tk"/>
<line x1="761.8" y1="500.9" x2="761.8" y2="503.09999999999997" class="tk"/>
<line x1="771.6" y1="500.9" x2="771.6" y2="503.09999999999997" class="tk"/>
<line x1="781.5" y1="500.9" x2="781.5" y2="503.09999999999997" class="tk"/>
<line x1="791.3" y1="500.9" x2="791.3" y2="503.09999999999997" class="tk"/>
<line x1="801.1" y1="500.9" x2="801.1" y2="504.9" class="tk"/>
<text x="801.1" y="515.9" text-anchor="middle" class="tl" style="font-size:11.8px">100</text>
<line x1="810.9" y1="500.9" x2="810.9" y2="503.09999999999997" class="tk"/>
<line x1="820.7" y1="500.9" x2="820.7" y2="503.09999999999997" class="tk"/>
<line x1="830.6" y1="500.9" x2="830.6" y2="503.09999999999997" class="tk"/>
<line x1="840.4" y1="500.9" x2="840.4" y2="503.09999999999997" class="tk"/>
<line x1="850.2" y1="500.9" x2="850.2" y2="503.09999999999997" class="tk"/>
<line x1="860.0" y1="500.9" x2="860.0" y2="503.09999999999997" class="tk"/>
<line x1="869.8" y1="500.9" x2="869.8" y2="503.09999999999997" class="tk"/>
<line x1="879.7" y1="500.9" x2="879.7" y2="503.09999999999997" class="tk"/>
<line x1="889.5" y1="500.9" x2="889.5" y2="503.09999999999997" class="tk"/>
<line x1="899.3" y1="500.9" x2="899.3" y2="504.9" class="tk"/>
<text x="899.3" y="515.9" text-anchor="middle" class="tl" style="font-size:11.8px">200</text>
<line x1="909.1" y1="500.9" x2="909.1" y2="503.09999999999997" class="tk"/>
<line x1="918.9" y1="500.9" x2="918.9" y2="503.09999999999997" class="tk"/>
<line x1="928.8" y1="500.9" x2="928.8" y2="503.09999999999997" class="tk"/>
<line x1="938.6" y1="500.9" x2="938.6" y2="503.09999999999997" class="tk"/>
<line x1="948.4" y1="500.9" x2="948.4" y2="503.09999999999997" class="tk"/>
<polyline points="702.9,500.9 740.2,500.9 752.0,500.9 754.0,495.5 756.9,479.2 759.9,462.9 761.3,458.0 763.8,456.7 766.7,453.4 771.6,441.2 775.6,432.5 778.5,429.3 781.5,428.2 784.4,424.9 786.4,419.5 788.3,410.0 790.3,396.4 792.3,388.3 794.2,385.1 796.7,383.7 798.6,385.6 800.6,389.7 803.1,389.7 806.0,387.8 809.9,388.0 813.9,388.6 817.8,388.3 821.7,385.6 826.6,382.1 831.5,379.4 836.5,376.1 841.4,374.7 846.3,373.9 851.2,374.2 856.1,373.4 860.0,373.9 863.0,376.1 865.9,380.2 869.8,387.5 873.8,394.6 877.7,400.0 881.6,403.2 885.6,404.6 888.5,403.8 892.4,400.0 896.4,396.4 899.8,393.5 902.2,395.1 905.2,399.2 909.1,403.2 913.0,405.9 916.0,407.0 919.9,405.9 923.8,403.8 928.8,401.6 933.7,398.3 937.6,395.1 941.5,391.6" fill="none" stroke="#0d0dc9" stroke-width="3.2" stroke-linejoin="round" stroke-linecap="round"/>
<text x="827.6" y="256.3" text-anchor="middle" style="font-family:'Liberation Sans',sans-serif;font-size:13.1px;fill:#1a1a1a">Time (sec)</text>
<text x="826.5" y="533.8" text-anchor="middle" style="font-family:'Liberation Sans',sans-serif;font-size:13.2px;fill:#1a1a1a">Time (sec)</text>
<text transform="translate(681,142.2) rotate(-90)" text-anchor="middle" style="font-family:'Liberation Sans',sans-serif;font-size:13.9px;fill:#1a1a1a">ΔV/V<tspan dy="2.8" font-size="9.6">0</tspan></text>
<text transform="translate(673.3,414.8) rotate(-90)" text-anchor="middle" style="font-family:'Liberation Sans',sans-serif;font-size:15px;fill:#1a1a1a">ΔV/V<tspan dy="3" font-size="10.4">0</tspan></text>
<defs>
<linearGradient id="fade1" x1="0" y1="0" x2="0" y2="1"><stop offset="0" stop-color="#fff"/><stop offset="0.72" stop-color="#fff"/><stop offset="0.97" stop-color="#000"/></linearGradient>
<mask id="m1"><rect x="0" y="0" width="160" height="140" fill="url(#fade1)"/></mask>
<linearGradient id="fade2" x1="0" y1="0" x2="0.15" y2="1"><stop offset="0" stop-color="#fff"/><stop offset="0.66" stop-color="#fff"/><stop offset="0.95" stop-color="#000"/></linearGradient>
<mask id="m2"><rect x="150" y="0" width="160" height="140" fill="url(#fade2)"/></mask>
</defs>
<g mask="url(#m1)">
<path d="M99.5 17.1C99.8 18.2 101.1 21.9 101.6 24.0C102.1 26.1 102.3 28.1 102.6 30.0C102.9 31.9 103.1 33.6 103.4 35.5C103.7 37.4 104.0 39.6 104.6 41.3C105.2 43.0 106.1 43.9 107.2 45.6C108.3 47.3 110.9 50.0 111.4 51.6C111.9 53.2 111.0 54.1 110.0 55.0C109.0 55.9 105.9 56.3 105.2 57.2C104.5 58.1 105.6 59.5 105.6 60.4C105.6 61.3 106.1 61.8 105.4 62.6C104.7 63.4 101.5 64.3 101.2 65.4C100.9 66.5 102.9 67.8 103.4 69.0C103.9 70.2 104.1 71.4 104.0 72.4C103.9 73.4 102.9 74.0 102.8 75.2C102.7 76.4 103.7 78.1 103.4 79.5C103.1 80.9 102.2 82.6 101.2 83.6C100.2 84.6 99.5 85.6 97.5 85.4C95.5 85.2 91.0 83.4 89.0 82.6C87.0 81.8 86.2 81.1 85.6 80.8C85.3 82.4 83.4 87.0 83.6 90.3C83.8 93.5 85.0 96.5 86.5 100.3C88.0 104.1 90.1 108.7 92.8 112.9C95.5 117.1 100.3 121.2 102.8 125.4C105.3 129.6 107.0 135.9 107.8 138.0L20 138C20.6 135.5 22.1 127.3 23.8 122.9C25.5 118.5 27.4 115.8 30.1 111.6C32.8 107.4 37.8 103.0 40.1 97.8C42.4 92.6 43.5 85.6 43.9 80.3C44.3 75.0 42.8 68.1 42.6 65.7C41.5 64.2 38.2 59.8 36.3 56.4C34.4 53.0 32.4 49.1 31.3 45.1C30.2 41.1 29.4 36.8 29.6 32.6C29.8 28.4 30.4 24.1 32.6 20.1C34.8 16.1 38.0 11.7 42.6 8.8C47.2 5.9 53.9 3.5 60.2 2.6C66.5 1.7 74.8 2.6 80.2 3.4C85.6 4.2 89.3 5.3 92.5 7.6C95.7 9.9 98.3 15.5 99.5 17.1Z" fill="#ededed" stroke="#9c9c9c" stroke-width="1"/>
<path d="M68 55C72 66 80 76 86 81C83 92 88 104 94 114C84 104 74 92 70 80C62 72 62 62 68 55Z" fill="#e2e2e2"/>
<path d="M44 80C52 92 50 104 40 116C34 124 30 130 28 138" fill="none" stroke="#d4d4d4" stroke-width="1"/>
<path d="M52 118C62 112 76 112 86 118" fill="none" stroke="#d9d9d9" stroke-width="1"/>
</g>
<path d="M99.5 17.1C98.6 17.3 96.5 17.3 93.9 18.1C91.4 18.9 87.1 20.4 84.2 21.9C81.3 23.4 78.4 25.4 76.6 27.2C74.8 29.0 73.9 30.4 73.2 32.5C72.5 34.5 72.3 37.1 72.2 39.5C72.1 41.9 73.1 46.8 72.8 46.6C72.5 46.5 71.3 40.9 70.2 38.6C69.1 36.3 68.0 33.5 66.0 33.0C64.0 32.5 59.6 33.0 58.0 35.5C56.4 38.0 56.7 44.6 56.2 47.7C55.7 50.8 56.1 51.8 55.1 53.9C54.1 56.0 52.2 58.2 50.1 60.2C48.0 62.2 43.9 64.8 42.6 65.7C41.5 64.2 38.2 59.8 36.3 56.4C34.4 53.0 32.4 49.1 31.3 45.1C30.2 41.1 29.4 36.8 29.6 32.6C29.8 28.4 30.4 24.1 32.6 20.1C34.8 16.1 38.0 11.7 42.6 8.8C47.2 5.9 53.9 3.5 60.2 2.6C66.5 1.7 74.8 2.6 80.2 3.4C85.6 4.2 89.3 5.3 92.5 7.6C95.7 9.9 98.3 15.5 99.5 17.1Z" fill="#b9b9b9" stroke="#8e8e8e" stroke-width="0.9"/>
<path d="M58.6 47.5C55.6 41 58 34.6 63.4 34.4C68.6 34.2 70.6 39.4 69.4 44.6C68.6 49.2 66.4 53.6 63.2 53.4C60.6 53.2 59.8 50.2 58.6 47.5Z" fill="#f1f1f1" stroke="#9c9c9c" stroke-width="0.9"/>
<path d="M61 40.5C62.6 37.8 66 38 66.6 41.4C67 44 65.6 46 64.2 47.4" fill="none" stroke="#b5b5b5" stroke-width="0.8"/>
<path d="M68.4 53.6C70 62 77 74 89 82.4" fill="none" stroke="#a8a8a8" stroke-width="0.9"/>
<path d="M93.8 39.6Q96.6 41.8 99.8 40.4" fill="none" stroke="#8a8a8a" stroke-width="1"/>
<path d="M90.6 35.6Q95 31.6 102 32.6" fill="none" stroke="#c4c4c4" stroke-width="1.5"/>
<path d="M104.6 53.6Q105.6 55.8 107.8 55.6" fill="none" stroke="#aaaaaa" stroke-width="0.8"/>
<path d="M105.4 62.4L100.6 65.2L103.2 69Z" fill="#cfcfcf"/>
<path d="M101.6 67L120.2 60.4" stroke="#9a9a9a" stroke-width="4.2" stroke-linecap="round"/>
<path d="M101.6 67L120.2 60.4" stroke="#f4f4f4" stroke-width="2.6" stroke-linecap="round"/>
<path d="M120.6 60.2L146 51.2" stroke="#2f78ad" stroke-width="3.6" stroke-linecap="round"/>
<path d="M121 59.6L146 50.8" stroke="#5aa7d8" stroke-width="1.5" stroke-linecap="round"/>
<circle cx="146.6" cy="50.9" r="2.3" fill="#3a86bd" stroke="#2a6a9a" stroke-width="0.6"/>
<path d="M119.2 58.4L120.8 62.8" stroke="#666" stroke-width="1.2"/>
<g mask="url(#m2)">
<path d="M244.1 15.1C244.9 16.1 247.2 19.6 249.1 21.3C251.0 23.0 252.7 23.8 255.4 25.1C258.1 26.4 263.0 27.6 265.4 28.9C267.8 30.2 269.3 31.4 269.7 33.1C270.1 34.8 269.0 37.1 267.9 38.9C266.8 40.7 262.9 42.2 262.9 43.9C262.9 45.6 266.6 47.4 267.9 48.9C269.2 50.4 270.7 51.5 270.9 52.7C271.1 54.0 268.8 55.1 269.1 56.4C269.4 57.6 271.8 58.9 272.9 60.2C273.9 61.5 274.0 62.1 275.4 64.0C276.8 65.9 280.6 69.2 281.2 71.5C281.8 73.8 281.0 75.9 279.2 77.8C277.4 79.7 273.5 81.1 270.4 82.8C267.3 84.5 262.9 86.1 260.4 87.8C257.9 89.5 256.2 92.0 255.4 92.8C255.2 94.9 255.4 101.2 254.1 105.4C252.8 109.6 249.7 113.7 247.8 117.9C245.9 122.1 243.8 127.2 242.8 130.5C241.8 133.8 241.8 136.8 241.6 138.0L188 138C188.6 135.2 190.2 125.6 191.6 121.0C193.0 116.4 195.2 113.8 196.4 110.4C197.6 107.0 198.7 103.1 198.9 100.4C199.1 97.7 197.8 95.1 197.6 94.1C195.9 93.5 191.1 92.0 187.6 90.3C184.1 88.6 179.9 86.9 176.3 84.0C172.8 81.1 168.8 77.2 166.3 72.8C163.8 68.4 162.3 62.7 161.5 57.7C160.7 52.7 160.5 47.8 161.5 42.6C162.5 37.4 164.6 31.1 167.5 26.3C170.4 21.5 174.2 17.4 178.8 13.8C183.4 10.2 189.4 6.9 195.1 5.0C200.8 3.1 206.8 2.4 212.7 2.6C218.6 2.8 225.1 4.2 230.3 6.3C235.5 8.4 241.8 13.6 244.1 15.1Z" fill="#f0f0f0" stroke="#9c9c9c" stroke-width="1"/>
<clipPath id="h2c"><path d="M244.1 15.1C244.9 16.1 247.2 19.6 249.1 21.3C251.0 23.0 252.7 23.8 255.4 25.1C258.1 26.4 263.0 27.6 265.4 28.9C267.8 30.2 269.3 31.4 269.7 33.1C270.1 34.8 269.0 37.1 267.9 38.9C266.8 40.7 262.9 42.2 262.9 43.9C262.9 45.6 266.6 47.4 267.9 48.9C269.2 50.4 270.7 51.5 270.9 52.7C271.1 54.0 268.8 55.1 269.1 56.4C269.4 57.6 271.8 58.9 272.9 60.2C273.9 61.5 274.0 62.1 275.4 64.0C276.8 65.9 280.6 69.2 281.2 71.5C281.8 73.8 281.0 75.9 279.2 77.8C277.4 79.7 273.5 81.1 270.4 82.8C267.3 84.5 262.9 86.1 260.4 87.8C257.9 89.5 256.2 92.0 255.4 92.8C255.2 94.9 255.4 101.2 254.1 105.4C252.8 109.6 249.7 113.7 247.8 117.9C245.9 122.1 243.8 127.2 242.8 130.5C241.8 133.8 241.8 136.8 241.6 138.0L188 138C188.6 135.2 190.2 125.6 191.6 121.0C193.0 116.4 195.2 113.8 196.4 110.4C197.6 107.0 198.7 103.1 198.9 100.4C199.1 97.7 197.8 95.1 197.6 94.1C195.9 93.5 191.1 92.0 187.6 90.3C184.1 88.6 179.9 86.9 176.3 84.0C172.8 81.1 168.8 77.2 166.3 72.8C163.8 68.4 162.3 62.7 161.5 57.7C160.7 52.7 160.5 47.8 161.5 42.6C162.5 37.4 164.6 31.1 167.5 26.3C170.4 21.5 174.2 17.4 178.8 13.8C183.4 10.2 189.4 6.9 195.1 5.0C200.8 3.1 206.8 2.4 212.7 2.6C218.6 2.8 225.1 4.2 230.3 6.3C235.5 8.4 241.8 13.6 244.1 15.1Z"/></clipPath>
<g clip-path="url(#h2c)"><path d="M155 50C176 56 196 62 214 74C232 84 250 86 268 80C276 78 284 76 290 74L290 100L258 92L256 140L180 140L198 94L150 100Z" fill="#dedede"/>
<path d="M200 95C214 90 236 90 256 92L254 140L190 140Z" fill="#e9e9e9"/>
<path d="M224 96C232 106 234 120 232 138" fill="none" stroke="#d2d2d2" stroke-width="1"/>
</g></g>
<path d="M200.6 59.4C200.8 54.6 206.4 52 212.8 53.4C219.4 54.8 223.6 60.6 222.6 66.4C221.6 71 216.4 70.6 210.6 69C205 67.4 200.6 64.2 200.6 59.4Z" fill="#f3f3f3" stroke="#9c9c9c" stroke-width="0.9"/>
<path d="M204.6 60.4C206 57 211 57 214.6 59.6C217 61.6 217.6 64.4 215.6 65.6M209 61.4Q211 64.4 214 64.6" fill="none" stroke="#b2b2b2" stroke-width="0.8"/>
<path d="M231.6 21.8Q237 16.6 243.6 17.2" fill="none" stroke="#9a9a9a" stroke-width="1.8" stroke-linecap="round"/>
<path d="M237.4 26.4Q240.6 24.6 243.8 26.2Q241 29.4 238.2 28.6Z" fill="#e2e2e2" stroke="#8e8e8e" stroke-width="0.8"/>
<circle cx="241.2" cy="27" r="1.1" fill="#777"/>
<path d="M258.6 38.6Q260.4 41.4 263.4 40.6" fill="none" stroke="#aaa" stroke-width="0.8"/>
<path d="M264.6 56.6L269 56.4" fill="none" stroke="#aaa" stroke-width="0.8"/>
<path d="M300.6 25.6L346 9.2" stroke="#dcae86" stroke-width="1.1"/>
<circle cx="298.6" cy="26.4" r="1.5" fill="#fff" stroke="#aaa" stroke-width="0.6"/>
<rect x="-5.6" y="-3.1" width="11.2" height="6.2" rx="1.4" transform="translate(350.4,7.6) rotate(-20)" fill="#d8342c" stroke="#a8201a" stroke-width="0.6"/>
<path d="M347.6 5.6L349.8 11.2" stroke="#f08a80" stroke-width="0.8"/>
<path d="M292.4 29.4L281 34.2" stroke="#151515" stroke-width="1.5"/>
<path d="M276.4 36.2L283.2 30.2L285.4 35.6Z" fill="#151515"/>
</svg>
<div class="t" style="left:65.6px;top:180.9px;font-size:19.95px;">Nasal swab and saliva</div>
<div class="t" style="left:123.6px;top:205.2px;font-size:20.3px;">samples</div>
<div class="t" style="left:414.6px;top:262.6px;font-size:20.0px;">DNA-RNA hybridization</div>
<div class="t" style="left:262.4px;top:196.6px;font-size:35.8px;font-weight:bold;color:#1b86c8;">Negative</div>
<div class="t" style="left:260.2px;top:455.7px;font-size:35.8px;font-weight:bold;color:#c4141b;">Positive</div>
<div class="t" style="left:727px;top:39.5px;font-size:32.55px;font-weight:bold;">No response</div>
<div class="t" style="left:727px;top:322.2px;font-size:32.43px;font-weight:bold;">High response</div>
</body></html>
